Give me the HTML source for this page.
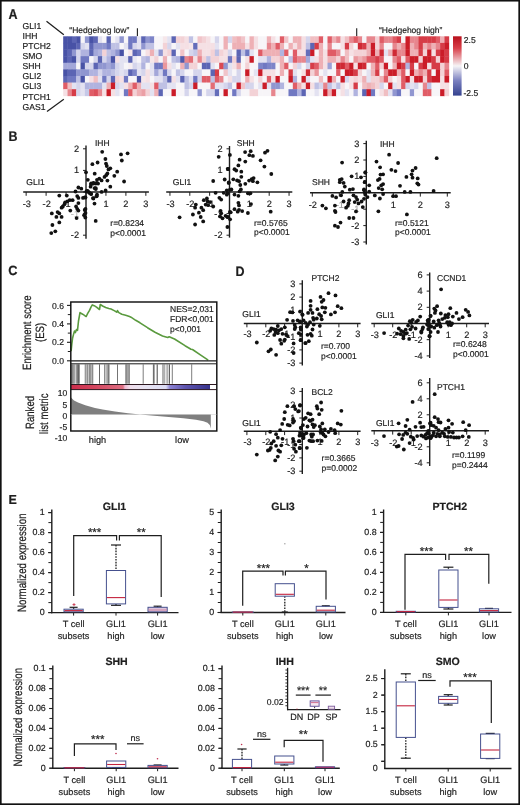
<!DOCTYPE html>
<html><head><meta charset="utf-8"><style>
html,body{margin:0;padding:0;background:#fff;}
#fig{position:relative;width:520px;height:805px;overflow:hidden;will-change:transform;}
svg{position:absolute;left:0;top:0;}
svg.main{filter:blur(0.3px);}
text{font-family:"Liberation Sans",sans-serif;stroke-width:0.18px;text-rendering:geometricPrecision;}
</style></head><body><div id="fig">
<svg class="main" width="520" height="805" viewBox="0 0 520 805">
<rect x="0" y="0" width="520" height="805" fill="#fff"/>
<text x="0" y="0" transform="translate(8.50,18.90) scale(1.0,1.14)" font-size="12.5" font-weight="bold" fill="#1e1e1e" stroke="#1e1e1e">A</text>
<text x="22.60" y="28.80" font-size="8.6" fill="#1e1e1e" stroke="#1e1e1e">GLI1</text>
<text x="22.60" y="38.90" font-size="8.6" fill="#1e1e1e" stroke="#1e1e1e">IHH</text>
<text x="22.60" y="49.00" font-size="8.6" fill="#1e1e1e" stroke="#1e1e1e">PTCH2</text>
<text x="22.60" y="59.10" font-size="8.6" fill="#1e1e1e" stroke="#1e1e1e">SMO</text>
<text x="22.60" y="69.20" font-size="8.6" fill="#1e1e1e" stroke="#1e1e1e">SHH</text>
<text x="22.60" y="79.30" font-size="8.6" fill="#1e1e1e" stroke="#1e1e1e">GLI2</text>
<text x="22.60" y="89.40" font-size="8.6" fill="#1e1e1e" stroke="#1e1e1e">GLI3</text>
<text x="22.60" y="99.50" font-size="8.6" fill="#1e1e1e" stroke="#1e1e1e">PTCH1</text>
<text x="22.60" y="109.60" font-size="8.6" fill="#1e1e1e" stroke="#1e1e1e">GAS1</text>
<line x1="46.50" y1="21.30" x2="63.80" y2="34.70" stroke="#1e1e1e" stroke-width="1.25"/>
<line x1="47.00" y1="111.60" x2="63.80" y2="99.30" stroke="#1e1e1e" stroke-width="1.25"/>
<text x="69.30" y="32.90" font-size="8.5" fill="#1e1e1e" stroke="#1e1e1e">“Hedgehog low”</text>
<line x1="137.40" y1="28.20" x2="137.40" y2="36.30" stroke="#1e1e1e" stroke-width="1.1"/>
<text x="379.00" y="33.00" font-size="8.5" fill="#1e1e1e" stroke="#1e1e1e">“Hedgehog high”</text>
<line x1="356.70" y1="28.20" x2="356.70" y2="36.30" stroke="#1e1e1e" stroke-width="1.1"/>
<rect x="63.20" y="36.30" width="4.68" height="6.96" fill="#4852a6"/>
<rect x="67.53" y="36.30" width="4.68" height="6.96" fill="#4852a6"/>
<rect x="71.87" y="36.30" width="4.68" height="6.96" fill="#5c65b4"/>
<rect x="76.20" y="36.30" width="4.68" height="6.96" fill="#4852a6"/>
<rect x="80.53" y="36.30" width="4.68" height="6.96" fill="#f7f5f8"/>
<rect x="84.86" y="36.30" width="4.68" height="6.96" fill="#9096d0"/>
<rect x="89.20" y="36.30" width="4.68" height="6.96" fill="#4852a6"/>
<rect x="93.53" y="36.30" width="4.68" height="6.96" fill="#5c65b4"/>
<rect x="97.86" y="36.30" width="4.68" height="6.96" fill="#e3e2f1"/>
<rect x="102.19" y="36.30" width="4.68" height="6.96" fill="#f7f5f8"/>
<rect x="106.53" y="36.30" width="4.68" height="6.96" fill="#5c65b4"/>
<rect x="110.86" y="36.30" width="4.68" height="6.96" fill="#f7f5f8"/>
<rect x="115.19" y="36.30" width="4.68" height="6.96" fill="#e3e2f1"/>
<rect x="119.52" y="36.30" width="4.68" height="6.96" fill="#9096d0"/>
<rect x="123.86" y="36.30" width="4.68" height="6.96" fill="#f7f5f8"/>
<rect x="128.19" y="36.30" width="4.68" height="6.96" fill="#7078c2"/>
<rect x="132.52" y="36.30" width="4.68" height="6.96" fill="#7078c2"/>
<rect x="136.85" y="36.30" width="4.68" height="6.96" fill="#e3e2f1"/>
<rect x="141.19" y="36.30" width="4.68" height="6.96" fill="#5c65b4"/>
<rect x="145.52" y="36.30" width="4.68" height="6.96" fill="#9096d0"/>
<rect x="149.85" y="36.30" width="4.68" height="6.96" fill="#7d84c8"/>
<rect x="154.18" y="36.30" width="4.68" height="6.96" fill="#f7f5f8"/>
<rect x="158.52" y="36.30" width="4.68" height="6.96" fill="#f7f5f8"/>
<rect x="162.85" y="36.30" width="4.68" height="6.96" fill="#f6e7ea"/>
<rect x="167.18" y="36.30" width="4.68" height="6.96" fill="#e3e2f1"/>
<rect x="171.51" y="36.30" width="4.68" height="6.96" fill="#5c65b4"/>
<rect x="175.85" y="36.30" width="4.68" height="6.96" fill="#f3d2d6"/>
<rect x="180.18" y="36.30" width="4.68" height="6.96" fill="#f3d2d6"/>
<rect x="184.51" y="36.30" width="4.68" height="6.96" fill="#f5e0e4"/>
<rect x="188.84" y="36.30" width="4.68" height="6.96" fill="#bfc1e4"/>
<rect x="193.18" y="36.30" width="4.68" height="6.96" fill="#f7f5f8"/>
<rect x="197.51" y="36.30" width="4.68" height="6.96" fill="#f1c4c9"/>
<rect x="201.84" y="36.30" width="4.68" height="6.96" fill="#f3d2d6"/>
<rect x="206.18" y="36.30" width="4.68" height="6.96" fill="#f5e0e4"/>
<rect x="210.51" y="36.30" width="4.68" height="6.96" fill="#f7f5f8"/>
<rect x="214.84" y="36.30" width="4.68" height="6.96" fill="#d5d5ec"/>
<rect x="219.17" y="36.30" width="4.68" height="6.96" fill="#f7f5f8"/>
<rect x="223.51" y="36.30" width="4.68" height="6.96" fill="#eeb0b5"/>
<rect x="227.84" y="36.30" width="4.68" height="6.96" fill="#d5d5ec"/>
<rect x="232.17" y="36.30" width="4.68" height="6.96" fill="#f0bec2"/>
<rect x="236.50" y="36.30" width="4.68" height="6.96" fill="#eeb0b5"/>
<rect x="240.84" y="36.30" width="4.68" height="6.96" fill="#f1c4c9"/>
<rect x="245.17" y="36.30" width="4.68" height="6.96" fill="#f7f5f8"/>
<rect x="249.50" y="36.30" width="4.68" height="6.96" fill="#eeb0b5"/>
<rect x="253.83" y="36.30" width="4.68" height="6.96" fill="#f5e0e4"/>
<rect x="258.17" y="36.30" width="4.68" height="6.96" fill="#f7f5f8"/>
<rect x="262.50" y="36.30" width="4.68" height="6.96" fill="#f7f5f8"/>
<rect x="266.83" y="36.30" width="4.68" height="6.96" fill="#eeb0b5"/>
<rect x="271.16" y="36.30" width="4.68" height="6.96" fill="#f5e0e4"/>
<rect x="275.50" y="36.30" width="4.68" height="6.96" fill="#f7f5f8"/>
<rect x="279.83" y="36.30" width="4.68" height="6.96" fill="#e05c66"/>
<rect x="284.16" y="36.30" width="4.68" height="6.96" fill="#f1c4c9"/>
<rect x="288.49" y="36.30" width="4.68" height="6.96" fill="#f7f5f8"/>
<rect x="292.83" y="36.30" width="4.68" height="6.96" fill="#eeb0b5"/>
<rect x="297.16" y="36.30" width="4.68" height="6.96" fill="#eeb0b5"/>
<rect x="301.49" y="36.30" width="4.68" height="6.96" fill="#f5e0e4"/>
<rect x="305.82" y="36.30" width="4.68" height="6.96" fill="#d5d5ec"/>
<rect x="310.16" y="36.30" width="4.68" height="6.96" fill="#f0bec2"/>
<rect x="314.49" y="36.30" width="4.68" height="6.96" fill="#f0bec2"/>
<rect x="318.82" y="36.30" width="4.68" height="6.96" fill="#e05c66"/>
<rect x="323.16" y="36.30" width="4.68" height="6.96" fill="#f7f5f8"/>
<rect x="327.49" y="36.30" width="4.68" height="6.96" fill="#e05c66"/>
<rect x="331.82" y="36.30" width="4.68" height="6.96" fill="#eeb0b5"/>
<rect x="336.15" y="36.30" width="4.68" height="6.96" fill="#e7868e"/>
<rect x="340.49" y="36.30" width="4.68" height="6.96" fill="#f5e0e4"/>
<rect x="344.82" y="36.30" width="4.68" height="6.96" fill="#f0bec2"/>
<rect x="349.15" y="36.30" width="4.68" height="6.96" fill="#e7868e"/>
<rect x="353.48" y="36.30" width="4.68" height="6.96" fill="#e05c66"/>
<rect x="357.82" y="36.30" width="4.68" height="6.96" fill="#e7868e"/>
<rect x="362.15" y="36.30" width="4.68" height="6.96" fill="#f7f5f8"/>
<rect x="366.48" y="36.30" width="4.68" height="6.96" fill="#e7868e"/>
<rect x="370.81" y="36.30" width="4.68" height="6.96" fill="#e7868e"/>
<rect x="375.15" y="36.30" width="4.68" height="6.96" fill="#f3d2d6"/>
<rect x="379.48" y="36.30" width="4.68" height="6.96" fill="#e05c66"/>
<rect x="383.81" y="36.30" width="4.68" height="6.96" fill="#e7868e"/>
<rect x="388.14" y="36.30" width="4.68" height="6.96" fill="#e7868e"/>
<rect x="392.48" y="36.30" width="4.68" height="6.96" fill="#e05c66"/>
<rect x="396.81" y="36.30" width="4.68" height="6.96" fill="#d63c47"/>
<rect x="401.14" y="36.30" width="4.68" height="6.96" fill="#f7f5f8"/>
<rect x="405.47" y="36.30" width="4.68" height="6.96" fill="#cb1c28"/>
<rect x="409.81" y="36.30" width="4.68" height="6.96" fill="#e7868e"/>
<rect x="414.14" y="36.30" width="4.68" height="6.96" fill="#e7868e"/>
<rect x="418.47" y="36.30" width="4.68" height="6.96" fill="#d63c47"/>
<rect x="422.80" y="36.30" width="4.68" height="6.96" fill="#d63c47"/>
<rect x="427.14" y="36.30" width="4.68" height="6.96" fill="#d63c47"/>
<rect x="431.47" y="36.30" width="4.68" height="6.96" fill="#d63c47"/>
<rect x="435.80" y="36.30" width="4.68" height="6.96" fill="#e05c66"/>
<rect x="440.13" y="36.30" width="4.68" height="6.96" fill="#eeb0b5"/>
<rect x="444.47" y="36.30" width="4.68" height="6.96" fill="#d63c47"/>
<rect x="63.20" y="42.91" width="4.68" height="6.96" fill="#4852a6"/>
<rect x="67.53" y="42.91" width="4.68" height="6.96" fill="#4852a6"/>
<rect x="71.87" y="42.91" width="4.68" height="6.96" fill="#4852a6"/>
<rect x="76.20" y="42.91" width="4.68" height="6.96" fill="#5c65b4"/>
<rect x="80.53" y="42.91" width="4.68" height="6.96" fill="#d5d5ec"/>
<rect x="84.86" y="42.91" width="4.68" height="6.96" fill="#e3e2f1"/>
<rect x="89.20" y="42.91" width="4.68" height="6.96" fill="#5c65b4"/>
<rect x="93.53" y="42.91" width="4.68" height="6.96" fill="#9096d0"/>
<rect x="97.86" y="42.91" width="4.68" height="6.96" fill="#9096d0"/>
<rect x="102.19" y="42.91" width="4.68" height="6.96" fill="#9096d0"/>
<rect x="106.53" y="42.91" width="4.68" height="6.96" fill="#7078c2"/>
<rect x="110.86" y="42.91" width="4.68" height="6.96" fill="#bfc1e4"/>
<rect x="115.19" y="42.91" width="4.68" height="6.96" fill="#bfc1e4"/>
<rect x="119.52" y="42.91" width="4.68" height="6.96" fill="#f7f5f8"/>
<rect x="123.86" y="42.91" width="4.68" height="6.96" fill="#e3e2f1"/>
<rect x="128.19" y="42.91" width="4.68" height="6.96" fill="#7078c2"/>
<rect x="132.52" y="42.91" width="4.68" height="6.96" fill="#d5d5ec"/>
<rect x="136.85" y="42.91" width="4.68" height="6.96" fill="#e3e2f1"/>
<rect x="141.19" y="42.91" width="4.68" height="6.96" fill="#9096d0"/>
<rect x="145.52" y="42.91" width="4.68" height="6.96" fill="#bfc1e4"/>
<rect x="149.85" y="42.91" width="4.68" height="6.96" fill="#bfc1e4"/>
<rect x="154.18" y="42.91" width="4.68" height="6.96" fill="#f7f5f8"/>
<rect x="158.52" y="42.91" width="4.68" height="6.96" fill="#f7f5f8"/>
<rect x="162.85" y="42.91" width="4.68" height="6.96" fill="#f3d2d6"/>
<rect x="167.18" y="42.91" width="4.68" height="6.96" fill="#d5d5ec"/>
<rect x="171.51" y="42.91" width="4.68" height="6.96" fill="#f7f5f8"/>
<rect x="175.85" y="42.91" width="4.68" height="6.96" fill="#e3e2f1"/>
<rect x="180.18" y="42.91" width="4.68" height="6.96" fill="#f5e0e4"/>
<rect x="184.51" y="42.91" width="4.68" height="6.96" fill="#f5e0e4"/>
<rect x="188.84" y="42.91" width="4.68" height="6.96" fill="#f6e7ea"/>
<rect x="193.18" y="42.91" width="4.68" height="6.96" fill="#646dba"/>
<rect x="197.51" y="42.91" width="4.68" height="6.96" fill="#f5e0e4"/>
<rect x="201.84" y="42.91" width="4.68" height="6.96" fill="#f5e0e4"/>
<rect x="206.18" y="42.91" width="4.68" height="6.96" fill="#f5e0e4"/>
<rect x="210.51" y="42.91" width="4.68" height="6.96" fill="#f5e0e4"/>
<rect x="214.84" y="42.91" width="4.68" height="6.96" fill="#e3e2f1"/>
<rect x="219.17" y="42.91" width="4.68" height="6.96" fill="#f7f5f8"/>
<rect x="223.51" y="42.91" width="4.68" height="6.96" fill="#eeb0b5"/>
<rect x="227.84" y="42.91" width="4.68" height="6.96" fill="#f7f5f8"/>
<rect x="232.17" y="42.91" width="4.68" height="6.96" fill="#eeb0b5"/>
<rect x="236.50" y="42.91" width="4.68" height="6.96" fill="#eeb0b5"/>
<rect x="240.84" y="42.91" width="4.68" height="6.96" fill="#eeb0b5"/>
<rect x="245.17" y="42.91" width="4.68" height="6.96" fill="#f5e0e4"/>
<rect x="249.50" y="42.91" width="4.68" height="6.96" fill="#eeb0b5"/>
<rect x="253.83" y="42.91" width="4.68" height="6.96" fill="#f5e0e4"/>
<rect x="258.17" y="42.91" width="4.68" height="6.96" fill="#f7f5f8"/>
<rect x="262.50" y="42.91" width="4.68" height="6.96" fill="#f7f5f8"/>
<rect x="266.83" y="42.91" width="4.68" height="6.96" fill="#e7868e"/>
<rect x="271.16" y="42.91" width="4.68" height="6.96" fill="#eeb0b5"/>
<rect x="275.50" y="42.91" width="4.68" height="6.96" fill="#e05c66"/>
<rect x="279.83" y="42.91" width="4.68" height="6.96" fill="#eeb0b5"/>
<rect x="284.16" y="42.91" width="4.68" height="6.96" fill="#f7f5f8"/>
<rect x="288.49" y="42.91" width="4.68" height="6.96" fill="#eeb0b5"/>
<rect x="292.83" y="42.91" width="4.68" height="6.96" fill="#f5e0e4"/>
<rect x="297.16" y="42.91" width="4.68" height="6.96" fill="#eeb0b5"/>
<rect x="301.49" y="42.91" width="4.68" height="6.96" fill="#f5e0e4"/>
<rect x="305.82" y="42.91" width="4.68" height="6.96" fill="#bfc1e4"/>
<rect x="310.16" y="42.91" width="4.68" height="6.96" fill="#5c65b4"/>
<rect x="314.49" y="42.91" width="4.68" height="6.96" fill="#d63c47"/>
<rect x="318.82" y="42.91" width="4.68" height="6.96" fill="#eeb0b5"/>
<rect x="323.16" y="42.91" width="4.68" height="6.96" fill="#f7f5f8"/>
<rect x="327.49" y="42.91" width="4.68" height="6.96" fill="#e7868e"/>
<rect x="331.82" y="42.91" width="4.68" height="6.96" fill="#f7f5f8"/>
<rect x="336.15" y="42.91" width="4.68" height="6.96" fill="#f7f5f8"/>
<rect x="340.49" y="42.91" width="4.68" height="6.96" fill="#f5e0e4"/>
<rect x="344.82" y="42.91" width="4.68" height="6.96" fill="#d63c47"/>
<rect x="349.15" y="42.91" width="4.68" height="6.96" fill="#f3d2d6"/>
<rect x="353.48" y="42.91" width="4.68" height="6.96" fill="#f7f5f8"/>
<rect x="357.82" y="42.91" width="4.68" height="6.96" fill="#cf2934"/>
<rect x="362.15" y="42.91" width="4.68" height="6.96" fill="#d63c47"/>
<rect x="366.48" y="42.91" width="4.68" height="6.96" fill="#eeb0b5"/>
<rect x="370.81" y="42.91" width="4.68" height="6.96" fill="#cb1c28"/>
<rect x="375.15" y="42.91" width="4.68" height="6.96" fill="#f3d2d6"/>
<rect x="379.48" y="42.91" width="4.68" height="6.96" fill="#e7868e"/>
<rect x="383.81" y="42.91" width="4.68" height="6.96" fill="#f7f5f8"/>
<rect x="388.14" y="42.91" width="4.68" height="6.96" fill="#f7f5f8"/>
<rect x="392.48" y="42.91" width="4.68" height="6.96" fill="#e7868e"/>
<rect x="396.81" y="42.91" width="4.68" height="6.96" fill="#eeb0b5"/>
<rect x="401.14" y="42.91" width="4.68" height="6.96" fill="#e7868e"/>
<rect x="405.47" y="42.91" width="4.68" height="6.96" fill="#cb1c28"/>
<rect x="409.81" y="42.91" width="4.68" height="6.96" fill="#eeb0b5"/>
<rect x="414.14" y="42.91" width="4.68" height="6.96" fill="#e7868e"/>
<rect x="418.47" y="42.91" width="4.68" height="6.96" fill="#d63c47"/>
<rect x="422.80" y="42.91" width="4.68" height="6.96" fill="#eeb0b5"/>
<rect x="427.14" y="42.91" width="4.68" height="6.96" fill="#e7868e"/>
<rect x="431.47" y="42.91" width="4.68" height="6.96" fill="#eeb0b5"/>
<rect x="435.80" y="42.91" width="4.68" height="6.96" fill="#e7868e"/>
<rect x="440.13" y="42.91" width="4.68" height="6.96" fill="#d63c47"/>
<rect x="444.47" y="42.91" width="4.68" height="6.96" fill="#cb1c28"/>
<rect x="63.20" y="49.52" width="4.68" height="6.96" fill="#4852a6"/>
<rect x="67.53" y="49.52" width="4.68" height="6.96" fill="#5c65b4"/>
<rect x="71.87" y="49.52" width="4.68" height="6.96" fill="#9096d0"/>
<rect x="76.20" y="49.52" width="4.68" height="6.96" fill="#d5d5ec"/>
<rect x="80.53" y="49.52" width="4.68" height="6.96" fill="#b0b3df"/>
<rect x="84.86" y="49.52" width="4.68" height="6.96" fill="#b0b3df"/>
<rect x="89.20" y="49.52" width="4.68" height="6.96" fill="#5c65b4"/>
<rect x="93.53" y="49.52" width="4.68" height="6.96" fill="#a3a7d9"/>
<rect x="97.86" y="49.52" width="4.68" height="6.96" fill="#b0b3df"/>
<rect x="102.19" y="49.52" width="4.68" height="6.96" fill="#f3d2d6"/>
<rect x="106.53" y="49.52" width="4.68" height="6.96" fill="#bfc1e4"/>
<rect x="110.86" y="49.52" width="4.68" height="6.96" fill="#b0b3df"/>
<rect x="115.19" y="49.52" width="4.68" height="6.96" fill="#9096d0"/>
<rect x="119.52" y="49.52" width="4.68" height="6.96" fill="#4852a6"/>
<rect x="123.86" y="49.52" width="4.68" height="6.96" fill="#f7f5f8"/>
<rect x="128.19" y="49.52" width="4.68" height="6.96" fill="#f6e7ea"/>
<rect x="132.52" y="49.52" width="4.68" height="6.96" fill="#5c65b4"/>
<rect x="136.85" y="49.52" width="4.68" height="6.96" fill="#7078c2"/>
<rect x="141.19" y="49.52" width="4.68" height="6.96" fill="#f7f5f8"/>
<rect x="145.52" y="49.52" width="4.68" height="6.96" fill="#f5e0e4"/>
<rect x="149.85" y="49.52" width="4.68" height="6.96" fill="#eeb0b5"/>
<rect x="154.18" y="49.52" width="4.68" height="6.96" fill="#e3e2f1"/>
<rect x="158.52" y="49.52" width="4.68" height="6.96" fill="#9096d0"/>
<rect x="162.85" y="49.52" width="4.68" height="6.96" fill="#f5e0e4"/>
<rect x="167.18" y="49.52" width="4.68" height="6.96" fill="#f3d2d6"/>
<rect x="171.51" y="49.52" width="4.68" height="6.96" fill="#5c65b4"/>
<rect x="175.85" y="49.52" width="4.68" height="6.96" fill="#f7f5f8"/>
<rect x="180.18" y="49.52" width="4.68" height="6.96" fill="#f1c4c9"/>
<rect x="184.51" y="49.52" width="4.68" height="6.96" fill="#f7f5f8"/>
<rect x="188.84" y="49.52" width="4.68" height="6.96" fill="#d5d5ec"/>
<rect x="193.18" y="49.52" width="4.68" height="6.96" fill="#c6c8e7"/>
<rect x="197.51" y="49.52" width="4.68" height="6.96" fill="#eeb0b5"/>
<rect x="201.84" y="49.52" width="4.68" height="6.96" fill="#f5e0e4"/>
<rect x="206.18" y="49.52" width="4.68" height="6.96" fill="#f5e0e4"/>
<rect x="210.51" y="49.52" width="4.68" height="6.96" fill="#f3d2d6"/>
<rect x="214.84" y="49.52" width="4.68" height="6.96" fill="#bfc1e4"/>
<rect x="219.17" y="49.52" width="4.68" height="6.96" fill="#f3d2d6"/>
<rect x="223.51" y="49.52" width="4.68" height="6.96" fill="#f5e0e4"/>
<rect x="227.84" y="49.52" width="4.68" height="6.96" fill="#d5d5ec"/>
<rect x="232.17" y="49.52" width="4.68" height="6.96" fill="#f7f5f8"/>
<rect x="236.50" y="49.52" width="4.68" height="6.96" fill="#5c65b4"/>
<rect x="240.84" y="49.52" width="4.68" height="6.96" fill="#bfc1e4"/>
<rect x="245.17" y="49.52" width="4.68" height="6.96" fill="#7078c2"/>
<rect x="249.50" y="49.52" width="4.68" height="6.96" fill="#e3e2f1"/>
<rect x="253.83" y="49.52" width="4.68" height="6.96" fill="#f7f5f8"/>
<rect x="258.17" y="49.52" width="4.68" height="6.96" fill="#e05c66"/>
<rect x="262.50" y="49.52" width="4.68" height="6.96" fill="#eeb0b5"/>
<rect x="266.83" y="49.52" width="4.68" height="6.96" fill="#eeb0b5"/>
<rect x="271.16" y="49.52" width="4.68" height="6.96" fill="#eeb0b5"/>
<rect x="275.50" y="49.52" width="4.68" height="6.96" fill="#eeb0b5"/>
<rect x="279.83" y="49.52" width="4.68" height="6.96" fill="#b0b3df"/>
<rect x="284.16" y="49.52" width="4.68" height="6.96" fill="#e05c66"/>
<rect x="288.49" y="49.52" width="4.68" height="6.96" fill="#f7f5f8"/>
<rect x="292.83" y="49.52" width="4.68" height="6.96" fill="#e05c66"/>
<rect x="297.16" y="49.52" width="4.68" height="6.96" fill="#f5e0e4"/>
<rect x="301.49" y="49.52" width="4.68" height="6.96" fill="#f5e0e4"/>
<rect x="305.82" y="49.52" width="4.68" height="6.96" fill="#646dba"/>
<rect x="310.16" y="49.52" width="4.68" height="6.96" fill="#cb1c28"/>
<rect x="314.49" y="49.52" width="4.68" height="6.96" fill="#f7f5f8"/>
<rect x="318.82" y="49.52" width="4.68" height="6.96" fill="#eeb0b5"/>
<rect x="323.16" y="49.52" width="4.68" height="6.96" fill="#f5e0e4"/>
<rect x="327.49" y="49.52" width="4.68" height="6.96" fill="#e05c66"/>
<rect x="331.82" y="49.52" width="4.68" height="6.96" fill="#e05c66"/>
<rect x="336.15" y="49.52" width="4.68" height="6.96" fill="#e7868e"/>
<rect x="340.49" y="49.52" width="4.68" height="6.96" fill="#f7f5f8"/>
<rect x="344.82" y="49.52" width="4.68" height="6.96" fill="#f0bec2"/>
<rect x="349.15" y="49.52" width="4.68" height="6.96" fill="#f5e0e4"/>
<rect x="353.48" y="49.52" width="4.68" height="6.96" fill="#f3d2d6"/>
<rect x="357.82" y="49.52" width="4.68" height="6.96" fill="#f3d2d6"/>
<rect x="362.15" y="49.52" width="4.68" height="6.96" fill="#f3d2d6"/>
<rect x="366.48" y="49.52" width="4.68" height="6.96" fill="#eeb0b5"/>
<rect x="370.81" y="49.52" width="4.68" height="6.96" fill="#cb1c28"/>
<rect x="375.15" y="49.52" width="4.68" height="6.96" fill="#eeb0b5"/>
<rect x="379.48" y="49.52" width="4.68" height="6.96" fill="#cf2934"/>
<rect x="383.81" y="49.52" width="4.68" height="6.96" fill="#e3e2f1"/>
<rect x="388.14" y="49.52" width="4.68" height="6.96" fill="#eeb0b5"/>
<rect x="392.48" y="49.52" width="4.68" height="6.96" fill="#cf2934"/>
<rect x="396.81" y="49.52" width="4.68" height="6.96" fill="#e7868e"/>
<rect x="401.14" y="49.52" width="4.68" height="6.96" fill="#e7868e"/>
<rect x="405.47" y="49.52" width="4.68" height="6.96" fill="#cb1c28"/>
<rect x="409.81" y="49.52" width="4.68" height="6.96" fill="#eeb0b5"/>
<rect x="414.14" y="49.52" width="4.68" height="6.96" fill="#eeb0b5"/>
<rect x="418.47" y="49.52" width="4.68" height="6.96" fill="#d63c47"/>
<rect x="422.80" y="49.52" width="4.68" height="6.96" fill="#f3d2d6"/>
<rect x="427.14" y="49.52" width="4.68" height="6.96" fill="#cb1c28"/>
<rect x="431.47" y="49.52" width="4.68" height="6.96" fill="#f5e0e4"/>
<rect x="435.80" y="49.52" width="4.68" height="6.96" fill="#d63c47"/>
<rect x="440.13" y="49.52" width="4.68" height="6.96" fill="#cb1c28"/>
<rect x="444.47" y="49.52" width="4.68" height="6.96" fill="#d63c47"/>
<rect x="63.20" y="56.13" width="4.68" height="6.96" fill="#4852a6"/>
<rect x="67.53" y="56.13" width="4.68" height="6.96" fill="#5c65b4"/>
<rect x="71.87" y="56.13" width="4.68" height="6.96" fill="#4852a6"/>
<rect x="76.20" y="56.13" width="4.68" height="6.96" fill="#d5d5ec"/>
<rect x="80.53" y="56.13" width="4.68" height="6.96" fill="#7078c2"/>
<rect x="84.86" y="56.13" width="4.68" height="6.96" fill="#7078c2"/>
<rect x="89.20" y="56.13" width="4.68" height="6.96" fill="#f7f5f8"/>
<rect x="93.53" y="56.13" width="4.68" height="6.96" fill="#d5d5ec"/>
<rect x="97.86" y="56.13" width="4.68" height="6.96" fill="#5c65b4"/>
<rect x="102.19" y="56.13" width="4.68" height="6.96" fill="#d5d5ec"/>
<rect x="106.53" y="56.13" width="4.68" height="6.96" fill="#b0b3df"/>
<rect x="110.86" y="56.13" width="4.68" height="6.96" fill="#4852a6"/>
<rect x="115.19" y="56.13" width="4.68" height="6.96" fill="#f5e0e4"/>
<rect x="119.52" y="56.13" width="4.68" height="6.96" fill="#e3e2f1"/>
<rect x="123.86" y="56.13" width="4.68" height="6.96" fill="#e3e2f1"/>
<rect x="128.19" y="56.13" width="4.68" height="6.96" fill="#5c65b4"/>
<rect x="132.52" y="56.13" width="4.68" height="6.96" fill="#eae8f4"/>
<rect x="136.85" y="56.13" width="4.68" height="6.96" fill="#f7f5f8"/>
<rect x="141.19" y="56.13" width="4.68" height="6.96" fill="#bfc1e4"/>
<rect x="145.52" y="56.13" width="4.68" height="6.96" fill="#b0b3df"/>
<rect x="149.85" y="56.13" width="4.68" height="6.96" fill="#f6e7ea"/>
<rect x="154.18" y="56.13" width="4.68" height="6.96" fill="#f3d2d6"/>
<rect x="158.52" y="56.13" width="4.68" height="6.96" fill="#f7f5f8"/>
<rect x="162.85" y="56.13" width="4.68" height="6.96" fill="#eeb0b5"/>
<rect x="167.18" y="56.13" width="4.68" height="6.96" fill="#f7f5f8"/>
<rect x="171.51" y="56.13" width="4.68" height="6.96" fill="#bfc1e4"/>
<rect x="175.85" y="56.13" width="4.68" height="6.96" fill="#b0b3df"/>
<rect x="180.18" y="56.13" width="4.68" height="6.96" fill="#505aac"/>
<rect x="184.51" y="56.13" width="4.68" height="6.96" fill="#e7868e"/>
<rect x="188.84" y="56.13" width="4.68" height="6.96" fill="#e36d76"/>
<rect x="193.18" y="56.13" width="4.68" height="6.96" fill="#f5e0e4"/>
<rect x="197.51" y="56.13" width="4.68" height="6.96" fill="#e7868e"/>
<rect x="201.84" y="56.13" width="4.68" height="6.96" fill="#f3d2d6"/>
<rect x="206.18" y="56.13" width="4.68" height="6.96" fill="#bfc1e4"/>
<rect x="210.51" y="56.13" width="4.68" height="6.96" fill="#f3d2d6"/>
<rect x="214.84" y="56.13" width="4.68" height="6.96" fill="#f3d2d6"/>
<rect x="219.17" y="56.13" width="4.68" height="6.96" fill="#f5e0e4"/>
<rect x="223.51" y="56.13" width="4.68" height="6.96" fill="#f5e0e4"/>
<rect x="227.84" y="56.13" width="4.68" height="6.96" fill="#7078c2"/>
<rect x="232.17" y="56.13" width="4.68" height="6.96" fill="#f3d2d6"/>
<rect x="236.50" y="56.13" width="4.68" height="6.96" fill="#5c65b4"/>
<rect x="240.84" y="56.13" width="4.68" height="6.96" fill="#f7f5f8"/>
<rect x="245.17" y="56.13" width="4.68" height="6.96" fill="#f5e0e4"/>
<rect x="249.50" y="56.13" width="4.68" height="6.96" fill="#cb1c28"/>
<rect x="253.83" y="56.13" width="4.68" height="6.96" fill="#f7f5f8"/>
<rect x="258.17" y="56.13" width="4.68" height="6.96" fill="#e3e2f1"/>
<rect x="262.50" y="56.13" width="4.68" height="6.96" fill="#e3e2f1"/>
<rect x="266.83" y="56.13" width="4.68" height="6.96" fill="#b0b3df"/>
<rect x="271.16" y="56.13" width="4.68" height="6.96" fill="#f3d2d6"/>
<rect x="275.50" y="56.13" width="4.68" height="6.96" fill="#f3d2d6"/>
<rect x="279.83" y="56.13" width="4.68" height="6.96" fill="#eeb0b5"/>
<rect x="284.16" y="56.13" width="4.68" height="6.96" fill="#f7f5f8"/>
<rect x="288.49" y="56.13" width="4.68" height="6.96" fill="#bfc1e4"/>
<rect x="292.83" y="56.13" width="4.68" height="6.96" fill="#e05c66"/>
<rect x="297.16" y="56.13" width="4.68" height="6.96" fill="#e7868e"/>
<rect x="301.49" y="56.13" width="4.68" height="6.96" fill="#e7868e"/>
<rect x="305.82" y="56.13" width="4.68" height="6.96" fill="#a3a7d9"/>
<rect x="310.16" y="56.13" width="4.68" height="6.96" fill="#e3e2f1"/>
<rect x="314.49" y="56.13" width="4.68" height="6.96" fill="#f5e0e4"/>
<rect x="318.82" y="56.13" width="4.68" height="6.96" fill="#eeb0b5"/>
<rect x="323.16" y="56.13" width="4.68" height="6.96" fill="#f5e0e4"/>
<rect x="327.49" y="56.13" width="4.68" height="6.96" fill="#eeb0b5"/>
<rect x="331.82" y="56.13" width="4.68" height="6.96" fill="#eeb0b5"/>
<rect x="336.15" y="56.13" width="4.68" height="6.96" fill="#f3d2d6"/>
<rect x="340.49" y="56.13" width="4.68" height="6.96" fill="#e7868e"/>
<rect x="344.82" y="56.13" width="4.68" height="6.96" fill="#f0bec2"/>
<rect x="349.15" y="56.13" width="4.68" height="6.96" fill="#f7f5f8"/>
<rect x="353.48" y="56.13" width="4.68" height="6.96" fill="#ea979d"/>
<rect x="357.82" y="56.13" width="4.68" height="6.96" fill="#eeb0b5"/>
<rect x="362.15" y="56.13" width="4.68" height="6.96" fill="#ea979d"/>
<rect x="366.48" y="56.13" width="4.68" height="6.96" fill="#e05c66"/>
<rect x="370.81" y="56.13" width="4.68" height="6.96" fill="#e05c66"/>
<rect x="375.15" y="56.13" width="4.68" height="6.96" fill="#d63c47"/>
<rect x="379.48" y="56.13" width="4.68" height="6.96" fill="#e05c66"/>
<rect x="383.81" y="56.13" width="4.68" height="6.96" fill="#f7f5f8"/>
<rect x="388.14" y="56.13" width="4.68" height="6.96" fill="#f7f5f8"/>
<rect x="392.48" y="56.13" width="4.68" height="6.96" fill="#e7868e"/>
<rect x="396.81" y="56.13" width="4.68" height="6.96" fill="#e05c66"/>
<rect x="401.14" y="56.13" width="4.68" height="6.96" fill="#f5e0e4"/>
<rect x="405.47" y="56.13" width="4.68" height="6.96" fill="#e05c66"/>
<rect x="409.81" y="56.13" width="4.68" height="6.96" fill="#cb1c28"/>
<rect x="414.14" y="56.13" width="4.68" height="6.96" fill="#cb1c28"/>
<rect x="418.47" y="56.13" width="4.68" height="6.96" fill="#f3d2d6"/>
<rect x="422.80" y="56.13" width="4.68" height="6.96" fill="#cb1c28"/>
<rect x="427.14" y="56.13" width="4.68" height="6.96" fill="#cb1c28"/>
<rect x="431.47" y="56.13" width="4.68" height="6.96" fill="#d63c47"/>
<rect x="435.80" y="56.13" width="4.68" height="6.96" fill="#f3d2d6"/>
<rect x="440.13" y="56.13" width="4.68" height="6.96" fill="#cb1c28"/>
<rect x="444.47" y="56.13" width="4.68" height="6.96" fill="#d63c47"/>
<rect x="63.20" y="62.74" width="4.68" height="6.96" fill="#a3a7d9"/>
<rect x="67.53" y="62.74" width="4.68" height="6.96" fill="#a3a7d9"/>
<rect x="71.87" y="62.74" width="4.68" height="6.96" fill="#a3a7d9"/>
<rect x="76.20" y="62.74" width="4.68" height="6.96" fill="#f7f5f8"/>
<rect x="80.53" y="62.74" width="4.68" height="6.96" fill="#4852a6"/>
<rect x="84.86" y="62.74" width="4.68" height="6.96" fill="#d5d5ec"/>
<rect x="89.20" y="62.74" width="4.68" height="6.96" fill="#d5d5ec"/>
<rect x="93.53" y="62.74" width="4.68" height="6.96" fill="#5c65b4"/>
<rect x="97.86" y="62.74" width="4.68" height="6.96" fill="#9096d0"/>
<rect x="102.19" y="62.74" width="4.68" height="6.96" fill="#9096d0"/>
<rect x="106.53" y="62.74" width="4.68" height="6.96" fill="#a3a7d9"/>
<rect x="110.86" y="62.74" width="4.68" height="6.96" fill="#9096d0"/>
<rect x="115.19" y="62.74" width="4.68" height="6.96" fill="#d5d5ec"/>
<rect x="119.52" y="62.74" width="4.68" height="6.96" fill="#e3e2f1"/>
<rect x="123.86" y="62.74" width="4.68" height="6.96" fill="#f7f5f8"/>
<rect x="128.19" y="62.74" width="4.68" height="6.96" fill="#f6eef1"/>
<rect x="132.52" y="62.74" width="4.68" height="6.96" fill="#d5d5ec"/>
<rect x="136.85" y="62.74" width="4.68" height="6.96" fill="#e3e2f1"/>
<rect x="141.19" y="62.74" width="4.68" height="6.96" fill="#b0b3df"/>
<rect x="145.52" y="62.74" width="4.68" height="6.96" fill="#f7f5f8"/>
<rect x="149.85" y="62.74" width="4.68" height="6.96" fill="#e3e2f1"/>
<rect x="154.18" y="62.74" width="4.68" height="6.96" fill="#7078c2"/>
<rect x="158.52" y="62.74" width="4.68" height="6.96" fill="#7078c2"/>
<rect x="162.85" y="62.74" width="4.68" height="6.96" fill="#ea979d"/>
<rect x="167.18" y="62.74" width="4.68" height="6.96" fill="#f5e0e4"/>
<rect x="171.51" y="62.74" width="4.68" height="6.96" fill="#e3e2f1"/>
<rect x="175.85" y="62.74" width="4.68" height="6.96" fill="#f7f5f8"/>
<rect x="180.18" y="62.74" width="4.68" height="6.96" fill="#eeb0b5"/>
<rect x="184.51" y="62.74" width="4.68" height="6.96" fill="#9096d0"/>
<rect x="188.84" y="62.74" width="4.68" height="6.96" fill="#f3d2d6"/>
<rect x="193.18" y="62.74" width="4.68" height="6.96" fill="#f3d2d6"/>
<rect x="197.51" y="62.74" width="4.68" height="6.96" fill="#f7f5f8"/>
<rect x="201.84" y="62.74" width="4.68" height="6.96" fill="#5c65b4"/>
<rect x="206.18" y="62.74" width="4.68" height="6.96" fill="#5c65b4"/>
<rect x="210.51" y="62.74" width="4.68" height="6.96" fill="#e3e2f1"/>
<rect x="214.84" y="62.74" width="4.68" height="6.96" fill="#f7f5f8"/>
<rect x="219.17" y="62.74" width="4.68" height="6.96" fill="#da4953"/>
<rect x="223.51" y="62.74" width="4.68" height="6.96" fill="#9096d0"/>
<rect x="227.84" y="62.74" width="4.68" height="6.96" fill="#e3e2f1"/>
<rect x="232.17" y="62.74" width="4.68" height="6.96" fill="#f5e0e4"/>
<rect x="236.50" y="62.74" width="4.68" height="6.96" fill="#eeb0b5"/>
<rect x="240.84" y="62.74" width="4.68" height="6.96" fill="#f7f5f8"/>
<rect x="245.17" y="62.74" width="4.68" height="6.96" fill="#f3d2d6"/>
<rect x="249.50" y="62.74" width="4.68" height="6.96" fill="#f7f5f8"/>
<rect x="253.83" y="62.74" width="4.68" height="6.96" fill="#f7f5f8"/>
<rect x="258.17" y="62.74" width="4.68" height="6.96" fill="#7d84c8"/>
<rect x="262.50" y="62.74" width="4.68" height="6.96" fill="#7078c2"/>
<rect x="266.83" y="62.74" width="4.68" height="6.96" fill="#7d84c8"/>
<rect x="271.16" y="62.74" width="4.68" height="6.96" fill="#7d84c8"/>
<rect x="275.50" y="62.74" width="4.68" height="6.96" fill="#f7f5f8"/>
<rect x="279.83" y="62.74" width="4.68" height="6.96" fill="#eeb0b5"/>
<rect x="284.16" y="62.74" width="4.68" height="6.96" fill="#e05c66"/>
<rect x="288.49" y="62.74" width="4.68" height="6.96" fill="#f7f5f8"/>
<rect x="292.83" y="62.74" width="4.68" height="6.96" fill="#f3d2d6"/>
<rect x="297.16" y="62.74" width="4.68" height="6.96" fill="#d5d5ec"/>
<rect x="301.49" y="62.74" width="4.68" height="6.96" fill="#f7f5f8"/>
<rect x="305.82" y="62.74" width="4.68" height="6.96" fill="#d5d5ec"/>
<rect x="310.16" y="62.74" width="4.68" height="6.96" fill="#d63c47"/>
<rect x="314.49" y="62.74" width="4.68" height="6.96" fill="#e05c66"/>
<rect x="318.82" y="62.74" width="4.68" height="6.96" fill="#eeb0b5"/>
<rect x="323.16" y="62.74" width="4.68" height="6.96" fill="#f5e0e4"/>
<rect x="327.49" y="62.74" width="4.68" height="6.96" fill="#9da1d6"/>
<rect x="331.82" y="62.74" width="4.68" height="6.96" fill="#f7f5f8"/>
<rect x="336.15" y="62.74" width="4.68" height="6.96" fill="#cf2934"/>
<rect x="340.49" y="62.74" width="4.68" height="6.96" fill="#cf2934"/>
<rect x="344.82" y="62.74" width="4.68" height="6.96" fill="#e05c66"/>
<rect x="349.15" y="62.74" width="4.68" height="6.96" fill="#cb1c28"/>
<rect x="353.48" y="62.74" width="4.68" height="6.96" fill="#f5e0e4"/>
<rect x="357.82" y="62.74" width="4.68" height="6.96" fill="#cb1c28"/>
<rect x="362.15" y="62.74" width="4.68" height="6.96" fill="#cf2934"/>
<rect x="366.48" y="62.74" width="4.68" height="6.96" fill="#f7f5f8"/>
<rect x="370.81" y="62.74" width="4.68" height="6.96" fill="#eeb0b5"/>
<rect x="375.15" y="62.74" width="4.68" height="6.96" fill="#e05c66"/>
<rect x="379.48" y="62.74" width="4.68" height="6.96" fill="#f3d2d6"/>
<rect x="383.81" y="62.74" width="4.68" height="6.96" fill="#cb1c28"/>
<rect x="388.14" y="62.74" width="4.68" height="6.96" fill="#f7f5f8"/>
<rect x="392.48" y="62.74" width="4.68" height="6.96" fill="#eeb0b5"/>
<rect x="396.81" y="62.74" width="4.68" height="6.96" fill="#cb1c28"/>
<rect x="401.14" y="62.74" width="4.68" height="6.96" fill="#d63c47"/>
<rect x="405.47" y="62.74" width="4.68" height="6.96" fill="#b0b3df"/>
<rect x="409.81" y="62.74" width="4.68" height="6.96" fill="#d63c47"/>
<rect x="414.14" y="62.74" width="4.68" height="6.96" fill="#f7f5f8"/>
<rect x="418.47" y="62.74" width="4.68" height="6.96" fill="#d63c47"/>
<rect x="422.80" y="62.74" width="4.68" height="6.96" fill="#cb1c28"/>
<rect x="427.14" y="62.74" width="4.68" height="6.96" fill="#f5e0e4"/>
<rect x="431.47" y="62.74" width="4.68" height="6.96" fill="#d63c47"/>
<rect x="435.80" y="62.74" width="4.68" height="6.96" fill="#d63c47"/>
<rect x="440.13" y="62.74" width="4.68" height="6.96" fill="#f3d2d6"/>
<rect x="444.47" y="62.74" width="4.68" height="6.96" fill="#e7868e"/>
<rect x="63.20" y="69.36" width="4.68" height="6.96" fill="#4852a6"/>
<rect x="67.53" y="69.36" width="4.68" height="6.96" fill="#5c65b4"/>
<rect x="71.87" y="69.36" width="4.68" height="6.96" fill="#5c65b4"/>
<rect x="76.20" y="69.36" width="4.68" height="6.96" fill="#9096d0"/>
<rect x="80.53" y="69.36" width="4.68" height="6.96" fill="#9096d0"/>
<rect x="84.86" y="69.36" width="4.68" height="6.96" fill="#9096d0"/>
<rect x="89.20" y="69.36" width="4.68" height="6.96" fill="#b0b3df"/>
<rect x="93.53" y="69.36" width="4.68" height="6.96" fill="#b0b3df"/>
<rect x="97.86" y="69.36" width="4.68" height="6.96" fill="#d5d5ec"/>
<rect x="102.19" y="69.36" width="4.68" height="6.96" fill="#b0b3df"/>
<rect x="106.53" y="69.36" width="4.68" height="6.96" fill="#b0b3df"/>
<rect x="110.86" y="69.36" width="4.68" height="6.96" fill="#bfc1e4"/>
<rect x="115.19" y="69.36" width="4.68" height="6.96" fill="#d5d5ec"/>
<rect x="119.52" y="69.36" width="4.68" height="6.96" fill="#e3e2f1"/>
<rect x="123.86" y="69.36" width="4.68" height="6.96" fill="#d5d5ec"/>
<rect x="128.19" y="69.36" width="4.68" height="6.96" fill="#5c65b4"/>
<rect x="132.52" y="69.36" width="4.68" height="6.96" fill="#7d84c8"/>
<rect x="136.85" y="69.36" width="4.68" height="6.96" fill="#e3e2f1"/>
<rect x="141.19" y="69.36" width="4.68" height="6.96" fill="#d5d5ec"/>
<rect x="145.52" y="69.36" width="4.68" height="6.96" fill="#f5e0e4"/>
<rect x="149.85" y="69.36" width="4.68" height="6.96" fill="#e3e2f1"/>
<rect x="154.18" y="69.36" width="4.68" height="6.96" fill="#a3a7d9"/>
<rect x="158.52" y="69.36" width="4.68" height="6.96" fill="#d5d5ec"/>
<rect x="162.85" y="69.36" width="4.68" height="6.96" fill="#7078c2"/>
<rect x="167.18" y="69.36" width="4.68" height="6.96" fill="#d5d5ec"/>
<rect x="171.51" y="69.36" width="4.68" height="6.96" fill="#f7f5f8"/>
<rect x="175.85" y="69.36" width="4.68" height="6.96" fill="#bfc1e4"/>
<rect x="180.18" y="69.36" width="4.68" height="6.96" fill="#d5d5ec"/>
<rect x="184.51" y="69.36" width="4.68" height="6.96" fill="#f7f5f8"/>
<rect x="188.84" y="69.36" width="4.68" height="6.96" fill="#f7f5f8"/>
<rect x="193.18" y="69.36" width="4.68" height="6.96" fill="#d5d5ec"/>
<rect x="197.51" y="69.36" width="4.68" height="6.96" fill="#d5d5ec"/>
<rect x="201.84" y="69.36" width="4.68" height="6.96" fill="#f7f5f8"/>
<rect x="206.18" y="69.36" width="4.68" height="6.96" fill="#f7f5f8"/>
<rect x="210.51" y="69.36" width="4.68" height="6.96" fill="#5c65b4"/>
<rect x="214.84" y="69.36" width="4.68" height="6.96" fill="#d63c47"/>
<rect x="219.17" y="69.36" width="4.68" height="6.96" fill="#f7f5f8"/>
<rect x="223.51" y="69.36" width="4.68" height="6.96" fill="#f1c4c9"/>
<rect x="227.84" y="69.36" width="4.68" height="6.96" fill="#e3e2f1"/>
<rect x="232.17" y="69.36" width="4.68" height="6.96" fill="#f7f5f8"/>
<rect x="236.50" y="69.36" width="4.68" height="6.96" fill="#d5d5ec"/>
<rect x="240.84" y="69.36" width="4.68" height="6.96" fill="#f7f5f8"/>
<rect x="245.17" y="69.36" width="4.68" height="6.96" fill="#cb1c28"/>
<rect x="249.50" y="69.36" width="4.68" height="6.96" fill="#f7f5f8"/>
<rect x="253.83" y="69.36" width="4.68" height="6.96" fill="#e3e2f1"/>
<rect x="258.17" y="69.36" width="4.68" height="6.96" fill="#cb1c28"/>
<rect x="262.50" y="69.36" width="4.68" height="6.96" fill="#f5e0e4"/>
<rect x="266.83" y="69.36" width="4.68" height="6.96" fill="#f5e0e4"/>
<rect x="271.16" y="69.36" width="4.68" height="6.96" fill="#f5e0e4"/>
<rect x="275.50" y="69.36" width="4.68" height="6.96" fill="#f7f5f8"/>
<rect x="279.83" y="69.36" width="4.68" height="6.96" fill="#eeb0b5"/>
<rect x="284.16" y="69.36" width="4.68" height="6.96" fill="#f7f5f8"/>
<rect x="288.49" y="69.36" width="4.68" height="6.96" fill="#d63c47"/>
<rect x="292.83" y="69.36" width="4.68" height="6.96" fill="#e3e2f1"/>
<rect x="297.16" y="69.36" width="4.68" height="6.96" fill="#f7f5f8"/>
<rect x="301.49" y="69.36" width="4.68" height="6.96" fill="#f5e0e4"/>
<rect x="305.82" y="69.36" width="4.68" height="6.96" fill="#cf2934"/>
<rect x="310.16" y="69.36" width="4.68" height="6.96" fill="#f3d2d6"/>
<rect x="314.49" y="69.36" width="4.68" height="6.96" fill="#ea979d"/>
<rect x="318.82" y="69.36" width="4.68" height="6.96" fill="#f7f5f8"/>
<rect x="323.16" y="69.36" width="4.68" height="6.96" fill="#e3e2f1"/>
<rect x="327.49" y="69.36" width="4.68" height="6.96" fill="#f7f5f8"/>
<rect x="331.82" y="69.36" width="4.68" height="6.96" fill="#f7f5f8"/>
<rect x="336.15" y="69.36" width="4.68" height="6.96" fill="#e05c66"/>
<rect x="340.49" y="69.36" width="4.68" height="6.96" fill="#f7f5f8"/>
<rect x="344.82" y="69.36" width="4.68" height="6.96" fill="#cb1c28"/>
<rect x="349.15" y="69.36" width="4.68" height="6.96" fill="#cb1c28"/>
<rect x="353.48" y="69.36" width="4.68" height="6.96" fill="#d63c47"/>
<rect x="357.82" y="69.36" width="4.68" height="6.96" fill="#f3d2d6"/>
<rect x="362.15" y="69.36" width="4.68" height="6.96" fill="#f7f5f8"/>
<rect x="366.48" y="69.36" width="4.68" height="6.96" fill="#e3e2f1"/>
<rect x="370.81" y="69.36" width="4.68" height="6.96" fill="#eeb0b5"/>
<rect x="375.15" y="69.36" width="4.68" height="6.96" fill="#d63c47"/>
<rect x="379.48" y="69.36" width="4.68" height="6.96" fill="#f7f5f8"/>
<rect x="383.81" y="69.36" width="4.68" height="6.96" fill="#e7868e"/>
<rect x="388.14" y="69.36" width="4.68" height="6.96" fill="#cb1c28"/>
<rect x="392.48" y="69.36" width="4.68" height="6.96" fill="#cb1c28"/>
<rect x="396.81" y="69.36" width="4.68" height="6.96" fill="#eeb0b5"/>
<rect x="401.14" y="69.36" width="4.68" height="6.96" fill="#e05c66"/>
<rect x="405.47" y="69.36" width="4.68" height="6.96" fill="#f7f5f8"/>
<rect x="409.81" y="69.36" width="4.68" height="6.96" fill="#cb1c28"/>
<rect x="414.14" y="69.36" width="4.68" height="6.96" fill="#eeb0b5"/>
<rect x="418.47" y="69.36" width="4.68" height="6.96" fill="#e7868e"/>
<rect x="422.80" y="69.36" width="4.68" height="6.96" fill="#eeb0b5"/>
<rect x="427.14" y="69.36" width="4.68" height="6.96" fill="#d63c47"/>
<rect x="431.47" y="69.36" width="4.68" height="6.96" fill="#f7f5f8"/>
<rect x="435.80" y="69.36" width="4.68" height="6.96" fill="#cb1c28"/>
<rect x="440.13" y="69.36" width="4.68" height="6.96" fill="#f3d2d6"/>
<rect x="444.47" y="69.36" width="4.68" height="6.96" fill="#e05c66"/>
<rect x="63.20" y="75.97" width="4.68" height="6.96" fill="#5c65b4"/>
<rect x="67.53" y="75.97" width="4.68" height="6.96" fill="#7078c2"/>
<rect x="71.87" y="75.97" width="4.68" height="6.96" fill="#7078c2"/>
<rect x="76.20" y="75.97" width="4.68" height="6.96" fill="#bfc1e4"/>
<rect x="80.53" y="75.97" width="4.68" height="6.96" fill="#4852a6"/>
<rect x="84.86" y="75.97" width="4.68" height="6.96" fill="#f7f5f8"/>
<rect x="89.20" y="75.97" width="4.68" height="6.96" fill="#f5e0e4"/>
<rect x="93.53" y="75.97" width="4.68" height="6.96" fill="#f0bec2"/>
<rect x="97.86" y="75.97" width="4.68" height="6.96" fill="#e3e2f1"/>
<rect x="102.19" y="75.97" width="4.68" height="6.96" fill="#7078c2"/>
<rect x="106.53" y="75.97" width="4.68" height="6.96" fill="#d5d5ec"/>
<rect x="110.86" y="75.97" width="4.68" height="6.96" fill="#5c65b4"/>
<rect x="115.19" y="75.97" width="4.68" height="6.96" fill="#f3d2d6"/>
<rect x="119.52" y="75.97" width="4.68" height="6.96" fill="#f5e0e4"/>
<rect x="123.86" y="75.97" width="4.68" height="6.96" fill="#7078c2"/>
<rect x="128.19" y="75.97" width="4.68" height="6.96" fill="#f7f5f8"/>
<rect x="132.52" y="75.97" width="4.68" height="6.96" fill="#f7f5f8"/>
<rect x="136.85" y="75.97" width="4.68" height="6.96" fill="#4852a6"/>
<rect x="141.19" y="75.97" width="4.68" height="6.96" fill="#f6e7ea"/>
<rect x="145.52" y="75.97" width="4.68" height="6.96" fill="#f5e0e4"/>
<rect x="149.85" y="75.97" width="4.68" height="6.96" fill="#f7f5f8"/>
<rect x="154.18" y="75.97" width="4.68" height="6.96" fill="#e3e2f1"/>
<rect x="158.52" y="75.97" width="4.68" height="6.96" fill="#e3e2f1"/>
<rect x="162.85" y="75.97" width="4.68" height="6.96" fill="#bfc1e4"/>
<rect x="167.18" y="75.97" width="4.68" height="6.96" fill="#5c65b4"/>
<rect x="171.51" y="75.97" width="4.68" height="6.96" fill="#f5e0e4"/>
<rect x="175.85" y="75.97" width="4.68" height="6.96" fill="#e3e2f1"/>
<rect x="180.18" y="75.97" width="4.68" height="6.96" fill="#5c65b4"/>
<rect x="184.51" y="75.97" width="4.68" height="6.96" fill="#bfc1e4"/>
<rect x="188.84" y="75.97" width="4.68" height="6.96" fill="#e3e2f1"/>
<rect x="193.18" y="75.97" width="4.68" height="6.96" fill="#7078c2"/>
<rect x="197.51" y="75.97" width="4.68" height="6.96" fill="#d5d5ec"/>
<rect x="201.84" y="75.97" width="4.68" height="6.96" fill="#e05c66"/>
<rect x="206.18" y="75.97" width="4.68" height="6.96" fill="#e05c66"/>
<rect x="210.51" y="75.97" width="4.68" height="6.96" fill="#bfc1e4"/>
<rect x="214.84" y="75.97" width="4.68" height="6.96" fill="#e05c66"/>
<rect x="219.17" y="75.97" width="4.68" height="6.96" fill="#e7868e"/>
<rect x="223.51" y="75.97" width="4.68" height="6.96" fill="#f7f5f8"/>
<rect x="227.84" y="75.97" width="4.68" height="6.96" fill="#f5e0e4"/>
<rect x="232.17" y="75.97" width="4.68" height="6.96" fill="#d5d5ec"/>
<rect x="236.50" y="75.97" width="4.68" height="6.96" fill="#d5d5ec"/>
<rect x="240.84" y="75.97" width="4.68" height="6.96" fill="#f7f5f8"/>
<rect x="245.17" y="75.97" width="4.68" height="6.96" fill="#eeb0b5"/>
<rect x="249.50" y="75.97" width="4.68" height="6.96" fill="#f5e0e4"/>
<rect x="253.83" y="75.97" width="4.68" height="6.96" fill="#f7f5f8"/>
<rect x="258.17" y="75.97" width="4.68" height="6.96" fill="#f3d2d6"/>
<rect x="262.50" y="75.97" width="4.68" height="6.96" fill="#f7f5f8"/>
<rect x="266.83" y="75.97" width="4.68" height="6.96" fill="#e05c66"/>
<rect x="271.16" y="75.97" width="4.68" height="6.96" fill="#f5e0e4"/>
<rect x="275.50" y="75.97" width="4.68" height="6.96" fill="#cb1c28"/>
<rect x="279.83" y="75.97" width="4.68" height="6.96" fill="#f7f5f8"/>
<rect x="284.16" y="75.97" width="4.68" height="6.96" fill="#f7f5f8"/>
<rect x="288.49" y="75.97" width="4.68" height="6.96" fill="#cb1c28"/>
<rect x="292.83" y="75.97" width="4.68" height="6.96" fill="#b0b3df"/>
<rect x="297.16" y="75.97" width="4.68" height="6.96" fill="#f7f5f8"/>
<rect x="301.49" y="75.97" width="4.68" height="6.96" fill="#cb1c28"/>
<rect x="305.82" y="75.97" width="4.68" height="6.96" fill="#e3e2f1"/>
<rect x="310.16" y="75.97" width="4.68" height="6.96" fill="#f7f5f8"/>
<rect x="314.49" y="75.97" width="4.68" height="6.96" fill="#f7f5f8"/>
<rect x="318.82" y="75.97" width="4.68" height="6.96" fill="#f0bec2"/>
<rect x="323.16" y="75.97" width="4.68" height="6.96" fill="#f7f5f8"/>
<rect x="327.49" y="75.97" width="4.68" height="6.96" fill="#cb1c28"/>
<rect x="331.82" y="75.97" width="4.68" height="6.96" fill="#eeb0b5"/>
<rect x="336.15" y="75.97" width="4.68" height="6.96" fill="#f7f5f8"/>
<rect x="340.49" y="75.97" width="4.68" height="6.96" fill="#cb1c28"/>
<rect x="344.82" y="75.97" width="4.68" height="6.96" fill="#d5d5ec"/>
<rect x="349.15" y="75.97" width="4.68" height="6.96" fill="#f5e0e4"/>
<rect x="353.48" y="75.97" width="4.68" height="6.96" fill="#f3d2d6"/>
<rect x="357.82" y="75.97" width="4.68" height="6.96" fill="#f5e0e4"/>
<rect x="362.15" y="75.97" width="4.68" height="6.96" fill="#eeb0b5"/>
<rect x="366.48" y="75.97" width="4.68" height="6.96" fill="#e3e2f1"/>
<rect x="370.81" y="75.97" width="4.68" height="6.96" fill="#f3d2d6"/>
<rect x="375.15" y="75.97" width="4.68" height="6.96" fill="#f3d2d6"/>
<rect x="379.48" y="75.97" width="4.68" height="6.96" fill="#eeb0b5"/>
<rect x="383.81" y="75.97" width="4.68" height="6.96" fill="#e05c66"/>
<rect x="388.14" y="75.97" width="4.68" height="6.96" fill="#f3d2d6"/>
<rect x="392.48" y="75.97" width="4.68" height="6.96" fill="#f7f5f8"/>
<rect x="396.81" y="75.97" width="4.68" height="6.96" fill="#f5e0e4"/>
<rect x="401.14" y="75.97" width="4.68" height="6.96" fill="#e05c66"/>
<rect x="405.47" y="75.97" width="4.68" height="6.96" fill="#cb1c28"/>
<rect x="409.81" y="75.97" width="4.68" height="6.96" fill="#f5e0e4"/>
<rect x="414.14" y="75.97" width="4.68" height="6.96" fill="#cb1c28"/>
<rect x="418.47" y="75.97" width="4.68" height="6.96" fill="#cb1c28"/>
<rect x="422.80" y="75.97" width="4.68" height="6.96" fill="#f3d2d6"/>
<rect x="427.14" y="75.97" width="4.68" height="6.96" fill="#d63c47"/>
<rect x="431.47" y="75.97" width="4.68" height="6.96" fill="#cb1c28"/>
<rect x="435.80" y="75.97" width="4.68" height="6.96" fill="#cb1c28"/>
<rect x="440.13" y="75.97" width="4.68" height="6.96" fill="#f5e0e4"/>
<rect x="444.47" y="75.97" width="4.68" height="6.96" fill="#cb1c28"/>
<rect x="63.20" y="82.58" width="4.68" height="6.96" fill="#e05c66"/>
<rect x="67.53" y="82.58" width="4.68" height="6.96" fill="#f0bec2"/>
<rect x="71.87" y="82.58" width="4.68" height="6.96" fill="#e3e2f1"/>
<rect x="76.20" y="82.58" width="4.68" height="6.96" fill="#d5d5ec"/>
<rect x="80.53" y="82.58" width="4.68" height="6.96" fill="#e3e2f1"/>
<rect x="84.86" y="82.58" width="4.68" height="6.96" fill="#b0b3df"/>
<rect x="89.20" y="82.58" width="4.68" height="6.96" fill="#b0b3df"/>
<rect x="93.53" y="82.58" width="4.68" height="6.96" fill="#b0b3df"/>
<rect x="97.86" y="82.58" width="4.68" height="6.96" fill="#b0b3df"/>
<rect x="102.19" y="82.58" width="4.68" height="6.96" fill="#e3e2f1"/>
<rect x="106.53" y="82.58" width="4.68" height="6.96" fill="#eeb0b5"/>
<rect x="110.86" y="82.58" width="4.68" height="6.96" fill="#cb1c28"/>
<rect x="115.19" y="82.58" width="4.68" height="6.96" fill="#d5d5ec"/>
<rect x="119.52" y="82.58" width="4.68" height="6.96" fill="#e3e2f1"/>
<rect x="123.86" y="82.58" width="4.68" height="6.96" fill="#f5e0e4"/>
<rect x="128.19" y="82.58" width="4.68" height="6.96" fill="#eeb0b5"/>
<rect x="132.52" y="82.58" width="4.68" height="6.96" fill="#e05c66"/>
<rect x="136.85" y="82.58" width="4.68" height="6.96" fill="#eeb0b5"/>
<rect x="141.19" y="82.58" width="4.68" height="6.96" fill="#e3e2f1"/>
<rect x="145.52" y="82.58" width="4.68" height="6.96" fill="#e3e2f1"/>
<rect x="149.85" y="82.58" width="4.68" height="6.96" fill="#f5e0e4"/>
<rect x="154.18" y="82.58" width="4.68" height="6.96" fill="#e05c66"/>
<rect x="158.52" y="82.58" width="4.68" height="6.96" fill="#bfc1e4"/>
<rect x="162.85" y="82.58" width="4.68" height="6.96" fill="#bfc1e4"/>
<rect x="167.18" y="82.58" width="4.68" height="6.96" fill="#e3e2f1"/>
<rect x="171.51" y="82.58" width="4.68" height="6.96" fill="#e3e2f1"/>
<rect x="175.85" y="82.58" width="4.68" height="6.96" fill="#f7f5f8"/>
<rect x="180.18" y="82.58" width="4.68" height="6.96" fill="#f7f5f8"/>
<rect x="184.51" y="82.58" width="4.68" height="6.96" fill="#bfc1e4"/>
<rect x="188.84" y="82.58" width="4.68" height="6.96" fill="#d5d5ec"/>
<rect x="193.18" y="82.58" width="4.68" height="6.96" fill="#cb1c28"/>
<rect x="197.51" y="82.58" width="4.68" height="6.96" fill="#f7f5f8"/>
<rect x="201.84" y="82.58" width="4.68" height="6.96" fill="#f7f5f8"/>
<rect x="206.18" y="82.58" width="4.68" height="6.96" fill="#f7f5f8"/>
<rect x="210.51" y="82.58" width="4.68" height="6.96" fill="#e36d76"/>
<rect x="214.84" y="82.58" width="4.68" height="6.96" fill="#e3e2f1"/>
<rect x="219.17" y="82.58" width="4.68" height="6.96" fill="#e3e2f1"/>
<rect x="223.51" y="82.58" width="4.68" height="6.96" fill="#d5d5ec"/>
<rect x="227.84" y="82.58" width="4.68" height="6.96" fill="#bfc1e4"/>
<rect x="232.17" y="82.58" width="4.68" height="6.96" fill="#f7f5f8"/>
<rect x="236.50" y="82.58" width="4.68" height="6.96" fill="#cb1c28"/>
<rect x="240.84" y="82.58" width="4.68" height="6.96" fill="#f1c4c9"/>
<rect x="245.17" y="82.58" width="4.68" height="6.96" fill="#d5d5ec"/>
<rect x="249.50" y="82.58" width="4.68" height="6.96" fill="#d5d5ec"/>
<rect x="253.83" y="82.58" width="4.68" height="6.96" fill="#f7f5f8"/>
<rect x="258.17" y="82.58" width="4.68" height="6.96" fill="#e3e2f1"/>
<rect x="262.50" y="82.58" width="4.68" height="6.96" fill="#cb1c28"/>
<rect x="266.83" y="82.58" width="4.68" height="6.96" fill="#e3e2f1"/>
<rect x="271.16" y="82.58" width="4.68" height="6.96" fill="#9096d0"/>
<rect x="275.50" y="82.58" width="4.68" height="6.96" fill="#9096d0"/>
<rect x="279.83" y="82.58" width="4.68" height="6.96" fill="#b0b3df"/>
<rect x="284.16" y="82.58" width="4.68" height="6.96" fill="#f7f5f8"/>
<rect x="288.49" y="82.58" width="4.68" height="6.96" fill="#f7f5f8"/>
<rect x="292.83" y="82.58" width="4.68" height="6.96" fill="#e05c66"/>
<rect x="297.16" y="82.58" width="4.68" height="6.96" fill="#eeb0b5"/>
<rect x="301.49" y="82.58" width="4.68" height="6.96" fill="#f5e0e4"/>
<rect x="305.82" y="82.58" width="4.68" height="6.96" fill="#cb1c28"/>
<rect x="310.16" y="82.58" width="4.68" height="6.96" fill="#f5e0e4"/>
<rect x="314.49" y="82.58" width="4.68" height="6.96" fill="#bfc1e4"/>
<rect x="318.82" y="82.58" width="4.68" height="6.96" fill="#d5d5ec"/>
<rect x="323.16" y="82.58" width="4.68" height="6.96" fill="#e7868e"/>
<rect x="327.49" y="82.58" width="4.68" height="6.96" fill="#bfc1e4"/>
<rect x="331.82" y="82.58" width="4.68" height="6.96" fill="#e3e2f1"/>
<rect x="336.15" y="82.58" width="4.68" height="6.96" fill="#bfc1e4"/>
<rect x="340.49" y="82.58" width="4.68" height="6.96" fill="#f5e0e4"/>
<rect x="344.82" y="82.58" width="4.68" height="6.96" fill="#f7f5f8"/>
<rect x="349.15" y="82.58" width="4.68" height="6.96" fill="#f5e0e4"/>
<rect x="353.48" y="82.58" width="4.68" height="6.96" fill="#d63c47"/>
<rect x="357.82" y="82.58" width="4.68" height="6.96" fill="#f7f5f8"/>
<rect x="362.15" y="82.58" width="4.68" height="6.96" fill="#f0bec2"/>
<rect x="366.48" y="82.58" width="4.68" height="6.96" fill="#eeb0b5"/>
<rect x="370.81" y="82.58" width="4.68" height="6.96" fill="#f0bec2"/>
<rect x="375.15" y="82.58" width="4.68" height="6.96" fill="#f3d2d6"/>
<rect x="379.48" y="82.58" width="4.68" height="6.96" fill="#d5d5ec"/>
<rect x="383.81" y="82.58" width="4.68" height="6.96" fill="#f7f5f8"/>
<rect x="388.14" y="82.58" width="4.68" height="6.96" fill="#cb1c28"/>
<rect x="392.48" y="82.58" width="4.68" height="6.96" fill="#e3e2f1"/>
<rect x="396.81" y="82.58" width="4.68" height="6.96" fill="#f5e0e4"/>
<rect x="401.14" y="82.58" width="4.68" height="6.96" fill="#e05c66"/>
<rect x="405.47" y="82.58" width="4.68" height="6.96" fill="#d5d5ec"/>
<rect x="409.81" y="82.58" width="4.68" height="6.96" fill="#e3e2f1"/>
<rect x="414.14" y="82.58" width="4.68" height="6.96" fill="#d5d5ec"/>
<rect x="418.47" y="82.58" width="4.68" height="6.96" fill="#f7f5f8"/>
<rect x="422.80" y="82.58" width="4.68" height="6.96" fill="#e7868e"/>
<rect x="427.14" y="82.58" width="4.68" height="6.96" fill="#bfc1e4"/>
<rect x="431.47" y="82.58" width="4.68" height="6.96" fill="#f7f5f8"/>
<rect x="435.80" y="82.58" width="4.68" height="6.96" fill="#f7f5f8"/>
<rect x="440.13" y="82.58" width="4.68" height="6.96" fill="#f5e0e4"/>
<rect x="444.47" y="82.58" width="4.68" height="6.96" fill="#f5e0e4"/>
<rect x="63.20" y="89.19" width="4.68" height="6.96" fill="#f5e0e4"/>
<rect x="67.53" y="89.19" width="4.68" height="6.96" fill="#e7868e"/>
<rect x="71.87" y="89.19" width="4.68" height="6.96" fill="#d63c47"/>
<rect x="76.20" y="89.19" width="4.68" height="6.96" fill="#d5d5ec"/>
<rect x="80.53" y="89.19" width="4.68" height="6.96" fill="#e3e2f1"/>
<rect x="84.86" y="89.19" width="4.68" height="6.96" fill="#c6c8e7"/>
<rect x="89.20" y="89.19" width="4.68" height="6.96" fill="#e05c66"/>
<rect x="93.53" y="89.19" width="4.68" height="6.96" fill="#dc4f5a"/>
<rect x="97.86" y="89.19" width="4.68" height="6.96" fill="#e7868e"/>
<rect x="102.19" y="89.19" width="4.68" height="6.96" fill="#f5e0e4"/>
<rect x="106.53" y="89.19" width="4.68" height="6.96" fill="#cb1c28"/>
<rect x="110.86" y="89.19" width="4.68" height="6.96" fill="#f5e0e4"/>
<rect x="115.19" y="89.19" width="4.68" height="6.96" fill="#e3e2f1"/>
<rect x="119.52" y="89.19" width="4.68" height="6.96" fill="#f7f5f8"/>
<rect x="123.86" y="89.19" width="4.68" height="6.96" fill="#7078c2"/>
<rect x="128.19" y="89.19" width="4.68" height="6.96" fill="#e05c66"/>
<rect x="132.52" y="89.19" width="4.68" height="6.96" fill="#f3d2d6"/>
<rect x="136.85" y="89.19" width="4.68" height="6.96" fill="#eeb0b5"/>
<rect x="141.19" y="89.19" width="4.68" height="6.96" fill="#eb9fa5"/>
<rect x="145.52" y="89.19" width="4.68" height="6.96" fill="#f3d2d6"/>
<rect x="149.85" y="89.19" width="4.68" height="6.96" fill="#e3e2f1"/>
<rect x="154.18" y="89.19" width="4.68" height="6.96" fill="#eeb0b5"/>
<rect x="158.52" y="89.19" width="4.68" height="6.96" fill="#5c65b4"/>
<rect x="162.85" y="89.19" width="4.68" height="6.96" fill="#f7f5f8"/>
<rect x="167.18" y="89.19" width="4.68" height="6.96" fill="#f7f5f8"/>
<rect x="171.51" y="89.19" width="4.68" height="6.96" fill="#cb1c28"/>
<rect x="175.85" y="89.19" width="4.68" height="6.96" fill="#f7f5f8"/>
<rect x="180.18" y="89.19" width="4.68" height="6.96" fill="#f7f5f8"/>
<rect x="184.51" y="89.19" width="4.68" height="6.96" fill="#d5d5ec"/>
<rect x="188.84" y="89.19" width="4.68" height="6.96" fill="#f7f5f8"/>
<rect x="193.18" y="89.19" width="4.68" height="6.96" fill="#f7f5f8"/>
<rect x="197.51" y="89.19" width="4.68" height="6.96" fill="#9096d0"/>
<rect x="201.84" y="89.19" width="4.68" height="6.96" fill="#f7f5f8"/>
<rect x="206.18" y="89.19" width="4.68" height="6.96" fill="#d5d5ec"/>
<rect x="210.51" y="89.19" width="4.68" height="6.96" fill="#d5d5ec"/>
<rect x="214.84" y="89.19" width="4.68" height="6.96" fill="#646dba"/>
<rect x="219.17" y="89.19" width="4.68" height="6.96" fill="#f7f5f8"/>
<rect x="223.51" y="89.19" width="4.68" height="6.96" fill="#cb1c28"/>
<rect x="227.84" y="89.19" width="4.68" height="6.96" fill="#f7f5f8"/>
<rect x="232.17" y="89.19" width="4.68" height="6.96" fill="#7078c2"/>
<rect x="236.50" y="89.19" width="4.68" height="6.96" fill="#d5d5ec"/>
<rect x="240.84" y="89.19" width="4.68" height="6.96" fill="#f7f5f8"/>
<rect x="245.17" y="89.19" width="4.68" height="6.96" fill="#f7f5f8"/>
<rect x="249.50" y="89.19" width="4.68" height="6.96" fill="#f3d2d6"/>
<rect x="253.83" y="89.19" width="4.68" height="6.96" fill="#f3d2d6"/>
<rect x="258.17" y="89.19" width="4.68" height="6.96" fill="#f7f5f8"/>
<rect x="262.50" y="89.19" width="4.68" height="6.96" fill="#f7f5f8"/>
<rect x="266.83" y="89.19" width="4.68" height="6.96" fill="#f7f5f8"/>
<rect x="271.16" y="89.19" width="4.68" height="6.96" fill="#e7868e"/>
<rect x="275.50" y="89.19" width="4.68" height="6.96" fill="#f7f5f8"/>
<rect x="279.83" y="89.19" width="4.68" height="6.96" fill="#f7f5f8"/>
<rect x="284.16" y="89.19" width="4.68" height="6.96" fill="#f7f5f8"/>
<rect x="288.49" y="89.19" width="4.68" height="6.96" fill="#7078c2"/>
<rect x="292.83" y="89.19" width="4.68" height="6.96" fill="#7078c2"/>
<rect x="297.16" y="89.19" width="4.68" height="6.96" fill="#b0b3df"/>
<rect x="301.49" y="89.19" width="4.68" height="6.96" fill="#5c65b4"/>
<rect x="305.82" y="89.19" width="4.68" height="6.96" fill="#f7f5f8"/>
<rect x="310.16" y="89.19" width="4.68" height="6.96" fill="#f7f5f8"/>
<rect x="314.49" y="89.19" width="4.68" height="6.96" fill="#e3e2f1"/>
<rect x="318.82" y="89.19" width="4.68" height="6.96" fill="#f7f5f8"/>
<rect x="323.16" y="89.19" width="4.68" height="6.96" fill="#cb1c28"/>
<rect x="327.49" y="89.19" width="4.68" height="6.96" fill="#eeb0b5"/>
<rect x="331.82" y="89.19" width="4.68" height="6.96" fill="#cb1c28"/>
<rect x="336.15" y="89.19" width="4.68" height="6.96" fill="#f7f5f8"/>
<rect x="340.49" y="89.19" width="4.68" height="6.96" fill="#f5e0e4"/>
<rect x="344.82" y="89.19" width="4.68" height="6.96" fill="#e3e2f1"/>
<rect x="349.15" y="89.19" width="4.68" height="6.96" fill="#f7f5f8"/>
<rect x="353.48" y="89.19" width="4.68" height="6.96" fill="#b0b3df"/>
<rect x="357.82" y="89.19" width="4.68" height="6.96" fill="#f7f5f8"/>
<rect x="362.15" y="89.19" width="4.68" height="6.96" fill="#5c65b4"/>
<rect x="366.48" y="89.19" width="4.68" height="6.96" fill="#cb1c28"/>
<rect x="370.81" y="89.19" width="4.68" height="6.96" fill="#7078c2"/>
<rect x="375.15" y="89.19" width="4.68" height="6.96" fill="#f7f5f8"/>
<rect x="379.48" y="89.19" width="4.68" height="6.96" fill="#f5e0e4"/>
<rect x="383.81" y="89.19" width="4.68" height="6.96" fill="#f0bec2"/>
<rect x="388.14" y="89.19" width="4.68" height="6.96" fill="#e3e2f1"/>
<rect x="392.48" y="89.19" width="4.68" height="6.96" fill="#9096d0"/>
<rect x="396.81" y="89.19" width="4.68" height="6.96" fill="#7078c2"/>
<rect x="401.14" y="89.19" width="4.68" height="6.96" fill="#f7f5f8"/>
<rect x="405.47" y="89.19" width="4.68" height="6.96" fill="#f7f5f8"/>
<rect x="409.81" y="89.19" width="4.68" height="6.96" fill="#9096d0"/>
<rect x="414.14" y="89.19" width="4.68" height="6.96" fill="#f7f5f8"/>
<rect x="418.47" y="89.19" width="4.68" height="6.96" fill="#f7f5f8"/>
<rect x="422.80" y="89.19" width="4.68" height="6.96" fill="#e05c66"/>
<rect x="427.14" y="89.19" width="4.68" height="6.96" fill="#e05c66"/>
<rect x="431.47" y="89.19" width="4.68" height="6.96" fill="#f7f5f8"/>
<rect x="435.80" y="89.19" width="4.68" height="6.96" fill="#f7f5f8"/>
<rect x="440.13" y="89.19" width="4.68" height="6.96" fill="#cb1c28"/>
<rect x="444.47" y="89.19" width="4.68" height="6.96" fill="#f3d2d6"/>
<defs><linearGradient id="cb" x1="0" y1="0" x2="0" y2="1"><stop offset="0" stop-color="#b8101c"/><stop offset="0.2" stop-color="#d8404a"/><stop offset="0.5" stop-color="#f6f4f6"/><stop offset="0.75" stop-color="#7a80c0"/><stop offset="1" stop-color="#34428f"/></linearGradient></defs>
<rect x="453.00" y="36.30" width="8.60" height="59.30" fill="url(#cb)"/>
<text x="463.80" y="43.20" font-size="8.6" fill="#1e1e1e" stroke="#1e1e1e">2.5</text>
<text x="463.80" y="69.20" font-size="8.6" fill="#1e1e1e" stroke="#1e1e1e">0</text>
<text x="463.40" y="95.80" font-size="8.6" fill="#1e1e1e" stroke="#1e1e1e">-2.5</text>
<line x1="23.20" y1="192.00" x2="148.90" y2="192.00" stroke="#1e1e1e" stroke-width="1.4"/>
<line x1="86.00" y1="145.60" x2="86.00" y2="238.80" stroke="#1e1e1e" stroke-width="1.4"/>
<line x1="26.15" y1="192.00" x2="26.15" y2="195.80" stroke="#1e1e1e" stroke-width="1"/>
<text x="26.75" y="207.00" font-size="9.2" text-anchor="middle" fill="#1e1e1e" stroke="#1e1e1e">-3</text>
<line x1="46.10" y1="192.00" x2="46.10" y2="195.80" stroke="#1e1e1e" stroke-width="1"/>
<text x="46.70" y="207.00" font-size="9.2" text-anchor="middle" fill="#1e1e1e" stroke="#1e1e1e">-2</text>
<line x1="66.05" y1="192.00" x2="66.05" y2="195.80" stroke="#1e1e1e" stroke-width="1"/>
<text x="66.65" y="207.00" font-size="9.2" text-anchor="middle" fill="#1e1e1e" stroke="#1e1e1e">-1</text>
<line x1="86.00" y1="192.00" x2="86.00" y2="195.80" stroke="#1e1e1e" stroke-width="1"/>
<line x1="105.95" y1="192.00" x2="105.95" y2="195.80" stroke="#1e1e1e" stroke-width="1"/>
<text x="105.95" y="207.00" font-size="9.2" text-anchor="middle" fill="#1e1e1e" stroke="#1e1e1e">1</text>
<line x1="125.90" y1="192.00" x2="125.90" y2="195.80" stroke="#1e1e1e" stroke-width="1"/>
<text x="125.90" y="207.00" font-size="9.2" text-anchor="middle" fill="#1e1e1e" stroke="#1e1e1e">2</text>
<line x1="145.85" y1="192.00" x2="145.85" y2="195.80" stroke="#1e1e1e" stroke-width="1"/>
<text x="145.85" y="207.00" font-size="9.2" text-anchor="middle" fill="#1e1e1e" stroke="#1e1e1e">3</text>
<line x1="83.00" y1="235.20" x2="86.00" y2="235.20" stroke="#1e1e1e" stroke-width="1"/>
<text x="79.00" y="238.10" font-size="9.2" text-anchor="end" fill="#1e1e1e" stroke="#1e1e1e">-2</text>
<line x1="83.00" y1="213.60" x2="86.00" y2="213.60" stroke="#1e1e1e" stroke-width="1"/>
<text x="79.00" y="216.50" font-size="9.2" text-anchor="end" fill="#bbb" stroke="#bbb">-1</text>
<line x1="83.00" y1="192.00" x2="86.00" y2="192.00" stroke="#1e1e1e" stroke-width="1"/>
<line x1="83.00" y1="170.40" x2="86.00" y2="170.40" stroke="#1e1e1e" stroke-width="1"/>
<text x="79.00" y="173.30" font-size="9.2" text-anchor="end" fill="#1e1e1e" stroke="#1e1e1e">1</text>
<line x1="83.00" y1="148.80" x2="86.00" y2="148.80" stroke="#1e1e1e" stroke-width="1"/>
<text x="79.00" y="151.70" font-size="9.2" text-anchor="end" fill="#1e1e1e" stroke="#1e1e1e">2</text>
<text x="95.00" y="146.30" font-size="8.5" fill="#1e1e1e" stroke="#1e1e1e">IHH</text>
<text x="26.30" y="184.80" font-size="8.5" fill="#1e1e1e" stroke="#1e1e1e">GLI1</text>
<text x="110.30" y="226.40" font-size="8.5" fill="#1e1e1e" stroke="#1e1e1e">r=0.8234</text>
<text x="110.30" y="235.70" font-size="8.5" fill="#1e1e1e" stroke="#1e1e1e">p&lt;0.0001</text>
<circle cx="102.20" cy="151.80" r="1.9" fill="#111"/>
<circle cx="121.00" cy="154.40" r="1.9" fill="#111"/>
<circle cx="127.60" cy="153.30" r="1.9" fill="#111"/>
<circle cx="105.40" cy="159.00" r="1.9" fill="#111"/>
<circle cx="121.80" cy="160.50" r="1.9" fill="#111"/>
<circle cx="97.60" cy="162.50" r="1.9" fill="#111"/>
<circle cx="92.40" cy="164.20" r="1.9" fill="#111"/>
<circle cx="106.00" cy="163.60" r="1.9" fill="#111"/>
<circle cx="106.80" cy="166.00" r="1.9" fill="#111"/>
<circle cx="110.30" cy="168.30" r="1.9" fill="#111"/>
<circle cx="108.50" cy="169.40" r="1.9" fill="#111"/>
<circle cx="117.20" cy="171.70" r="1.9" fill="#111"/>
<circle cx="86.00" cy="172.30" r="1.9" fill="#111"/>
<circle cx="94.70" cy="173.70" r="1.9" fill="#111"/>
<circle cx="107.40" cy="173.40" r="1.9" fill="#111"/>
<circle cx="106.20" cy="175.20" r="1.9" fill="#111"/>
<circle cx="114.30" cy="175.80" r="1.9" fill="#111"/>
<circle cx="104.50" cy="176.90" r="1.9" fill="#111"/>
<circle cx="99.30" cy="178.60" r="1.9" fill="#111"/>
<circle cx="97.00" cy="179.80" r="1.9" fill="#111"/>
<circle cx="101.60" cy="180.40" r="1.9" fill="#111"/>
<circle cx="87.80" cy="179.80" r="1.9" fill="#111"/>
<circle cx="107.40" cy="180.60" r="1.9" fill="#111"/>
<circle cx="124.10" cy="181.50" r="1.9" fill="#111"/>
<circle cx="91.20" cy="183.30" r="1.9" fill="#111"/>
<circle cx="93.50" cy="182.90" r="1.9" fill="#111"/>
<circle cx="95.80" cy="183.60" r="1.9" fill="#111"/>
<circle cx="98.10" cy="183.60" r="1.9" fill="#111"/>
<circle cx="90.60" cy="186.70" r="1.9" fill="#111"/>
<circle cx="110.30" cy="186.70" r="1.9" fill="#111"/>
<circle cx="94.70" cy="188.20" r="1.9" fill="#111"/>
<circle cx="95.80" cy="189.00" r="1.9" fill="#111"/>
<circle cx="105.60" cy="190.50" r="1.9" fill="#111"/>
<circle cx="87.20" cy="190.80" r="1.9" fill="#111"/>
<circle cx="101.60" cy="191.90" r="1.9" fill="#111"/>
<circle cx="59.30" cy="195.60" r="1.9" fill="#111"/>
<circle cx="66.80" cy="195.60" r="1.9" fill="#111"/>
<circle cx="78.40" cy="187.50" r="1.9" fill="#111"/>
<circle cx="81.30" cy="188.70" r="1.9" fill="#111"/>
<circle cx="75.50" cy="191.50" r="1.9" fill="#111"/>
<circle cx="77.20" cy="196.10" r="1.9" fill="#111"/>
<circle cx="78.40" cy="197.90" r="1.9" fill="#111"/>
<circle cx="83.00" cy="197.90" r="1.9" fill="#111"/>
<circle cx="84.70" cy="197.30" r="1.9" fill="#111"/>
<circle cx="72.60" cy="200.20" r="1.9" fill="#111"/>
<circle cx="69.70" cy="200.20" r="1.9" fill="#111"/>
<circle cx="67.40" cy="201.30" r="1.9" fill="#111"/>
<circle cx="65.10" cy="202.50" r="1.9" fill="#111"/>
<circle cx="64.50" cy="204.20" r="1.9" fill="#111"/>
<circle cx="62.80" cy="206.50" r="1.9" fill="#111"/>
<circle cx="61.60" cy="207.70" r="1.9" fill="#111"/>
<circle cx="78.40" cy="203.10" r="1.9" fill="#111"/>
<circle cx="76.10" cy="206.50" r="1.9" fill="#111"/>
<circle cx="77.20" cy="208.80" r="1.9" fill="#111"/>
<circle cx="78.40" cy="210.60" r="1.9" fill="#111"/>
<circle cx="70.30" cy="210.60" r="1.9" fill="#111"/>
<circle cx="84.70" cy="210.00" r="1.9" fill="#111"/>
<circle cx="57.60" cy="212.10" r="1.9" fill="#111"/>
<circle cx="59.30" cy="213.40" r="1.9" fill="#111"/>
<circle cx="51.80" cy="213.40" r="1.9" fill="#111"/>
<circle cx="61.60" cy="216.90" r="1.9" fill="#111"/>
<circle cx="56.40" cy="216.90" r="1.9" fill="#111"/>
<circle cx="76.60" cy="218.10" r="1.9" fill="#111"/>
<circle cx="84.10" cy="215.20" r="1.9" fill="#111"/>
<circle cx="85.30" cy="217.50" r="1.9" fill="#111"/>
<circle cx="59.30" cy="222.40" r="1.9" fill="#111"/>
<circle cx="52.40" cy="225.00" r="1.9" fill="#111"/>
<circle cx="55.30" cy="231.30" r="1.9" fill="#111"/>
<circle cx="51.30" cy="233.10" r="1.9" fill="#111"/>
<circle cx="95.70" cy="220.90" r="1.9" fill="#111"/>
<circle cx="94.50" cy="203.60" r="1.9" fill="#111"/>
<circle cx="93.40" cy="198.50" r="1.9" fill="#111"/>
<circle cx="96.80" cy="196.10" r="1.9" fill="#111"/>
<circle cx="91.00" cy="193.80" r="1.9" fill="#111"/>
<circle cx="88.70" cy="192.10" r="1.9" fill="#111"/>
<circle cx="86.40" cy="191.50" r="1.9" fill="#111"/>
<circle cx="93.40" cy="183.50" r="1.9" fill="#111"/>
<circle cx="95.70" cy="188.10" r="1.9" fill="#111"/>
<circle cx="91.00" cy="184.60" r="1.9" fill="#111"/>
<circle cx="96.80" cy="182.90" r="1.9" fill="#111"/>
<circle cx="97.00" cy="194.60" r="1.9" fill="#111"/>
<circle cx="96.40" cy="196.30" r="1.9" fill="#111"/>
<circle cx="93.00" cy="198.10" r="1.9" fill="#111"/>
<circle cx="87.80" cy="191.10" r="1.9" fill="#111"/>
<circle cx="89.50" cy="192.90" r="1.9" fill="#111"/>
<circle cx="91.20" cy="194.00" r="1.9" fill="#111"/>
<circle cx="85.50" cy="197.50" r="1.9" fill="#111"/>
<circle cx="85.50" cy="209.00" r="1.9" fill="#111"/>
<circle cx="85.50" cy="213.00" r="1.9" fill="#111"/>
<line x1="166.20" y1="192.00" x2="292.30" y2="192.00" stroke="#1e1e1e" stroke-width="1.4"/>
<line x1="229.50" y1="146.00" x2="229.50" y2="237.60" stroke="#1e1e1e" stroke-width="1.4"/>
<line x1="169.95" y1="192.00" x2="169.95" y2="195.80" stroke="#1e1e1e" stroke-width="1"/>
<text x="170.55" y="207.00" font-size="9.2" text-anchor="middle" fill="#1e1e1e" stroke="#1e1e1e">-3</text>
<line x1="189.80" y1="192.00" x2="189.80" y2="195.80" stroke="#1e1e1e" stroke-width="1"/>
<text x="190.40" y="207.00" font-size="9.2" text-anchor="middle" fill="#1e1e1e" stroke="#1e1e1e">-2</text>
<line x1="209.65" y1="192.00" x2="209.65" y2="195.80" stroke="#1e1e1e" stroke-width="1"/>
<text x="210.25" y="207.00" font-size="9.2" text-anchor="middle" fill="#1e1e1e" stroke="#1e1e1e">-1</text>
<line x1="229.50" y1="192.00" x2="229.50" y2="195.80" stroke="#1e1e1e" stroke-width="1"/>
<line x1="249.35" y1="192.00" x2="249.35" y2="195.80" stroke="#1e1e1e" stroke-width="1"/>
<text x="249.35" y="207.00" font-size="9.2" text-anchor="middle" fill="#1e1e1e" stroke="#1e1e1e">1</text>
<line x1="269.20" y1="192.00" x2="269.20" y2="195.80" stroke="#1e1e1e" stroke-width="1"/>
<text x="269.20" y="207.00" font-size="9.2" text-anchor="middle" fill="#1e1e1e" stroke="#1e1e1e">2</text>
<line x1="289.05" y1="192.00" x2="289.05" y2="195.80" stroke="#1e1e1e" stroke-width="1"/>
<text x="289.05" y="207.00" font-size="9.2" text-anchor="middle" fill="#1e1e1e" stroke="#1e1e1e">3</text>
<line x1="226.50" y1="235.20" x2="229.50" y2="235.20" stroke="#1e1e1e" stroke-width="1"/>
<text x="222.50" y="238.10" font-size="9.2" text-anchor="end" fill="#1e1e1e" stroke="#1e1e1e">-2</text>
<line x1="226.50" y1="213.60" x2="229.50" y2="213.60" stroke="#1e1e1e" stroke-width="1"/>
<text x="222.50" y="216.50" font-size="9.2" text-anchor="end" fill="#1e1e1e" stroke="#1e1e1e">-1</text>
<line x1="226.50" y1="192.00" x2="229.50" y2="192.00" stroke="#1e1e1e" stroke-width="1"/>
<line x1="226.50" y1="170.40" x2="229.50" y2="170.40" stroke="#1e1e1e" stroke-width="1"/>
<text x="222.50" y="173.30" font-size="9.2" text-anchor="end" fill="#1e1e1e" stroke="#1e1e1e">1</text>
<line x1="226.50" y1="148.80" x2="229.50" y2="148.80" stroke="#1e1e1e" stroke-width="1"/>
<text x="222.50" y="151.70" font-size="9.2" text-anchor="end" fill="#1e1e1e" stroke="#1e1e1e">2</text>
<text x="236.80" y="145.50" font-size="8.5" fill="#1e1e1e" stroke="#1e1e1e">SHH</text>
<text x="172.80" y="185.00" font-size="8.5" fill="#1e1e1e" stroke="#1e1e1e">GLI1</text>
<text x="254.00" y="225.70" font-size="8.5" fill="#1e1e1e" stroke="#1e1e1e">r=0.5765</text>
<text x="254.00" y="235.30" font-size="8.5" fill="#1e1e1e" stroke="#1e1e1e">p&lt;0.0001</text>
<circle cx="218.70" cy="156.80" r="1.9" fill="#111"/>
<circle cx="229.90" cy="154.90" r="1.9" fill="#111"/>
<circle cx="227.70" cy="168.80" r="1.9" fill="#111"/>
<circle cx="213.20" cy="181.00" r="1.9" fill="#111"/>
<circle cx="224.70" cy="179.50" r="1.9" fill="#111"/>
<circle cx="228.70" cy="182.90" r="1.9" fill="#111"/>
<circle cx="226.80" cy="190.30" r="1.9" fill="#111"/>
<circle cx="223.70" cy="192.80" r="1.9" fill="#111"/>
<circle cx="226.80" cy="194.70" r="1.9" fill="#111"/>
<circle cx="215.60" cy="192.80" r="1.9" fill="#111"/>
<circle cx="219.40" cy="197.80" r="1.9" fill="#111"/>
<circle cx="221.20" cy="199.60" r="1.9" fill="#111"/>
<circle cx="206.90" cy="198.40" r="1.9" fill="#111"/>
<circle cx="203.80" cy="200.20" r="1.9" fill="#111"/>
<circle cx="207.60" cy="201.50" r="1.9" fill="#111"/>
<circle cx="210.10" cy="202.10" r="1.9" fill="#111"/>
<circle cx="205.70" cy="204.60" r="1.9" fill="#111"/>
<circle cx="208.20" cy="205.20" r="1.9" fill="#111"/>
<circle cx="213.20" cy="206.50" r="1.9" fill="#111"/>
<circle cx="195.80" cy="204.60" r="1.9" fill="#111"/>
<circle cx="195.10" cy="207.70" r="1.9" fill="#111"/>
<circle cx="201.40" cy="207.70" r="1.9" fill="#111"/>
<circle cx="203.20" cy="210.20" r="1.9" fill="#111"/>
<circle cx="198.90" cy="212.70" r="1.9" fill="#111"/>
<circle cx="200.70" cy="217.00" r="1.9" fill="#111"/>
<circle cx="192.90" cy="214.50" r="1.9" fill="#111"/>
<circle cx="203.20" cy="221.40" r="1.9" fill="#111"/>
<circle cx="195.10" cy="224.50" r="1.9" fill="#111"/>
<circle cx="179.60" cy="217.30" r="1.9" fill="#111"/>
<circle cx="220.60" cy="210.80" r="1.9" fill="#111"/>
<circle cx="221.20" cy="213.30" r="1.9" fill="#111"/>
<circle cx="220.00" cy="216.40" r="1.9" fill="#111"/>
<circle cx="222.50" cy="218.30" r="1.9" fill="#111"/>
<circle cx="225.60" cy="215.80" r="1.9" fill="#111"/>
<circle cx="227.40" cy="217.00" r="1.9" fill="#111"/>
<circle cx="229.90" cy="212.00" r="1.9" fill="#111"/>
<circle cx="227.40" cy="227.00" r="1.9" fill="#111"/>
<circle cx="229.90" cy="189.70" r="1.9" fill="#111"/>
<circle cx="245.10" cy="152.10" r="1.9" fill="#111"/>
<circle cx="250.70" cy="151.20" r="1.9" fill="#111"/>
<circle cx="249.40" cy="155.20" r="1.9" fill="#111"/>
<circle cx="252.90" cy="155.90" r="1.9" fill="#111"/>
<circle cx="265.00" cy="152.70" r="1.9" fill="#111"/>
<circle cx="267.50" cy="150.80" r="1.9" fill="#111"/>
<circle cx="239.60" cy="159.70" r="1.9" fill="#111"/>
<circle cx="245.30" cy="161.60" r="1.9" fill="#111"/>
<circle cx="260.60" cy="160.30" r="1.9" fill="#111"/>
<circle cx="238.40" cy="165.40" r="1.9" fill="#111"/>
<circle cx="264.40" cy="166.60" r="1.9" fill="#111"/>
<circle cx="228.20" cy="168.90" r="1.9" fill="#111"/>
<circle cx="234.50" cy="169.20" r="1.9" fill="#111"/>
<circle cx="236.20" cy="170.50" r="1.9" fill="#111"/>
<circle cx="241.30" cy="171.70" r="1.9" fill="#111"/>
<circle cx="271.30" cy="174.00" r="1.9" fill="#111"/>
<circle cx="241.30" cy="176.80" r="1.9" fill="#111"/>
<circle cx="233.30" cy="179.30" r="1.9" fill="#111"/>
<circle cx="237.10" cy="180.40" r="1.9" fill="#111"/>
<circle cx="239.00" cy="181.20" r="1.9" fill="#111"/>
<circle cx="249.10" cy="180.60" r="1.9" fill="#111"/>
<circle cx="251.70" cy="179.10" r="1.9" fill="#111"/>
<circle cx="253.60" cy="178.10" r="1.9" fill="#111"/>
<circle cx="252.90" cy="181.20" r="1.9" fill="#111"/>
<circle cx="257.40" cy="182.30" r="1.9" fill="#111"/>
<circle cx="245.30" cy="183.80" r="1.9" fill="#111"/>
<circle cx="240.30" cy="185.00" r="1.9" fill="#111"/>
<circle cx="228.80" cy="182.50" r="1.9" fill="#111"/>
<circle cx="231.40" cy="189.50" r="1.9" fill="#111"/>
<circle cx="240.90" cy="189.50" r="1.9" fill="#111"/>
<circle cx="239.60" cy="191.40" r="1.9" fill="#111"/>
<circle cx="247.90" cy="193.30" r="1.9" fill="#111"/>
<circle cx="250.40" cy="193.30" r="1.9" fill="#111"/>
<circle cx="234.50" cy="194.60" r="1.9" fill="#111"/>
<circle cx="238.40" cy="195.80" r="1.9" fill="#111"/>
<circle cx="227.60" cy="193.30" r="1.9" fill="#111"/>
<circle cx="238.40" cy="202.80" r="1.9" fill="#111"/>
<circle cx="239.00" cy="205.40" r="1.9" fill="#111"/>
<circle cx="251.00" cy="204.10" r="1.9" fill="#111"/>
<circle cx="234.50" cy="209.20" r="1.9" fill="#111"/>
<circle cx="239.00" cy="209.80" r="1.9" fill="#111"/>
<circle cx="242.20" cy="211.10" r="1.9" fill="#111"/>
<circle cx="237.70" cy="211.70" r="1.9" fill="#111"/>
<circle cx="230.70" cy="212.30" r="1.9" fill="#111"/>
<circle cx="247.90" cy="213.00" r="1.9" fill="#111"/>
<circle cx="270.70" cy="211.70" r="1.9" fill="#111"/>
<circle cx="227.60" cy="216.80" r="1.9" fill="#111"/>
<circle cx="230.10" cy="219.30" r="1.9" fill="#111"/>
<line x1="310.00" y1="192.80" x2="450.70" y2="192.80" stroke="#1e1e1e" stroke-width="1.4"/>
<line x1="366.30" y1="140.80" x2="366.30" y2="244.60" stroke="#1e1e1e" stroke-width="1.4"/>
<line x1="312.30" y1="192.80" x2="312.30" y2="196.60" stroke="#1e1e1e" stroke-width="1"/>
<text x="312.90" y="207.80" font-size="9.2" text-anchor="middle" fill="#1e1e1e" stroke="#1e1e1e">-2</text>
<line x1="339.30" y1="192.80" x2="339.30" y2="196.60" stroke="#1e1e1e" stroke-width="1"/>
<text x="339.90" y="207.80" font-size="9.2" text-anchor="middle" fill="#999" stroke="#999">-1</text>
<line x1="366.30" y1="192.80" x2="366.30" y2="196.60" stroke="#1e1e1e" stroke-width="1"/>
<line x1="393.30" y1="192.80" x2="393.30" y2="196.60" stroke="#1e1e1e" stroke-width="1"/>
<text x="393.30" y="207.80" font-size="9.2" text-anchor="middle" fill="#1e1e1e" stroke="#1e1e1e">1</text>
<line x1="420.30" y1="192.80" x2="420.30" y2="196.60" stroke="#1e1e1e" stroke-width="1"/>
<text x="420.30" y="207.80" font-size="9.2" text-anchor="middle" fill="#1e1e1e" stroke="#1e1e1e">2</text>
<line x1="447.30" y1="192.80" x2="447.30" y2="196.60" stroke="#1e1e1e" stroke-width="1"/>
<text x="447.30" y="207.80" font-size="9.2" text-anchor="middle" fill="#1e1e1e" stroke="#1e1e1e">3</text>
<line x1="363.30" y1="242.00" x2="366.30" y2="242.00" stroke="#1e1e1e" stroke-width="1"/>
<text x="359.30" y="244.90" font-size="9.2" text-anchor="end" fill="#1e1e1e" stroke="#1e1e1e">-3</text>
<line x1="363.30" y1="225.60" x2="366.30" y2="225.60" stroke="#1e1e1e" stroke-width="1"/>
<text x="359.30" y="228.50" font-size="9.2" text-anchor="end" fill="#1e1e1e" stroke="#1e1e1e">-2</text>
<line x1="363.30" y1="209.20" x2="366.30" y2="209.20" stroke="#1e1e1e" stroke-width="1"/>
<text x="359.30" y="212.10" font-size="9.2" text-anchor="end" fill="#aaa" stroke="#aaa">-1</text>
<line x1="363.30" y1="192.80" x2="366.30" y2="192.80" stroke="#1e1e1e" stroke-width="1"/>
<line x1="363.30" y1="176.40" x2="366.30" y2="176.40" stroke="#1e1e1e" stroke-width="1"/>
<text x="359.30" y="179.30" font-size="9.2" text-anchor="end" fill="#1e1e1e" stroke="#1e1e1e">1</text>
<line x1="363.30" y1="160.00" x2="366.30" y2="160.00" stroke="#1e1e1e" stroke-width="1"/>
<text x="359.30" y="162.90" font-size="9.2" text-anchor="end" fill="#1e1e1e" stroke="#1e1e1e">2</text>
<line x1="363.30" y1="143.60" x2="366.30" y2="143.60" stroke="#1e1e1e" stroke-width="1"/>
<text x="359.30" y="146.50" font-size="9.2" text-anchor="end" fill="#1e1e1e" stroke="#1e1e1e">3</text>
<text x="380.00" y="146.50" font-size="8.5" fill="#1e1e1e" stroke="#1e1e1e">IHH</text>
<text x="312.00" y="185.00" font-size="8.5" fill="#1e1e1e" stroke="#1e1e1e">SHH</text>
<text x="395.00" y="225.70" font-size="8.5" fill="#1e1e1e" stroke="#1e1e1e">r=0.5121</text>
<text x="395.00" y="235.30" font-size="8.5" fill="#1e1e1e" stroke="#1e1e1e">p&lt;0.0001</text>
<circle cx="342.10" cy="162.60" r="1.9" fill="#111"/>
<circle cx="351.60" cy="176.30" r="1.9" fill="#111"/>
<circle cx="361.00" cy="177.30" r="1.9" fill="#111"/>
<circle cx="365.30" cy="172.50" r="1.9" fill="#111"/>
<circle cx="364.70" cy="182.20" r="1.9" fill="#111"/>
<circle cx="339.80" cy="179.80" r="1.9" fill="#111"/>
<circle cx="341.70" cy="179.10" r="1.9" fill="#111"/>
<circle cx="339.80" cy="182.20" r="1.9" fill="#111"/>
<circle cx="343.60" cy="182.90" r="1.9" fill="#111"/>
<circle cx="344.80" cy="186.60" r="1.9" fill="#111"/>
<circle cx="349.80" cy="189.70" r="1.9" fill="#111"/>
<circle cx="352.90" cy="189.10" r="1.9" fill="#111"/>
<circle cx="342.30" cy="191.90" r="1.9" fill="#111"/>
<circle cx="332.40" cy="195.90" r="1.9" fill="#111"/>
<circle cx="336.10" cy="197.40" r="1.9" fill="#111"/>
<circle cx="341.10" cy="195.30" r="1.9" fill="#111"/>
<circle cx="353.50" cy="195.30" r="1.9" fill="#111"/>
<circle cx="356.00" cy="197.10" r="1.9" fill="#111"/>
<circle cx="357.20" cy="199.60" r="1.9" fill="#111"/>
<circle cx="349.20" cy="200.20" r="1.9" fill="#111"/>
<circle cx="348.50" cy="203.40" r="1.9" fill="#111"/>
<circle cx="343.60" cy="201.50" r="1.9" fill="#111"/>
<circle cx="354.70" cy="202.10" r="1.9" fill="#111"/>
<circle cx="358.50" cy="203.40" r="1.9" fill="#111"/>
<circle cx="361.60" cy="201.50" r="1.9" fill="#111"/>
<circle cx="347.90" cy="205.80" r="1.9" fill="#111"/>
<circle cx="346.10" cy="207.70" r="1.9" fill="#111"/>
<circle cx="356.00" cy="211.40" r="1.9" fill="#111"/>
<circle cx="362.80" cy="207.10" r="1.9" fill="#111"/>
<circle cx="322.40" cy="205.60" r="1.9" fill="#111"/>
<circle cx="325.90" cy="208.30" r="1.9" fill="#111"/>
<circle cx="334.90" cy="205.60" r="1.9" fill="#111"/>
<circle cx="334.90" cy="210.80" r="1.9" fill="#111"/>
<circle cx="335.50" cy="212.00" r="1.9" fill="#111"/>
<circle cx="349.20" cy="218.00" r="1.9" fill="#111"/>
<circle cx="353.50" cy="218.00" r="1.9" fill="#111"/>
<circle cx="340.50" cy="222.60" r="1.9" fill="#111"/>
<circle cx="334.90" cy="225.70" r="1.9" fill="#111"/>
<circle cx="338.00" cy="227.00" r="1.9" fill="#111"/>
<circle cx="364.10" cy="190.30" r="1.9" fill="#111"/>
<circle cx="365.30" cy="194.70" r="1.9" fill="#111"/>
<circle cx="389.10" cy="154.70" r="1.9" fill="#111"/>
<circle cx="436.70" cy="158.20" r="1.9" fill="#111"/>
<circle cx="376.50" cy="161.60" r="1.9" fill="#111"/>
<circle cx="398.10" cy="163.00" r="1.9" fill="#111"/>
<circle cx="380.10" cy="167.30" r="1.9" fill="#111"/>
<circle cx="391.40" cy="169.80" r="1.9" fill="#111"/>
<circle cx="395.50" cy="171.10" r="1.9" fill="#111"/>
<circle cx="415.60" cy="168.00" r="1.9" fill="#111"/>
<circle cx="412.50" cy="170.60" r="1.9" fill="#111"/>
<circle cx="411.60" cy="174.30" r="1.9" fill="#111"/>
<circle cx="365.40" cy="172.50" r="1.9" fill="#111"/>
<circle cx="383.10" cy="174.30" r="1.9" fill="#111"/>
<circle cx="380.50" cy="174.60" r="1.9" fill="#111"/>
<circle cx="406.40" cy="176.90" r="1.9" fill="#111"/>
<circle cx="412.50" cy="177.70" r="1.9" fill="#111"/>
<circle cx="417.70" cy="178.40" r="1.9" fill="#111"/>
<circle cx="379.60" cy="178.90" r="1.9" fill="#111"/>
<circle cx="377.90" cy="180.10" r="1.9" fill="#111"/>
<circle cx="364.90" cy="181.90" r="1.9" fill="#111"/>
<circle cx="417.30" cy="183.30" r="1.9" fill="#111"/>
<circle cx="418.50" cy="184.60" r="1.9" fill="#111"/>
<circle cx="383.10" cy="184.10" r="1.9" fill="#111"/>
<circle cx="381.30" cy="185.30" r="1.9" fill="#111"/>
<circle cx="369.20" cy="185.30" r="1.9" fill="#111"/>
<circle cx="400.00" cy="185.80" r="1.9" fill="#111"/>
<circle cx="378.70" cy="188.10" r="1.9" fill="#111"/>
<circle cx="382.20" cy="189.30" r="1.9" fill="#111"/>
<circle cx="364.00" cy="189.30" r="1.9" fill="#111"/>
<circle cx="369.20" cy="191.60" r="1.9" fill="#111"/>
<circle cx="404.70" cy="191.90" r="1.9" fill="#111"/>
<circle cx="410.40" cy="191.90" r="1.9" fill="#111"/>
<circle cx="433.60" cy="191.00" r="1.9" fill="#111"/>
<circle cx="364.90" cy="192.80" r="1.9" fill="#111"/>
<circle cx="374.80" cy="195.40" r="1.9" fill="#111"/>
<circle cx="383.10" cy="194.00" r="1.9" fill="#111"/>
<circle cx="393.10" cy="196.20" r="1.9" fill="#111"/>
<circle cx="396.00" cy="196.20" r="1.9" fill="#111"/>
<circle cx="367.50" cy="197.10" r="1.9" fill="#111"/>
<circle cx="379.90" cy="198.50" r="1.9" fill="#111"/>
<circle cx="364.00" cy="198.80" r="1.9" fill="#111"/>
<circle cx="378.40" cy="211.30" r="1.9" fill="#111"/>
<circle cx="406.90" cy="214.40" r="1.9" fill="#111"/>
<line x1="243.80" y1="323.50" x2="360.60" y2="323.50" stroke="#1e1e1e" stroke-width="1.4"/>
<line x1="302.30" y1="280.30" x2="302.30" y2="365.40" stroke="#1e1e1e" stroke-width="1.4"/>
<line x1="246.90" y1="323.50" x2="246.90" y2="327.30" stroke="#1e1e1e" stroke-width="1"/>
<text x="247.50" y="337.20" font-size="9.2" text-anchor="middle" fill="#1e1e1e" stroke="#1e1e1e">-3</text>
<line x1="265.80" y1="323.50" x2="265.80" y2="327.30" stroke="#1e1e1e" stroke-width="1"/>
<text x="266.40" y="337.20" font-size="9.2" text-anchor="middle" fill="#1e1e1e" stroke="#1e1e1e">-2</text>
<line x1="284.60" y1="323.50" x2="284.60" y2="327.30" stroke="#1e1e1e" stroke-width="1"/>
<text x="285.20" y="337.20" font-size="9.2" text-anchor="middle" fill="#1e1e1e" stroke="#1e1e1e">-1</text>
<line x1="302.30" y1="323.50" x2="302.30" y2="327.30" stroke="#1e1e1e" stroke-width="1"/>
<line x1="320.00" y1="323.50" x2="320.00" y2="327.30" stroke="#1e1e1e" stroke-width="1"/>
<text x="320.00" y="337.20" font-size="9.2" text-anchor="middle" fill="#1e1e1e" stroke="#1e1e1e">1</text>
<line x1="338.90" y1="323.50" x2="338.90" y2="327.30" stroke="#1e1e1e" stroke-width="1"/>
<text x="338.90" y="337.20" font-size="9.2" text-anchor="middle" fill="#1e1e1e" stroke="#1e1e1e">2</text>
<line x1="357.70" y1="323.50" x2="357.70" y2="327.30" stroke="#1e1e1e" stroke-width="1"/>
<text x="357.70" y="337.20" font-size="9.2" text-anchor="middle" fill="#1e1e1e" stroke="#1e1e1e">3</text>
<line x1="299.30" y1="363.10" x2="302.30" y2="363.10" stroke="#1e1e1e" stroke-width="1"/>
<text x="295.30" y="366.00" font-size="9.2" text-anchor="end" fill="#1e1e1e" stroke="#1e1e1e">-3</text>
<line x1="299.30" y1="349.90" x2="302.30" y2="349.90" stroke="#1e1e1e" stroke-width="1"/>
<text x="295.30" y="352.80" font-size="9.2" text-anchor="end" fill="#1e1e1e" stroke="#1e1e1e">-2</text>
<line x1="299.30" y1="336.70" x2="302.30" y2="336.70" stroke="#1e1e1e" stroke-width="1"/>
<text x="295.30" y="339.60" font-size="9.2" text-anchor="end" fill="#1e1e1e" stroke="#1e1e1e">-1</text>
<line x1="299.30" y1="323.50" x2="302.30" y2="323.50" stroke="#1e1e1e" stroke-width="1"/>
<line x1="299.30" y1="310.30" x2="302.30" y2="310.30" stroke="#1e1e1e" stroke-width="1"/>
<text x="295.30" y="313.20" font-size="9.2" text-anchor="end" fill="#1e1e1e" stroke="#1e1e1e">1</text>
<line x1="299.30" y1="297.10" x2="302.30" y2="297.10" stroke="#1e1e1e" stroke-width="1"/>
<text x="295.30" y="300.00" font-size="9.2" text-anchor="end" fill="#1e1e1e" stroke="#1e1e1e">2</text>
<line x1="299.30" y1="283.90" x2="302.30" y2="283.90" stroke="#1e1e1e" stroke-width="1"/>
<text x="295.30" y="286.80" font-size="9.2" text-anchor="end" fill="#1e1e1e" stroke="#1e1e1e">3</text>
<text x="311.50" y="281.00" font-size="8.5" fill="#1e1e1e" stroke="#1e1e1e">PTCH2</text>
<text x="242.30" y="317.00" font-size="8.5" fill="#1e1e1e" stroke="#1e1e1e">GLI1</text>
<text x="321.00" y="348.80" font-size="8.5" fill="#1e1e1e" stroke="#1e1e1e">r=0.700</text>
<text x="321.00" y="359.00" font-size="8.5" fill="#1e1e1e" stroke="#1e1e1e">p&lt;0.0001</text>
<circle cx="290.10" cy="312.20" r="1.9" fill="#111"/>
<circle cx="292.40" cy="312.40" r="1.9" fill="#111"/>
<circle cx="300.00" cy="311.60" r="1.9" fill="#111"/>
<circle cx="302.30" cy="314.50" r="1.9" fill="#111"/>
<circle cx="287.10" cy="319.80" r="1.9" fill="#111"/>
<circle cx="293.00" cy="320.90" r="1.9" fill="#111"/>
<circle cx="297.60" cy="320.30" r="1.9" fill="#111"/>
<circle cx="300.00" cy="322.10" r="1.9" fill="#111"/>
<circle cx="303.50" cy="320.30" r="1.9" fill="#111"/>
<circle cx="277.80" cy="326.00" r="1.9" fill="#111"/>
<circle cx="284.80" cy="327.30" r="1.9" fill="#111"/>
<circle cx="281.30" cy="329.10" r="1.9" fill="#111"/>
<circle cx="271.40" cy="328.50" r="1.9" fill="#111"/>
<circle cx="273.70" cy="329.10" r="1.9" fill="#111"/>
<circle cx="276.10" cy="329.70" r="1.9" fill="#111"/>
<circle cx="270.20" cy="330.80" r="1.9" fill="#111"/>
<circle cx="279.00" cy="330.30" r="1.9" fill="#111"/>
<circle cx="275.50" cy="332.00" r="1.9" fill="#111"/>
<circle cx="277.80" cy="333.20" r="1.9" fill="#111"/>
<circle cx="274.30" cy="334.90" r="1.9" fill="#111"/>
<circle cx="282.50" cy="333.80" r="1.9" fill="#111"/>
<circle cx="286.00" cy="334.30" r="1.9" fill="#111"/>
<circle cx="287.70" cy="336.10" r="1.9" fill="#111"/>
<circle cx="294.70" cy="325.00" r="1.9" fill="#111"/>
<circle cx="295.30" cy="327.30" r="1.9" fill="#111"/>
<circle cx="294.70" cy="329.10" r="1.9" fill="#111"/>
<circle cx="300.60" cy="327.30" r="1.9" fill="#111"/>
<circle cx="301.10" cy="329.70" r="1.9" fill="#111"/>
<circle cx="298.80" cy="333.20" r="1.9" fill="#111"/>
<circle cx="300.60" cy="334.30" r="1.9" fill="#111"/>
<circle cx="300.60" cy="340.20" r="1.9" fill="#111"/>
<circle cx="305.20" cy="343.10" r="1.9" fill="#111"/>
<circle cx="280.10" cy="340.00" r="1.9" fill="#111"/>
<circle cx="284.80" cy="339.60" r="1.9" fill="#111"/>
<circle cx="284.20" cy="340.80" r="1.9" fill="#111"/>
<circle cx="281.30" cy="343.70" r="1.9" fill="#111"/>
<circle cx="293.60" cy="343.40" r="1.9" fill="#111"/>
<circle cx="256.80" cy="342.50" r="1.9" fill="#111"/>
<circle cx="270.80" cy="349.50" r="1.9" fill="#111"/>
<circle cx="268.50" cy="351.30" r="1.9" fill="#111"/>
<circle cx="293.60" cy="353.00" r="1.9" fill="#111"/>
<circle cx="276.10" cy="354.80" r="1.9" fill="#111"/>
<circle cx="328.50" cy="293.20" r="1.9" fill="#111"/>
<circle cx="335.50" cy="295.40" r="1.9" fill="#111"/>
<circle cx="320.50" cy="296.90" r="1.9" fill="#111"/>
<circle cx="323.50" cy="300.00" r="1.9" fill="#111"/>
<circle cx="321.70" cy="301.80" r="1.9" fill="#111"/>
<circle cx="310.60" cy="300.90" r="1.9" fill="#111"/>
<circle cx="310.60" cy="305.80" r="1.9" fill="#111"/>
<circle cx="337.70" cy="306.20" r="1.9" fill="#111"/>
<circle cx="341.40" cy="308.20" r="1.9" fill="#111"/>
<circle cx="322.30" cy="307.40" r="1.9" fill="#111"/>
<circle cx="325.40" cy="307.80" r="1.9" fill="#111"/>
<circle cx="317.40" cy="309.20" r="1.9" fill="#111"/>
<circle cx="310.60" cy="309.80" r="1.9" fill="#111"/>
<circle cx="324.80" cy="312.30" r="1.9" fill="#111"/>
<circle cx="335.00" cy="312.30" r="1.9" fill="#111"/>
<circle cx="308.10" cy="312.90" r="1.9" fill="#111"/>
<circle cx="312.50" cy="312.90" r="1.9" fill="#111"/>
<circle cx="330.90" cy="314.40" r="1.9" fill="#111"/>
<circle cx="319.20" cy="314.20" r="1.9" fill="#111"/>
<circle cx="321.10" cy="316.00" r="1.9" fill="#111"/>
<circle cx="302.60" cy="314.80" r="1.9" fill="#111"/>
<circle cx="313.10" cy="317.80" r="1.9" fill="#111"/>
<circle cx="316.80" cy="318.50" r="1.9" fill="#111"/>
<circle cx="321.70" cy="319.30" r="1.9" fill="#111"/>
<circle cx="313.70" cy="319.70" r="1.9" fill="#111"/>
<circle cx="310.00" cy="322.20" r="1.9" fill="#111"/>
<circle cx="305.70" cy="322.80" r="1.9" fill="#111"/>
<circle cx="300.10" cy="321.50" r="1.9" fill="#111"/>
<circle cx="308.10" cy="324.60" r="1.9" fill="#111"/>
<circle cx="313.70" cy="324.60" r="1.9" fill="#111"/>
<circle cx="306.90" cy="326.50" r="1.9" fill="#111"/>
<circle cx="319.80" cy="325.80" r="1.9" fill="#111"/>
<circle cx="300.80" cy="328.90" r="1.9" fill="#111"/>
<circle cx="312.50" cy="329.50" r="1.9" fill="#111"/>
<circle cx="307.50" cy="334.80" r="1.9" fill="#111"/>
<circle cx="310.60" cy="333.80" r="1.9" fill="#111"/>
<circle cx="311.80" cy="335.70" r="1.9" fill="#111"/>
<circle cx="300.80" cy="340.00" r="1.9" fill="#111"/>
<circle cx="308.80" cy="341.20" r="1.9" fill="#111"/>
<circle cx="305.70" cy="343.10" r="1.9" fill="#111"/>
<line x1="371.30" y1="323.50" x2="489.00" y2="323.50" stroke="#1e1e1e" stroke-width="1.4"/>
<line x1="429.70" y1="272.50" x2="429.70" y2="358.00" stroke="#1e1e1e" stroke-width="1.4"/>
<line x1="374.20" y1="323.50" x2="374.20" y2="327.30" stroke="#1e1e1e" stroke-width="1"/>
<text x="374.80" y="337.70" font-size="9.2" text-anchor="middle" fill="#1e1e1e" stroke="#1e1e1e">-3</text>
<line x1="392.70" y1="323.50" x2="392.70" y2="327.30" stroke="#1e1e1e" stroke-width="1"/>
<text x="393.30" y="337.70" font-size="9.2" text-anchor="middle" fill="#1e1e1e" stroke="#1e1e1e">-2</text>
<line x1="411.20" y1="323.50" x2="411.20" y2="327.30" stroke="#1e1e1e" stroke-width="1"/>
<text x="411.80" y="337.70" font-size="9.2" text-anchor="middle" fill="#1e1e1e" stroke="#1e1e1e">-1</text>
<line x1="429.70" y1="323.50" x2="429.70" y2="327.30" stroke="#1e1e1e" stroke-width="1"/>
<line x1="448.20" y1="323.50" x2="448.20" y2="327.30" stroke="#1e1e1e" stroke-width="1"/>
<text x="448.20" y="337.70" font-size="9.2" text-anchor="middle" fill="#1e1e1e" stroke="#1e1e1e">1</text>
<line x1="466.70" y1="323.50" x2="466.70" y2="327.30" stroke="#1e1e1e" stroke-width="1"/>
<text x="466.70" y="337.70" font-size="9.2" text-anchor="middle" fill="#1e1e1e" stroke="#1e1e1e">2</text>
<line x1="485.20" y1="323.50" x2="485.20" y2="327.30" stroke="#1e1e1e" stroke-width="1"/>
<text x="485.20" y="337.70" font-size="9.2" text-anchor="middle" fill="#1e1e1e" stroke="#1e1e1e">3</text>
<line x1="426.70" y1="355.90" x2="429.70" y2="355.90" stroke="#1e1e1e" stroke-width="1"/>
<text x="422.70" y="358.80" font-size="9.2" text-anchor="end" fill="#1e1e1e" stroke="#1e1e1e">-4</text>
<line x1="426.70" y1="339.70" x2="429.70" y2="339.70" stroke="#1e1e1e" stroke-width="1"/>
<text x="422.70" y="342.60" font-size="9.2" text-anchor="end" fill="#1e1e1e" stroke="#1e1e1e">-2</text>
<line x1="426.70" y1="323.50" x2="429.70" y2="323.50" stroke="#1e1e1e" stroke-width="1"/>
<line x1="426.70" y1="307.30" x2="429.70" y2="307.30" stroke="#1e1e1e" stroke-width="1"/>
<text x="422.70" y="310.20" font-size="9.2" text-anchor="end" fill="#1e1e1e" stroke="#1e1e1e">2</text>
<line x1="426.70" y1="291.10" x2="429.70" y2="291.10" stroke="#1e1e1e" stroke-width="1"/>
<text x="422.70" y="294.00" font-size="9.2" text-anchor="end" fill="#1e1e1e" stroke="#1e1e1e">4</text>
<line x1="426.70" y1="274.90" x2="429.70" y2="274.90" stroke="#1e1e1e" stroke-width="1"/>
<text x="422.70" y="277.80" font-size="9.2" text-anchor="end" fill="#1e1e1e" stroke="#1e1e1e">6</text>
<text x="437.00" y="281.30" font-size="8.5" fill="#1e1e1e" stroke="#1e1e1e">CCND1</text>
<text x="376.00" y="318.00" font-size="8.5" fill="#1e1e1e" stroke="#1e1e1e">GLI1</text>
<text x="453.00" y="347.20" font-size="8.5" fill="#1e1e1e" stroke="#1e1e1e">r=0.6248</text>
<text x="453.00" y="357.40" font-size="8.5" fill="#1e1e1e" stroke="#1e1e1e">p&lt;0.0001</text>
<circle cx="420.20" cy="316.60" r="1.9" fill="#111"/>
<circle cx="412.70" cy="319.80" r="1.9" fill="#111"/>
<circle cx="409.80" cy="321.20" r="1.9" fill="#111"/>
<circle cx="417.90" cy="320.40" r="1.9" fill="#111"/>
<circle cx="416.10" cy="321.90" r="1.9" fill="#111"/>
<circle cx="411.50" cy="322.70" r="1.9" fill="#111"/>
<circle cx="408.10" cy="325.60" r="1.9" fill="#111"/>
<circle cx="412.10" cy="326.80" r="1.9" fill="#111"/>
<circle cx="415.60" cy="328.50" r="1.9" fill="#111"/>
<circle cx="410.40" cy="329.30" r="1.9" fill="#111"/>
<circle cx="398.80" cy="328.50" r="1.9" fill="#111"/>
<circle cx="401.10" cy="330.80" r="1.9" fill="#111"/>
<circle cx="405.70" cy="329.60" r="1.9" fill="#111"/>
<circle cx="403.40" cy="332.00" r="1.9" fill="#111"/>
<circle cx="405.70" cy="333.70" r="1.9" fill="#111"/>
<circle cx="397.10" cy="333.70" r="1.9" fill="#111"/>
<circle cx="400.60" cy="334.20" r="1.9" fill="#111"/>
<circle cx="403.40" cy="336.00" r="1.9" fill="#111"/>
<circle cx="403.40" cy="338.30" r="1.9" fill="#111"/>
<circle cx="409.20" cy="338.90" r="1.9" fill="#111"/>
<circle cx="406.90" cy="333.10" r="1.9" fill="#111"/>
<circle cx="384.10" cy="333.10" r="1.9" fill="#111"/>
<circle cx="423.00" cy="327.30" r="1.9" fill="#111"/>
<circle cx="422.50" cy="329.10" r="1.9" fill="#111"/>
<circle cx="421.30" cy="331.40" r="1.9" fill="#111"/>
<circle cx="421.30" cy="332.50" r="1.9" fill="#111"/>
<circle cx="427.70" cy="320.40" r="1.9" fill="#111"/>
<circle cx="428.20" cy="322.70" r="1.9" fill="#111"/>
<circle cx="427.10" cy="324.40" r="1.9" fill="#111"/>
<circle cx="429.40" cy="325.60" r="1.9" fill="#111"/>
<circle cx="428.20" cy="329.10" r="1.9" fill="#111"/>
<circle cx="430.50" cy="315.80" r="1.9" fill="#111"/>
<circle cx="429.40" cy="336.00" r="1.9" fill="#111"/>
<circle cx="441.10" cy="289.30" r="1.9" fill="#111"/>
<circle cx="437.10" cy="306.20" r="1.9" fill="#111"/>
<circle cx="434.30" cy="308.60" r="1.9" fill="#111"/>
<circle cx="435.50" cy="310.50" r="1.9" fill="#111"/>
<circle cx="434.90" cy="312.90" r="1.9" fill="#111"/>
<circle cx="450.30" cy="308.20" r="1.9" fill="#111"/>
<circle cx="465.70" cy="309.80" r="1.9" fill="#111"/>
<circle cx="468.10" cy="311.90" r="1.9" fill="#111"/>
<circle cx="469.40" cy="315.40" r="1.9" fill="#111"/>
<circle cx="456.50" cy="312.90" r="1.9" fill="#111"/>
<circle cx="440.80" cy="313.50" r="1.9" fill="#111"/>
<circle cx="448.50" cy="314.20" r="1.9" fill="#111"/>
<circle cx="445.40" cy="315.10" r="1.9" fill="#111"/>
<circle cx="452.80" cy="316.60" r="1.9" fill="#111"/>
<circle cx="462.60" cy="317.20" r="1.9" fill="#111"/>
<circle cx="458.90" cy="319.10" r="1.9" fill="#111"/>
<circle cx="430.60" cy="316.00" r="1.9" fill="#111"/>
<circle cx="444.80" cy="317.80" r="1.9" fill="#111"/>
<circle cx="447.80" cy="317.20" r="1.9" fill="#111"/>
<circle cx="442.30" cy="319.10" r="1.9" fill="#111"/>
<circle cx="438.60" cy="320.30" r="1.9" fill="#111"/>
<circle cx="433.70" cy="321.50" r="1.9" fill="#111"/>
<circle cx="428.80" cy="319.70" r="1.9" fill="#111"/>
<circle cx="439.20" cy="322.80" r="1.9" fill="#111"/>
<circle cx="447.20" cy="322.20" r="1.9" fill="#111"/>
<circle cx="449.70" cy="322.20" r="1.9" fill="#111"/>
<circle cx="452.10" cy="323.40" r="1.9" fill="#111"/>
<circle cx="448.50" cy="324.60" r="1.9" fill="#111"/>
<circle cx="450.90" cy="325.20" r="1.9" fill="#111"/>
<circle cx="439.80" cy="324.60" r="1.9" fill="#111"/>
<circle cx="436.80" cy="325.20" r="1.9" fill="#111"/>
<circle cx="440.50" cy="326.50" r="1.9" fill="#111"/>
<circle cx="431.20" cy="326.50" r="1.9" fill="#111"/>
<circle cx="434.30" cy="327.70" r="1.9" fill="#111"/>
<circle cx="428.10" cy="325.20" r="1.9" fill="#111"/>
<circle cx="428.80" cy="328.90" r="1.9" fill="#111"/>
<circle cx="430.60" cy="332.00" r="1.9" fill="#111"/>
<circle cx="438.00" cy="332.00" r="1.9" fill="#111"/>
<circle cx="429.70" cy="336.30" r="1.9" fill="#111"/>
<line x1="243.80" y1="431.30" x2="360.60" y2="431.30" stroke="#1e1e1e" stroke-width="1.4"/>
<line x1="302.30" y1="388.00" x2="302.30" y2="474.00" stroke="#1e1e1e" stroke-width="1.4"/>
<line x1="246.90" y1="431.30" x2="246.90" y2="435.10" stroke="#1e1e1e" stroke-width="1"/>
<text x="247.50" y="445.00" font-size="9.2" text-anchor="middle" fill="#1e1e1e" stroke="#1e1e1e">-3</text>
<line x1="265.80" y1="431.30" x2="265.80" y2="435.10" stroke="#1e1e1e" stroke-width="1"/>
<text x="266.40" y="445.00" font-size="9.2" text-anchor="middle" fill="#1e1e1e" stroke="#1e1e1e">-2</text>
<line x1="284.60" y1="431.30" x2="284.60" y2="435.10" stroke="#1e1e1e" stroke-width="1"/>
<text x="285.20" y="445.00" font-size="9.2" text-anchor="middle" fill="#1e1e1e" stroke="#1e1e1e">-1</text>
<line x1="302.30" y1="431.30" x2="302.30" y2="435.10" stroke="#1e1e1e" stroke-width="1"/>
<line x1="320.00" y1="431.30" x2="320.00" y2="435.10" stroke="#1e1e1e" stroke-width="1"/>
<text x="320.00" y="445.00" font-size="9.2" text-anchor="middle" fill="#1e1e1e" stroke="#1e1e1e">1</text>
<line x1="338.90" y1="431.30" x2="338.90" y2="435.10" stroke="#1e1e1e" stroke-width="1"/>
<text x="338.90" y="445.00" font-size="9.2" text-anchor="middle" fill="#1e1e1e" stroke="#1e1e1e">2</text>
<line x1="357.70" y1="431.30" x2="357.70" y2="435.10" stroke="#1e1e1e" stroke-width="1"/>
<text x="357.70" y="445.00" font-size="9.2" text-anchor="middle" fill="#1e1e1e" stroke="#1e1e1e">3</text>
<line x1="299.30" y1="471.20" x2="302.30" y2="471.20" stroke="#1e1e1e" stroke-width="1"/>
<text x="295.30" y="474.10" font-size="9.2" text-anchor="end" fill="#1e1e1e" stroke="#1e1e1e">-3</text>
<line x1="299.30" y1="457.90" x2="302.30" y2="457.90" stroke="#1e1e1e" stroke-width="1"/>
<text x="295.30" y="460.80" font-size="9.2" text-anchor="end" fill="#1e1e1e" stroke="#1e1e1e">-2</text>
<line x1="299.30" y1="444.60" x2="302.30" y2="444.60" stroke="#1e1e1e" stroke-width="1"/>
<text x="295.30" y="447.50" font-size="9.2" text-anchor="end" fill="#1e1e1e" stroke="#1e1e1e">-1</text>
<line x1="299.30" y1="431.30" x2="302.30" y2="431.30" stroke="#1e1e1e" stroke-width="1"/>
<line x1="299.30" y1="418.00" x2="302.30" y2="418.00" stroke="#1e1e1e" stroke-width="1"/>
<text x="295.30" y="420.90" font-size="9.2" text-anchor="end" fill="#1e1e1e" stroke="#1e1e1e">1</text>
<line x1="299.30" y1="404.70" x2="302.30" y2="404.70" stroke="#1e1e1e" stroke-width="1"/>
<text x="295.30" y="407.60" font-size="9.2" text-anchor="end" fill="#1e1e1e" stroke="#1e1e1e">2</text>
<line x1="299.30" y1="391.40" x2="302.30" y2="391.40" stroke="#1e1e1e" stroke-width="1"/>
<text x="295.30" y="394.30" font-size="9.2" text-anchor="end" fill="#1e1e1e" stroke="#1e1e1e">3</text>
<text x="311.50" y="394.80" font-size="8.5" fill="#1e1e1e" stroke="#1e1e1e">BCL2</text>
<text x="242.30" y="425.70" font-size="8.5" fill="#1e1e1e" stroke="#1e1e1e">GLI1</text>
<text x="321.60" y="460.90" font-size="8.5" fill="#1e1e1e" stroke="#1e1e1e">r=0.3665</text>
<text x="321.60" y="471.10" font-size="8.5" fill="#1e1e1e" stroke="#1e1e1e">p=0.0002</text>
<circle cx="287.40" cy="406.20" r="1.9" fill="#111"/>
<circle cx="294.10" cy="406.20" r="1.9" fill="#111"/>
<circle cx="300.00" cy="405.20" r="1.9" fill="#111"/>
<circle cx="295.30" cy="409.10" r="1.9" fill="#111"/>
<circle cx="298.20" cy="411.40" r="1.9" fill="#111"/>
<circle cx="284.80" cy="412.20" r="1.9" fill="#111"/>
<circle cx="293.00" cy="419.00" r="1.9" fill="#111"/>
<circle cx="294.10" cy="421.10" r="1.9" fill="#111"/>
<circle cx="293.00" cy="422.50" r="1.9" fill="#111"/>
<circle cx="284.20" cy="419.00" r="1.9" fill="#111"/>
<circle cx="282.20" cy="423.90" r="1.9" fill="#111"/>
<circle cx="287.70" cy="424.80" r="1.9" fill="#111"/>
<circle cx="289.70" cy="425.40" r="1.9" fill="#111"/>
<circle cx="302.90" cy="425.10" r="1.9" fill="#111"/>
<circle cx="301.10" cy="428.30" r="1.9" fill="#111"/>
<circle cx="280.10" cy="430.10" r="1.9" fill="#111"/>
<circle cx="270.20" cy="431.80" r="1.9" fill="#111"/>
<circle cx="276.10" cy="434.20" r="1.9" fill="#111"/>
<circle cx="277.80" cy="437.70" r="1.9" fill="#111"/>
<circle cx="282.50" cy="438.80" r="1.9" fill="#111"/>
<circle cx="273.70" cy="441.20" r="1.9" fill="#111"/>
<circle cx="271.40" cy="443.50" r="1.9" fill="#111"/>
<circle cx="276.10" cy="445.80" r="1.9" fill="#111"/>
<circle cx="281.30" cy="445.30" r="1.9" fill="#111"/>
<circle cx="270.80" cy="447.90" r="1.9" fill="#111"/>
<circle cx="269.60" cy="449.90" r="1.9" fill="#111"/>
<circle cx="267.90" cy="450.50" r="1.9" fill="#111"/>
<circle cx="278.40" cy="450.50" r="1.9" fill="#111"/>
<circle cx="280.10" cy="451.70" r="1.9" fill="#111"/>
<circle cx="277.80" cy="456.60" r="1.9" fill="#111"/>
<circle cx="275.20" cy="460.40" r="1.9" fill="#111"/>
<circle cx="256.80" cy="454.60" r="1.9" fill="#111"/>
<circle cx="293.00" cy="438.80" r="1.9" fill="#111"/>
<circle cx="293.60" cy="441.20" r="1.9" fill="#111"/>
<circle cx="295.30" cy="444.70" r="1.9" fill="#111"/>
<circle cx="294.10" cy="448.80" r="1.9" fill="#111"/>
<circle cx="295.90" cy="451.70" r="1.9" fill="#111"/>
<circle cx="298.80" cy="441.20" r="1.9" fill="#111"/>
<circle cx="300.00" cy="448.20" r="1.9" fill="#111"/>
<circle cx="300.00" cy="433.00" r="1.9" fill="#111"/>
<circle cx="301.10" cy="435.30" r="1.9" fill="#111"/>
<circle cx="303.50" cy="434.20" r="1.9" fill="#111"/>
<circle cx="303.50" cy="437.70" r="1.9" fill="#111"/>
<circle cx="321.10" cy="402.50" r="1.9" fill="#111"/>
<circle cx="316.80" cy="406.20" r="1.9" fill="#111"/>
<circle cx="317.40" cy="408.60" r="1.9" fill="#111"/>
<circle cx="321.70" cy="409.80" r="1.9" fill="#111"/>
<circle cx="341.40" cy="410.80" r="1.9" fill="#111"/>
<circle cx="319.20" cy="414.20" r="1.9" fill="#111"/>
<circle cx="308.10" cy="413.30" r="1.9" fill="#111"/>
<circle cx="310.60" cy="414.20" r="1.9" fill="#111"/>
<circle cx="300.10" cy="405.50" r="1.9" fill="#111"/>
<circle cx="298.90" cy="411.10" r="1.9" fill="#111"/>
<circle cx="305.70" cy="417.80" r="1.9" fill="#111"/>
<circle cx="303.80" cy="419.10" r="1.9" fill="#111"/>
<circle cx="309.40" cy="420.30" r="1.9" fill="#111"/>
<circle cx="312.50" cy="419.70" r="1.9" fill="#111"/>
<circle cx="310.60" cy="420.90" r="1.9" fill="#111"/>
<circle cx="322.30" cy="423.40" r="1.9" fill="#111"/>
<circle cx="337.70" cy="423.40" r="1.9" fill="#111"/>
<circle cx="340.80" cy="424.60" r="1.9" fill="#111"/>
<circle cx="312.50" cy="424.40" r="1.9" fill="#111"/>
<circle cx="314.90" cy="425.20" r="1.9" fill="#111"/>
<circle cx="313.70" cy="427.10" r="1.9" fill="#111"/>
<circle cx="307.50" cy="426.50" r="1.9" fill="#111"/>
<circle cx="300.80" cy="427.70" r="1.9" fill="#111"/>
<circle cx="319.80" cy="426.50" r="1.9" fill="#111"/>
<circle cx="321.10" cy="429.50" r="1.9" fill="#111"/>
<circle cx="324.80" cy="429.50" r="1.9" fill="#111"/>
<circle cx="330.90" cy="428.90" r="1.9" fill="#111"/>
<circle cx="334.60" cy="430.20" r="1.9" fill="#111"/>
<circle cx="328.50" cy="432.00" r="1.9" fill="#111"/>
<circle cx="335.20" cy="433.20" r="1.9" fill="#111"/>
<circle cx="322.30" cy="433.00" r="1.9" fill="#111"/>
<circle cx="320.50" cy="432.00" r="1.9" fill="#111"/>
<circle cx="323.50" cy="434.50" r="1.9" fill="#111"/>
<circle cx="325.40" cy="436.30" r="1.9" fill="#111"/>
<circle cx="306.30" cy="433.20" r="1.9" fill="#111"/>
<circle cx="303.80" cy="435.10" r="1.9" fill="#111"/>
<circle cx="301.40" cy="434.50" r="1.9" fill="#111"/>
<circle cx="299.50" cy="435.70" r="1.9" fill="#111"/>
<circle cx="311.20" cy="434.50" r="1.9" fill="#111"/>
<circle cx="313.10" cy="434.50" r="1.9" fill="#111"/>
<circle cx="311.80" cy="436.70" r="1.9" fill="#111"/>
<circle cx="303.20" cy="438.20" r="1.9" fill="#111"/>
<circle cx="309.40" cy="440.60" r="1.9" fill="#111"/>
<circle cx="311.20" cy="441.20" r="1.9" fill="#111"/>
<circle cx="313.10" cy="441.20" r="1.9" fill="#111"/>
<circle cx="317.40" cy="440.60" r="1.9" fill="#111"/>
<circle cx="321.70" cy="440.90" r="1.9" fill="#111"/>
<circle cx="299.50" cy="441.20" r="1.9" fill="#111"/>
<circle cx="306.90" cy="447.80" r="1.9" fill="#111"/>
<circle cx="299.50" cy="448.00" r="1.9" fill="#111"/>
<line x1="371.30" y1="430.80" x2="489.00" y2="430.80" stroke="#1e1e1e" stroke-width="1.4"/>
<line x1="429.70" y1="378.00" x2="429.70" y2="466.00" stroke="#1e1e1e" stroke-width="1.4"/>
<line x1="374.20" y1="430.80" x2="374.20" y2="434.60" stroke="#1e1e1e" stroke-width="1"/>
<text x="374.80" y="445.50" font-size="9.2" text-anchor="middle" fill="#1e1e1e" stroke="#1e1e1e">-3</text>
<line x1="392.70" y1="430.80" x2="392.70" y2="434.60" stroke="#1e1e1e" stroke-width="1"/>
<text x="393.30" y="445.50" font-size="9.2" text-anchor="middle" fill="#1e1e1e" stroke="#1e1e1e">-2</text>
<line x1="411.20" y1="430.80" x2="411.20" y2="434.60" stroke="#1e1e1e" stroke-width="1"/>
<text x="411.80" y="445.50" font-size="9.2" text-anchor="middle" fill="#1e1e1e" stroke="#1e1e1e">-1</text>
<line x1="429.70" y1="430.80" x2="429.70" y2="434.60" stroke="#1e1e1e" stroke-width="1"/>
<line x1="448.20" y1="430.80" x2="448.20" y2="434.60" stroke="#1e1e1e" stroke-width="1"/>
<text x="448.20" y="445.50" font-size="9.2" text-anchor="middle" fill="#1e1e1e" stroke="#1e1e1e">1</text>
<line x1="466.70" y1="430.80" x2="466.70" y2="434.60" stroke="#1e1e1e" stroke-width="1"/>
<text x="466.70" y="445.50" font-size="9.2" text-anchor="middle" fill="#1e1e1e" stroke="#1e1e1e">2</text>
<line x1="485.20" y1="430.80" x2="485.20" y2="434.60" stroke="#1e1e1e" stroke-width="1"/>
<text x="485.20" y="445.50" font-size="9.2" text-anchor="middle" fill="#1e1e1e" stroke="#1e1e1e">3</text>
<line x1="426.70" y1="462.80" x2="429.70" y2="462.80" stroke="#1e1e1e" stroke-width="1"/>
<text x="422.70" y="465.70" font-size="9.2" text-anchor="end" fill="#1e1e1e" stroke="#1e1e1e">-4</text>
<line x1="426.70" y1="446.80" x2="429.70" y2="446.80" stroke="#1e1e1e" stroke-width="1"/>
<text x="422.70" y="449.70" font-size="9.2" text-anchor="end" fill="#1e1e1e" stroke="#1e1e1e">-2</text>
<line x1="426.70" y1="430.80" x2="429.70" y2="430.80" stroke="#1e1e1e" stroke-width="1"/>
<line x1="426.70" y1="414.80" x2="429.70" y2="414.80" stroke="#1e1e1e" stroke-width="1"/>
<text x="422.70" y="417.70" font-size="9.2" text-anchor="end" fill="#1e1e1e" stroke="#1e1e1e">2</text>
<line x1="426.70" y1="398.80" x2="429.70" y2="398.80" stroke="#1e1e1e" stroke-width="1"/>
<text x="422.70" y="401.70" font-size="9.2" text-anchor="end" fill="#1e1e1e" stroke="#1e1e1e">4</text>
<line x1="426.70" y1="382.80" x2="429.70" y2="382.80" stroke="#1e1e1e" stroke-width="1"/>
<text x="422.70" y="385.70" font-size="9.2" text-anchor="end" fill="#1e1e1e" stroke="#1e1e1e">6</text>
<text x="437.00" y="389.60" font-size="8.5" fill="#1e1e1e" stroke="#1e1e1e">PTCH1</text>
<text x="376.00" y="425.70" font-size="8.5" fill="#1e1e1e" stroke="#1e1e1e">GLI1</text>
<text x="452.00" y="458.10" font-size="8.5" fill="#1e1e1e" stroke="#1e1e1e">r=0.1199</text>
<text x="452.00" y="468.30" font-size="8.5" fill="#1e1e1e" stroke="#1e1e1e">p=0.2444</text>
<circle cx="412.60" cy="401.90" r="1.9" fill="#111"/>
<circle cx="407.30" cy="419.80" r="1.9" fill="#111"/>
<circle cx="398.60" cy="423.30" r="1.9" fill="#111"/>
<circle cx="405.60" cy="426.00" r="1.9" fill="#111"/>
<circle cx="420.10" cy="422.70" r="1.9" fill="#111"/>
<circle cx="415.50" cy="426.80" r="1.9" fill="#111"/>
<circle cx="421.30" cy="427.10" r="1.9" fill="#111"/>
<circle cx="423.60" cy="426.80" r="1.9" fill="#111"/>
<circle cx="430.60" cy="422.70" r="1.9" fill="#111"/>
<circle cx="409.60" cy="429.70" r="1.9" fill="#111"/>
<circle cx="405.60" cy="432.60" r="1.9" fill="#111"/>
<circle cx="399.10" cy="434.30" r="1.9" fill="#111"/>
<circle cx="403.20" cy="434.90" r="1.9" fill="#111"/>
<circle cx="407.30" cy="433.80" r="1.9" fill="#111"/>
<circle cx="410.80" cy="436.70" r="1.9" fill="#111"/>
<circle cx="413.10" cy="437.80" r="1.9" fill="#111"/>
<circle cx="417.20" cy="436.10" r="1.9" fill="#111"/>
<circle cx="402.10" cy="439.00" r="1.9" fill="#111"/>
<circle cx="413.70" cy="439.60" r="1.9" fill="#111"/>
<circle cx="409.60" cy="443.10" r="1.9" fill="#111"/>
<circle cx="421.30" cy="435.50" r="1.9" fill="#111"/>
<circle cx="423.60" cy="436.70" r="1.9" fill="#111"/>
<circle cx="425.40" cy="434.90" r="1.9" fill="#111"/>
<circle cx="426.00" cy="438.40" r="1.9" fill="#111"/>
<circle cx="427.10" cy="433.20" r="1.9" fill="#111"/>
<circle cx="428.30" cy="430.80" r="1.9" fill="#111"/>
<circle cx="384.00" cy="436.10" r="1.9" fill="#111"/>
<circle cx="396.80" cy="446.60" r="1.9" fill="#111"/>
<circle cx="398.60" cy="446.00" r="1.9" fill="#111"/>
<circle cx="403.80" cy="449.50" r="1.9" fill="#111"/>
<circle cx="431.20" cy="436.70" r="1.9" fill="#111"/>
<circle cx="434.70" cy="394.20" r="1.9" fill="#111"/>
<circle cx="434.70" cy="417.20" r="1.9" fill="#111"/>
<circle cx="438.00" cy="419.10" r="1.9" fill="#111"/>
<circle cx="438.60" cy="422.20" r="1.9" fill="#111"/>
<circle cx="440.50" cy="422.50" r="1.9" fill="#111"/>
<circle cx="448.50" cy="420.30" r="1.9" fill="#111"/>
<circle cx="452.10" cy="423.80" r="1.9" fill="#111"/>
<circle cx="463.20" cy="422.20" r="1.9" fill="#111"/>
<circle cx="469.10" cy="425.20" r="1.9" fill="#111"/>
<circle cx="430.00" cy="423.40" r="1.9" fill="#111"/>
<circle cx="431.20" cy="425.20" r="1.9" fill="#111"/>
<circle cx="433.70" cy="425.80" r="1.9" fill="#111"/>
<circle cx="436.10" cy="427.70" r="1.9" fill="#111"/>
<circle cx="448.50" cy="427.70" r="1.9" fill="#111"/>
<circle cx="445.40" cy="428.90" r="1.9" fill="#111"/>
<circle cx="438.60" cy="430.20" r="1.9" fill="#111"/>
<circle cx="465.70" cy="430.20" r="1.9" fill="#111"/>
<circle cx="433.70" cy="432.60" r="1.9" fill="#111"/>
<circle cx="442.30" cy="432.60" r="1.9" fill="#111"/>
<circle cx="449.10" cy="432.00" r="1.9" fill="#111"/>
<circle cx="452.80" cy="432.60" r="1.9" fill="#111"/>
<circle cx="437.40" cy="433.80" r="1.9" fill="#111"/>
<circle cx="439.80" cy="434.50" r="1.9" fill="#111"/>
<circle cx="444.10" cy="433.80" r="1.9" fill="#111"/>
<circle cx="428.80" cy="433.80" r="1.9" fill="#111"/>
<circle cx="431.80" cy="436.30" r="1.9" fill="#111"/>
<circle cx="436.10" cy="436.30" r="1.9" fill="#111"/>
<circle cx="439.80" cy="436.30" r="1.9" fill="#111"/>
<circle cx="444.80" cy="436.30" r="1.9" fill="#111"/>
<circle cx="447.80" cy="436.90" r="1.9" fill="#111"/>
<circle cx="450.90" cy="436.90" r="1.9" fill="#111"/>
<circle cx="454.00" cy="437.50" r="1.9" fill="#111"/>
<circle cx="456.50" cy="437.50" r="1.9" fill="#111"/>
<circle cx="458.90" cy="437.50" r="1.9" fill="#111"/>
<circle cx="462.60" cy="436.30" r="1.9" fill="#111"/>
<circle cx="468.80" cy="436.90" r="1.9" fill="#111"/>
<circle cx="428.10" cy="437.50" r="1.9" fill="#111"/>
<circle cx="430.60" cy="438.20" r="1.9" fill="#111"/>
<circle cx="433.10" cy="435.10" r="1.9" fill="#111"/>
<text x="0" y="0" transform="translate(8.50,141.00) scale(1.0,1.12)" font-size="12.5" font-weight="bold" fill="#1e1e1e" stroke="#1e1e1e">B</text>
<text x="0" y="0" transform="translate(8.20,275.10) scale(1.0,1.05)" font-size="12.8" font-weight="bold" fill="#1e1e1e" stroke="#1e1e1e">C</text>
<text x="0" y="0" transform="translate(235.50,276.20) scale(1.0,1.1)" font-size="12.5" font-weight="bold" fill="#1e1e1e" stroke="#1e1e1e">D</text>
<text x="0" y="0" transform="translate(8.60,504.00) scale(1.0,1.05)" font-size="12.5" font-weight="bold" fill="#1e1e1e" stroke="#1e1e1e">E</text>
<text x="0" y="0" transform="translate(31.20,370.00) rotate(-90) scale(1.0,1.25)" font-size="9.6" fill="#1e1e1e" stroke="#1e1e1e">Enrichment score</text>
<text x="0" y="0" transform="translate(44.20,342.00) rotate(-90) scale(1.0,1.25)" font-size="9.6" fill="#1e1e1e" stroke="#1e1e1e">(ES)</text>
<text x="0" y="0" transform="translate(34.40,429.00) rotate(-90) scale(1.0,1.25)" font-size="9.6" fill="#1e1e1e" stroke="#1e1e1e">Ranked</text>
<text x="0" y="0" transform="translate(47.70,434.00) rotate(-90) scale(1.0,1.25)" font-size="9.6" fill="#1e1e1e" stroke="#1e1e1e">list metric</text>
<line x1="67.00" y1="305.40" x2="70.80" y2="305.40" stroke="#1e1e1e" stroke-width="1.1"/>
<text x="64.00" y="308.50" font-size="8.6" text-anchor="end" fill="#1e1e1e" stroke="#1e1e1e">0.6</text>
<line x1="67.00" y1="323.90" x2="70.80" y2="323.90" stroke="#1e1e1e" stroke-width="1.1"/>
<text x="64.00" y="327.00" font-size="8.6" text-anchor="end" fill="#1e1e1e" stroke="#1e1e1e">0.4</text>
<line x1="67.00" y1="342.30" x2="70.80" y2="342.30" stroke="#1e1e1e" stroke-width="1.1"/>
<text x="64.00" y="345.40" font-size="8.6" text-anchor="end" fill="#1e1e1e" stroke="#1e1e1e">0.2</text>
<line x1="67.00" y1="360.80" x2="70.80" y2="360.80" stroke="#1e1e1e" stroke-width="1.1"/>
<text x="64.00" y="363.90" font-size="8.6" text-anchor="end" fill="#1e1e1e" stroke="#1e1e1e">0.0</text>
<line x1="67.80" y1="314.60" x2="70.80" y2="314.60" stroke="#1e1e1e" stroke-width="1.0"/>
<line x1="67.80" y1="333.10" x2="70.80" y2="333.10" stroke="#1e1e1e" stroke-width="1.0"/>
<line x1="67.80" y1="351.50" x2="70.80" y2="351.50" stroke="#1e1e1e" stroke-width="1.0"/>
<text x="67.20" y="396.30" font-size="8.6" text-anchor="end" fill="#1e1e1e" stroke="#1e1e1e">10</text>
<text x="67.20" y="407.70" font-size="8.6" text-anchor="end" fill="#1e1e1e" stroke="#1e1e1e">5</text>
<text x="67.20" y="418.70" font-size="8.6" text-anchor="end" fill="#1e1e1e" stroke="#1e1e1e">0</text>
<text x="67.20" y="430.30" font-size="8.6" text-anchor="end" fill="#1e1e1e" stroke="#1e1e1e">-5</text>
<text x="67.20" y="440.90" font-size="8.6" text-anchor="end" fill="#1e1e1e" stroke="#1e1e1e">-10</text>
<line x1="71.70" y1="364.40" x2="71.70" y2="383.80" stroke="#5c5c5c" stroke-width="0.9"/>
<line x1="72.60" y1="364.40" x2="72.60" y2="383.80" stroke="#707070" stroke-width="0.8"/>
<line x1="73.30" y1="364.40" x2="73.30" y2="383.80" stroke="#505050" stroke-width="0.7"/>
<line x1="74.70" y1="364.40" x2="74.70" y2="383.80" stroke="#5c5c5c" stroke-width="0.7"/>
<line x1="76.20" y1="364.40" x2="76.20" y2="383.80" stroke="#707070" stroke-width="0.7"/>
<line x1="77.00" y1="364.40" x2="77.00" y2="383.80" stroke="#5c5c5c" stroke-width="0.7"/>
<line x1="77.80" y1="364.40" x2="77.80" y2="383.80" stroke="#404040" stroke-width="0.8"/>
<line x1="78.60" y1="364.40" x2="78.60" y2="383.80" stroke="#404040" stroke-width="0.8"/>
<line x1="79.30" y1="364.40" x2="79.30" y2="383.80" stroke="#505050" stroke-width="0.7"/>
<line x1="85.20" y1="364.40" x2="85.20" y2="383.80" stroke="#5c5c5c" stroke-width="0.7"/>
<line x1="86.00" y1="364.40" x2="86.00" y2="383.80" stroke="#707070" stroke-width="0.7"/>
<line x1="87.30" y1="364.40" x2="87.30" y2="383.80" stroke="#505050" stroke-width="0.8"/>
<line x1="89.00" y1="364.40" x2="89.00" y2="383.80" stroke="#5c5c5c" stroke-width="0.7"/>
<line x1="89.80" y1="364.40" x2="89.80" y2="383.80" stroke="#505050" stroke-width="0.7"/>
<line x1="90.60" y1="364.40" x2="90.60" y2="383.80" stroke="#707070" stroke-width="0.7"/>
<line x1="92.00" y1="364.40" x2="92.00" y2="383.80" stroke="#505050" stroke-width="0.8"/>
<line x1="92.80" y1="364.40" x2="92.80" y2="383.80" stroke="#5c5c5c" stroke-width="0.7"/>
<line x1="99.50" y1="364.40" x2="99.50" y2="383.80" stroke="#404040" stroke-width="0.8"/>
<line x1="104.70" y1="364.40" x2="104.70" y2="383.80" stroke="#505050" stroke-width="0.8"/>
<line x1="106.20" y1="364.40" x2="106.20" y2="383.80" stroke="#707070" stroke-width="0.7"/>
<line x1="107.70" y1="364.40" x2="107.70" y2="383.80" stroke="#5c5c5c" stroke-width="0.7"/>
<line x1="108.50" y1="364.40" x2="108.50" y2="383.80" stroke="#505050" stroke-width="0.7"/>
<line x1="109.20" y1="364.40" x2="109.20" y2="383.80" stroke="#707070" stroke-width="0.7"/>
<line x1="117.50" y1="364.40" x2="117.50" y2="383.80" stroke="#505050" stroke-width="0.8"/>
<line x1="125.70" y1="364.40" x2="125.70" y2="383.80" stroke="#5c5c5c" stroke-width="0.7"/>
<line x1="126.50" y1="364.40" x2="126.50" y2="383.80" stroke="#707070" stroke-width="0.7"/>
<line x1="127.30" y1="364.40" x2="127.30" y2="383.80" stroke="#5c5c5c" stroke-width="0.7"/>
<line x1="128.70" y1="364.40" x2="128.70" y2="383.80" stroke="#505050" stroke-width="0.7"/>
<line x1="129.50" y1="364.40" x2="129.50" y2="383.80" stroke="#707070" stroke-width="0.7"/>
<line x1="143.20" y1="364.40" x2="143.20" y2="383.80" stroke="#5c5c5c" stroke-width="0.8"/>
<line x1="153.40" y1="364.40" x2="153.40" y2="383.80" stroke="#404040" stroke-width="0.8"/>
<line x1="154.20" y1="364.40" x2="154.20" y2="383.80" stroke="#505050" stroke-width="0.7"/>
<line x1="157.20" y1="364.40" x2="157.20" y2="383.80" stroke="#303030" stroke-width="0.9"/>
<line x1="162.50" y1="364.40" x2="162.50" y2="383.80" stroke="#999999" stroke-width="0.7"/>
<line x1="163.30" y1="364.40" x2="163.30" y2="383.80" stroke="#8a8a8a" stroke-width="0.7"/>
<line x1="164.10" y1="364.40" x2="164.10" y2="383.80" stroke="#999999" stroke-width="0.7"/>
<line x1="164.80" y1="364.40" x2="164.80" y2="383.80" stroke="#8a8a8a" stroke-width="0.7"/>
<line x1="167.10" y1="364.40" x2="167.10" y2="383.80" stroke="#5c5c5c" stroke-width="0.8"/>
<line x1="169.30" y1="364.40" x2="169.30" y2="383.80" stroke="#252525" stroke-width="0.9"/>
<line x1="172.30" y1="364.40" x2="172.30" y2="383.80" stroke="#5c5c5c" stroke-width="0.8"/>
<line x1="191.70" y1="364.40" x2="191.70" y2="383.80" stroke="#5c5c5c" stroke-width="0.8"/>
<defs><linearGradient id="rk" x1="0" y1="0" x2="1" y2="0"><stop offset="0.000" stop-color="#cd2d4b"/><stop offset="0.173" stop-color="#d4465f"/><stop offset="0.374" stop-color="#de6e82"/><stop offset="0.388" stop-color="#f0b9d2"/><stop offset="0.424" stop-color="#f0deec"/><stop offset="0.532" stop-color="#e8e4f2"/><stop offset="0.683" stop-color="#dcdcf4"/><stop offset="0.712" stop-color="#8c82d2"/><stop offset="0.820" stop-color="#5f55af"/><stop offset="1.000" stop-color="#37328c"/></linearGradient></defs>
<rect x="71.00" y="384.60" width="139.00" height="5.00" fill="url(#rk)"/>
<line x1="70.80" y1="384.50" x2="216.80" y2="384.50" stroke="#2e1820" stroke-width="1.0"/>
<line x1="70.80" y1="389.60" x2="216.80" y2="389.60" stroke="#2e1820" stroke-width="1.0"/>
<path d="M71,414.6 L71.0,397.6 L74,400.5 L78,402.6 L85.3,405.2 L95,407.9 L102.6,409.5 L115,411.5 L128,413.3 L140,414.5 Z" fill="#7f7f7f" stroke="none" stroke-width="1"/>
<path d="M140,414.5 L140,414.5 L160,416.3 L183.4,418.3 L196,419.8 L203.5,421.2 L207.5,422.8 L209.8,425 L210.8,428.5 L210.8,414.5 Z" fill="#7f7f7f" stroke="none" stroke-width="1"/>
<path d="M71.1,351.1 L71.8,344.2 L72.6,338 L73.8,333.4 L74.5,331 L75.4,332.6 L76.5,329.5 L77.5,330.3 L78.5,321 L80,312.6 L82.6,314.2 L84.9,315.7 L86.2,316.5 L87.7,313.4 L89.5,310.3 L91,307.2 L92.3,304.9 L94.2,305.7 L96.5,307.2 L99.5,309.5 L100.3,304.5 L102.6,306 L105.7,307.5 L108.8,308.5 L111,309 L114.2,310.6 L117,312.2 L117.5,310.6 L118.8,312.6 L121.8,314.2 L125.7,315.2 L129.5,316.5 L131,317.2 L135.7,320.3 L140,322.8 L147.5,327.7 L155,332.2 L162.5,336 L167.7,337.5 L169.2,336.7 L174.5,339 L185,345.7 L191,349.2 L192.5,349.5 L200,354.7 L208.2,360.2" fill="none" stroke="#5a9a3e" stroke-width="1.6" stroke-linejoin="round"/>
<rect x="70.80" y="302.00" width="146.00" height="129.00" fill="none" stroke="#111" stroke-width="1.45"/>
<line x1="70.80" y1="360.90" x2="216.80" y2="360.90" stroke="#1a1a1a" stroke-width="1.1"/>
<line x1="70.80" y1="363.80" x2="216.80" y2="363.80" stroke="#1a1a1a" stroke-width="1.0"/>
<line x1="70.80" y1="414.50" x2="216.80" y2="414.50" stroke="#bbb" stroke-width="0.4"/>
<text x="170.00" y="312.20" font-size="8.5" fill="#1e1e1e" stroke="#1e1e1e">NES=2,031</text>
<text x="170.00" y="322.40" font-size="8.5" fill="#1e1e1e" stroke="#1e1e1e">FDR&lt;0,001</text>
<text x="170.00" y="332.40" font-size="8.5" fill="#1e1e1e" stroke="#1e1e1e">p&lt;0,001</text>
<text x="97.50" y="442.80" font-size="9.2" text-anchor="middle" fill="#1e1e1e" stroke="#1e1e1e">high</text>
<text x="182.00" y="442.80" font-size="9.2" text-anchor="middle" fill="#1e1e1e" stroke="#1e1e1e">low</text>
<text x="0" y="0" transform="translate(26.40,612.00) rotate(-90) scale(1.0,1.25)" font-size="9.7" fill="#1e1e1e" stroke="#1e1e1e">Normalized expression</text>
<text x="0" y="0" transform="translate(22.00,766.50) rotate(-90) scale(1.0,1.25)" font-size="9.7" fill="#1e1e1e" stroke="#1e1e1e">Normalized expression</text>
<line x1="51.80" y1="509.50" x2="51.80" y2="613.20" stroke="#1e1e1e" stroke-width="1.4"/>
<line x1="51.10" y1="612.60" x2="178.50" y2="612.60" stroke="#1e1e1e" stroke-width="1.4"/>
<line x1="48.40" y1="612.60" x2="51.80" y2="612.60" stroke="#1e1e1e" stroke-width="1.0"/>
<line x1="48.40" y1="602.60" x2="51.80" y2="602.60" stroke="#1e1e1e" stroke-width="1.0"/>
<line x1="48.40" y1="592.60" x2="51.80" y2="592.60" stroke="#1e1e1e" stroke-width="1.0"/>
<line x1="48.40" y1="582.60" x2="51.80" y2="582.60" stroke="#1e1e1e" stroke-width="1.0"/>
<line x1="48.40" y1="572.60" x2="51.80" y2="572.60" stroke="#1e1e1e" stroke-width="1.0"/>
<line x1="48.40" y1="562.60" x2="51.80" y2="562.60" stroke="#1e1e1e" stroke-width="1.0"/>
<line x1="48.40" y1="552.60" x2="51.80" y2="552.60" stroke="#1e1e1e" stroke-width="1.0"/>
<line x1="48.40" y1="542.60" x2="51.80" y2="542.60" stroke="#1e1e1e" stroke-width="1.0"/>
<line x1="48.40" y1="532.60" x2="51.80" y2="532.60" stroke="#1e1e1e" stroke-width="1.0"/>
<line x1="48.40" y1="522.60" x2="51.80" y2="522.60" stroke="#1e1e1e" stroke-width="1.0"/>
<line x1="48.40" y1="512.60" x2="51.80" y2="512.60" stroke="#1e1e1e" stroke-width="1.0"/>
<line x1="48.20" y1="612.60" x2="51.80" y2="612.60" stroke="#1e1e1e" stroke-width="1.1"/>
<line x1="48.20" y1="592.60" x2="51.80" y2="592.60" stroke="#1e1e1e" stroke-width="1.1"/>
<line x1="48.20" y1="572.60" x2="51.80" y2="572.60" stroke="#1e1e1e" stroke-width="1.1"/>
<line x1="48.20" y1="552.60" x2="51.80" y2="552.60" stroke="#1e1e1e" stroke-width="1.1"/>
<line x1="48.20" y1="532.60" x2="51.80" y2="532.60" stroke="#1e1e1e" stroke-width="1.1"/>
<line x1="48.20" y1="512.60" x2="51.80" y2="512.60" stroke="#1e1e1e" stroke-width="1.1"/>
<text x="44.80" y="515.20" font-size="8.9" text-anchor="end" fill="#1e1e1e" stroke="#1e1e1e">1</text>
<text x="44.80" y="535.20" font-size="8.9" text-anchor="end" fill="#1e1e1e" stroke="#1e1e1e">0.8</text>
<text x="44.80" y="555.20" font-size="8.9" text-anchor="end" fill="#1e1e1e" stroke="#1e1e1e">0.6</text>
<text x="44.80" y="575.20" font-size="8.9" text-anchor="end" fill="#1e1e1e" stroke="#1e1e1e">0.4</text>
<text x="44.80" y="595.20" font-size="8.9" text-anchor="end" fill="#1e1e1e" stroke="#1e1e1e">0.2</text>
<text x="44.80" y="615.20" font-size="8.9" text-anchor="end" fill="#1e1e1e" stroke="#1e1e1e">0</text>
<text x="114.50" y="509.80" font-size="10.6" text-anchor="middle" font-weight="bold" fill="#1e1e1e" stroke="#1e1e1e">GLI1</text>
<line x1="73.60" y1="612.60" x2="73.60" y2="615.60" stroke="#1e1e1e" stroke-width="1.0"/>
<text x="73.60" y="627.30" font-size="9.2" text-anchor="middle" fill="#1e1e1e" stroke="#1e1e1e">T cell</text>
<text x="73.60" y="638.50" font-size="9.2" text-anchor="middle" fill="#1e1e1e" stroke="#1e1e1e">subsets</text>
<line x1="116.00" y1="612.60" x2="116.00" y2="615.60" stroke="#1e1e1e" stroke-width="1.0"/>
<text x="116.00" y="627.30" font-size="9.2" text-anchor="middle" fill="#1e1e1e" stroke="#1e1e1e">GLI1</text>
<text x="116.00" y="638.50" font-size="9.2" text-anchor="middle" fill="#1e1e1e" stroke="#1e1e1e">high</text>
<line x1="157.60" y1="612.60" x2="157.60" y2="615.60" stroke="#1e1e1e" stroke-width="1.0"/>
<text x="157.60" y="627.30" font-size="9.2" text-anchor="middle" fill="#1e1e1e" stroke="#1e1e1e">GLI1</text>
<text x="157.60" y="638.50" font-size="9.2" text-anchor="middle" fill="#1e1e1e" stroke="#1e1e1e">low</text>
<line x1="73.60" y1="607.30" x2="73.60" y2="609.20" stroke="#1e1e1e" stroke-width="1.3" stroke-dasharray="1.6,1.2"/>
<line x1="69.60" y1="607.30" x2="77.60" y2="607.30" stroke="#1e1e1e" stroke-width="1.2"/>
<rect x="64.00" y="609.20" width="19.20" height="2.60" fill="none" stroke="#45508e" stroke-width="1.0"/>
<line x1="64.50" y1="610.60" x2="82.70" y2="610.60" stroke="#c4233e" stroke-width="1.1"/>
<line x1="72.50" y1="604.60" x2="75.50" y2="604.60" stroke="#c4233e" stroke-width="0.8"/>
<line x1="74.00" y1="603.10" x2="74.00" y2="606.10" stroke="#c4233e" stroke-width="0.8"/>
<line x1="116.00" y1="545.00" x2="116.00" y2="570.50" stroke="#1e1e1e" stroke-width="1.3" stroke-dasharray="1.6,1.2"/>
<line x1="111.00" y1="545.00" x2="121.00" y2="545.00" stroke="#1e1e1e" stroke-width="1.2"/>
<line x1="116.00" y1="603.90" x2="116.00" y2="605.30" stroke="#1e1e1e" stroke-width="1.3" stroke-dasharray="1.6,1.2"/>
<line x1="111.00" y1="605.30" x2="121.00" y2="605.30" stroke="#1e1e1e" stroke-width="1.2"/>
<rect x="106.40" y="570.50" width="19.20" height="33.40" fill="none" stroke="#45508e" stroke-width="1.0"/>
<line x1="106.90" y1="597.60" x2="125.10" y2="597.60" stroke="#c4233e" stroke-width="1.1"/>
<line x1="157.60" y1="606.20" x2="157.60" y2="607.30" stroke="#1e1e1e" stroke-width="1.3" stroke-dasharray="1.6,1.2"/>
<line x1="153.60" y1="606.20" x2="161.60" y2="606.20" stroke="#1e1e1e" stroke-width="1.2"/>
<rect x="148.00" y="607.30" width="19.20" height="4.60" fill="#dcc4dc" stroke="#45508e" stroke-width="1.0"/>
<line x1="148.50" y1="610.00" x2="166.70" y2="610.00" stroke="#d08aa8" stroke-width="1.1"/>
<path d="M73.7,596.0 L73.7,535.6 L116.6,535.6 L116.6,540.6" fill="none" stroke="#1e1e1e" stroke-width="1.2" stroke-linejoin="miter"/>
<text x="94.60" y="536.00" font-size="11.5" text-anchor="middle" fill="#1e1e1e" stroke="#1e1e1e">***</text>
<path d="M119.4,540.6 L119.4,535.6 L161.2,535.6 L161.2,597.0" fill="none" stroke="#1e1e1e" stroke-width="1.2" stroke-linejoin="miter"/>
<text x="141.30" y="536.00" font-size="11.5" text-anchor="middle" fill="#1e1e1e" stroke="#1e1e1e">**</text>
<line x1="221.20" y1="509.50" x2="221.20" y2="613.10" stroke="#1e1e1e" stroke-width="1.4"/>
<line x1="220.50" y1="612.50" x2="345.50" y2="612.50" stroke="#1e1e1e" stroke-width="1.4"/>
<line x1="217.80" y1="612.50" x2="221.20" y2="612.50" stroke="#1e1e1e" stroke-width="1.0"/>
<line x1="217.80" y1="602.50" x2="221.20" y2="602.50" stroke="#1e1e1e" stroke-width="1.0"/>
<line x1="217.80" y1="592.50" x2="221.20" y2="592.50" stroke="#1e1e1e" stroke-width="1.0"/>
<line x1="217.80" y1="582.50" x2="221.20" y2="582.50" stroke="#1e1e1e" stroke-width="1.0"/>
<line x1="217.80" y1="572.50" x2="221.20" y2="572.50" stroke="#1e1e1e" stroke-width="1.0"/>
<line x1="217.80" y1="562.50" x2="221.20" y2="562.50" stroke="#1e1e1e" stroke-width="1.0"/>
<line x1="217.80" y1="552.50" x2="221.20" y2="552.50" stroke="#1e1e1e" stroke-width="1.0"/>
<line x1="217.80" y1="542.50" x2="221.20" y2="542.50" stroke="#1e1e1e" stroke-width="1.0"/>
<line x1="217.80" y1="532.50" x2="221.20" y2="532.50" stroke="#1e1e1e" stroke-width="1.0"/>
<line x1="217.80" y1="522.50" x2="221.20" y2="522.50" stroke="#1e1e1e" stroke-width="1.0"/>
<line x1="217.80" y1="512.50" x2="221.20" y2="512.50" stroke="#1e1e1e" stroke-width="1.0"/>
<line x1="217.60" y1="612.50" x2="221.20" y2="612.50" stroke="#1e1e1e" stroke-width="1.1"/>
<line x1="217.60" y1="592.50" x2="221.20" y2="592.50" stroke="#1e1e1e" stroke-width="1.1"/>
<line x1="217.60" y1="572.50" x2="221.20" y2="572.50" stroke="#1e1e1e" stroke-width="1.1"/>
<line x1="217.60" y1="552.50" x2="221.20" y2="552.50" stroke="#1e1e1e" stroke-width="1.1"/>
<line x1="217.60" y1="532.50" x2="221.20" y2="532.50" stroke="#1e1e1e" stroke-width="1.1"/>
<line x1="217.60" y1="512.50" x2="221.20" y2="512.50" stroke="#1e1e1e" stroke-width="1.1"/>
<text x="214.20" y="515.10" font-size="8.9" text-anchor="end" fill="#1e1e1e" stroke="#1e1e1e">5</text>
<text x="214.20" y="535.10" font-size="8.9" text-anchor="end" fill="#1e1e1e" stroke="#1e1e1e">4</text>
<text x="214.20" y="555.10" font-size="8.9" text-anchor="end" fill="#1e1e1e" stroke="#1e1e1e">3</text>
<text x="214.20" y="575.10" font-size="8.9" text-anchor="end" fill="#1e1e1e" stroke="#1e1e1e">2</text>
<text x="214.20" y="595.10" font-size="8.9" text-anchor="end" fill="#1e1e1e" stroke="#1e1e1e">1</text>
<text x="214.20" y="615.10" font-size="8.9" text-anchor="end" fill="#1e1e1e" stroke="#1e1e1e">0</text>
<text x="283.00" y="509.80" font-size="10.6" text-anchor="middle" font-weight="bold" fill="#1e1e1e" stroke="#1e1e1e">GLI3</text>
<line x1="242.80" y1="612.50" x2="242.80" y2="615.50" stroke="#1e1e1e" stroke-width="1.0"/>
<text x="242.80" y="627.30" font-size="9.2" text-anchor="middle" fill="#1e1e1e" stroke="#1e1e1e">T cell</text>
<text x="242.80" y="638.50" font-size="9.2" text-anchor="middle" fill="#1e1e1e" stroke="#1e1e1e">subsets</text>
<line x1="284.80" y1="612.50" x2="284.80" y2="615.50" stroke="#1e1e1e" stroke-width="1.0"/>
<text x="284.80" y="627.30" font-size="9.2" text-anchor="middle" fill="#1e1e1e" stroke="#1e1e1e">GLI1</text>
<text x="284.80" y="638.50" font-size="9.2" text-anchor="middle" fill="#1e1e1e" stroke="#1e1e1e">high</text>
<line x1="325.80" y1="612.50" x2="325.80" y2="615.50" stroke="#1e1e1e" stroke-width="1.0"/>
<text x="325.80" y="627.30" font-size="9.2" text-anchor="middle" fill="#1e1e1e" stroke="#1e1e1e">GLI1</text>
<text x="325.80" y="638.50" font-size="9.2" text-anchor="middle" fill="#1e1e1e" stroke="#1e1e1e">low</text>
<rect x="232.30" y="612.00" width="21.00" height="0.30" fill="none" stroke="#45508e" stroke-width="1.0"/>
<line x1="232.80" y1="612.10" x2="252.80" y2="612.10" stroke="#c4233e" stroke-width="1.1"/>
<line x1="284.80" y1="596.20" x2="284.80" y2="612.00" stroke="#1e1e1e" stroke-width="1.3" stroke-dasharray="1.6,1.2"/>
<line x1="281.80" y1="612.00" x2="287.80" y2="612.00" stroke="#1e1e1e" stroke-width="1.2"/>
<rect x="275.20" y="583.70" width="19.20" height="12.50" fill="none" stroke="#45508e" stroke-width="1.0"/>
<line x1="275.70" y1="594.30" x2="293.90" y2="594.30" stroke="#c4233e" stroke-width="1.1"/>
<line x1="284.10" y1="543.80" x2="285.50" y2="543.80" stroke="#777" stroke-width="0.8"/>
<line x1="325.80" y1="605.80" x2="325.80" y2="606.30" stroke="#1e1e1e" stroke-width="1.3" stroke-dasharray="1.6,1.2"/>
<line x1="321.80" y1="605.80" x2="329.80" y2="605.80" stroke="#1e1e1e" stroke-width="1.2"/>
<rect x="316.20" y="606.30" width="19.20" height="5.70" fill="none" stroke="#45508e" stroke-width="1.0"/>
<line x1="316.70" y1="610.20" x2="334.90" y2="610.20" stroke="#c4233e" stroke-width="1.1"/>
<path d="M242.7,605.8 L242.7,571.2 L283.0,571.2 L283.0,575.4" fill="none" stroke="#1e1e1e" stroke-width="1.2" stroke-linejoin="miter"/>
<text x="263.40" y="571.60" font-size="11.5" text-anchor="middle" fill="#1e1e1e" stroke="#1e1e1e">***</text>
<path d="M285.4,575.4 L285.4,571.2 L326.0,571.2 L326.0,599.5" fill="none" stroke="#1e1e1e" stroke-width="1.2" stroke-linejoin="miter"/>
<text x="306.40" y="571.60" font-size="11.5" text-anchor="middle" fill="#1e1e1e" stroke="#1e1e1e">*</text>
<line x1="383.60" y1="509.50" x2="383.60" y2="613.00" stroke="#1e1e1e" stroke-width="1.4"/>
<line x1="382.90" y1="612.40" x2="511.50" y2="612.40" stroke="#1e1e1e" stroke-width="1.4"/>
<line x1="380.20" y1="612.40" x2="383.60" y2="612.40" stroke="#1e1e1e" stroke-width="1.0"/>
<line x1="380.20" y1="602.40" x2="383.60" y2="602.40" stroke="#1e1e1e" stroke-width="1.0"/>
<line x1="380.20" y1="592.40" x2="383.60" y2="592.40" stroke="#1e1e1e" stroke-width="1.0"/>
<line x1="380.20" y1="582.40" x2="383.60" y2="582.40" stroke="#1e1e1e" stroke-width="1.0"/>
<line x1="380.20" y1="572.40" x2="383.60" y2="572.40" stroke="#1e1e1e" stroke-width="1.0"/>
<line x1="380.20" y1="562.40" x2="383.60" y2="562.40" stroke="#1e1e1e" stroke-width="1.0"/>
<line x1="380.20" y1="552.40" x2="383.60" y2="552.40" stroke="#1e1e1e" stroke-width="1.0"/>
<line x1="380.20" y1="542.40" x2="383.60" y2="542.40" stroke="#1e1e1e" stroke-width="1.0"/>
<line x1="380.20" y1="532.40" x2="383.60" y2="532.40" stroke="#1e1e1e" stroke-width="1.0"/>
<line x1="380.20" y1="522.40" x2="383.60" y2="522.40" stroke="#1e1e1e" stroke-width="1.0"/>
<line x1="380.20" y1="512.40" x2="383.60" y2="512.40" stroke="#1e1e1e" stroke-width="1.0"/>
<line x1="380.00" y1="612.40" x2="383.60" y2="612.40" stroke="#1e1e1e" stroke-width="1.1"/>
<line x1="380.00" y1="592.40" x2="383.60" y2="592.40" stroke="#1e1e1e" stroke-width="1.1"/>
<line x1="380.00" y1="572.40" x2="383.60" y2="572.40" stroke="#1e1e1e" stroke-width="1.1"/>
<line x1="380.00" y1="552.40" x2="383.60" y2="552.40" stroke="#1e1e1e" stroke-width="1.1"/>
<line x1="380.00" y1="532.40" x2="383.60" y2="532.40" stroke="#1e1e1e" stroke-width="1.1"/>
<line x1="380.00" y1="512.40" x2="383.60" y2="512.40" stroke="#1e1e1e" stroke-width="1.1"/>
<text x="376.60" y="515.20" font-size="8.9" text-anchor="end" fill="#1e1e1e" stroke="#1e1e1e">1</text>
<text x="376.60" y="535.40" font-size="8.9" text-anchor="end" fill="#1e1e1e" stroke="#1e1e1e">0.8</text>
<text x="376.60" y="555.30" font-size="8.9" text-anchor="end" fill="#1e1e1e" stroke="#1e1e1e">0.6</text>
<text x="376.60" y="575.30" font-size="8.9" text-anchor="end" fill="#1e1e1e" stroke="#1e1e1e">0.4</text>
<text x="376.60" y="595.10" font-size="8.9" text-anchor="end" fill="#1e1e1e" stroke="#1e1e1e">0.2</text>
<text x="376.60" y="615.00" font-size="8.9" text-anchor="end" fill="#1e1e1e" stroke="#1e1e1e">0</text>
<text x="449.80" y="509.80" font-size="10.6" text-anchor="middle" font-weight="bold" fill="#1e1e1e" stroke="#1e1e1e">PTCH2</text>
<line x1="405.80" y1="612.40" x2="405.80" y2="615.40" stroke="#1e1e1e" stroke-width="1.0"/>
<text x="405.80" y="627.30" font-size="9.2" text-anchor="middle" fill="#1e1e1e" stroke="#1e1e1e">T cell</text>
<text x="405.80" y="638.50" font-size="9.2" text-anchor="middle" fill="#1e1e1e" stroke="#1e1e1e">subsets</text>
<line x1="448.40" y1="612.40" x2="448.40" y2="615.40" stroke="#1e1e1e" stroke-width="1.0"/>
<text x="448.40" y="627.30" font-size="9.2" text-anchor="middle" fill="#1e1e1e" stroke="#1e1e1e">GLI1</text>
<text x="448.40" y="638.50" font-size="9.2" text-anchor="middle" fill="#1e1e1e" stroke="#1e1e1e">high</text>
<line x1="489.00" y1="612.40" x2="489.00" y2="615.40" stroke="#1e1e1e" stroke-width="1.0"/>
<text x="489.00" y="627.30" font-size="9.2" text-anchor="middle" fill="#1e1e1e" stroke="#1e1e1e">GLI1</text>
<text x="489.00" y="638.50" font-size="9.2" text-anchor="middle" fill="#1e1e1e" stroke="#1e1e1e">low</text>
<rect x="396.20" y="611.30" width="19.20" height="0.70" fill="none" stroke="#45508e" stroke-width="1.0"/>
<line x1="396.70" y1="611.60" x2="414.90" y2="611.60" stroke="#c4233e" stroke-width="1.1"/>
<line x1="448.40" y1="567.20" x2="448.40" y2="570.00" stroke="#1e1e1e" stroke-width="1.3" stroke-dasharray="1.6,1.2"/>
<line x1="443.40" y1="567.20" x2="453.40" y2="567.20" stroke="#1e1e1e" stroke-width="1.2"/>
<line x1="448.40" y1="607.40" x2="448.40" y2="609.00" stroke="#1e1e1e" stroke-width="1.3" stroke-dasharray="1.6,1.2"/>
<line x1="443.40" y1="609.00" x2="453.40" y2="609.00" stroke="#1e1e1e" stroke-width="1.2"/>
<rect x="438.80" y="570.00" width="19.20" height="37.40" fill="none" stroke="#45508e" stroke-width="1.0"/>
<line x1="439.30" y1="600.00" x2="457.50" y2="600.00" stroke="#c4233e" stroke-width="1.1"/>
<line x1="489.00" y1="608.40" x2="489.00" y2="608.80" stroke="#1e1e1e" stroke-width="1.3" stroke-dasharray="1.6,1.2"/>
<line x1="485.00" y1="608.40" x2="493.00" y2="608.40" stroke="#1e1e1e" stroke-width="1.2"/>
<rect x="479.40" y="608.80" width="19.20" height="3.20" fill="none" stroke="#45508e" stroke-width="1.0"/>
<line x1="479.90" y1="610.60" x2="498.10" y2="610.60" stroke="#c4233e" stroke-width="1.1"/>
<path d="M405.0,609.8 L405.0,554.4 L445.6,554.4 L445.6,560.0" fill="none" stroke="#1e1e1e" stroke-width="1.2" stroke-linejoin="miter"/>
<text x="426.50" y="554.80" font-size="11.5" text-anchor="middle" fill="#1e1e1e" stroke="#1e1e1e">***</text>
<path d="M449.0,560.0 L449.0,554.4 L488.8,554.4 L488.8,583.8" fill="none" stroke="#1e1e1e" stroke-width="1.2" stroke-linejoin="miter"/>
<text x="468.60" y="554.80" font-size="11.5" text-anchor="middle" fill="#1e1e1e" stroke="#1e1e1e">**</text>
<line x1="52.80" y1="665.50" x2="52.80" y2="768.80" stroke="#1e1e1e" stroke-width="1.4"/>
<line x1="52.10" y1="768.20" x2="178.50" y2="768.20" stroke="#1e1e1e" stroke-width="1.4"/>
<line x1="49.40" y1="768.20" x2="52.80" y2="768.20" stroke="#1e1e1e" stroke-width="1.0"/>
<line x1="49.40" y1="758.25" x2="52.80" y2="758.25" stroke="#1e1e1e" stroke-width="1.0"/>
<line x1="49.40" y1="748.30" x2="52.80" y2="748.30" stroke="#1e1e1e" stroke-width="1.0"/>
<line x1="49.40" y1="738.35" x2="52.80" y2="738.35" stroke="#1e1e1e" stroke-width="1.0"/>
<line x1="49.40" y1="728.40" x2="52.80" y2="728.40" stroke="#1e1e1e" stroke-width="1.0"/>
<line x1="49.40" y1="718.45" x2="52.80" y2="718.45" stroke="#1e1e1e" stroke-width="1.0"/>
<line x1="49.40" y1="708.50" x2="52.80" y2="708.50" stroke="#1e1e1e" stroke-width="1.0"/>
<line x1="49.40" y1="698.55" x2="52.80" y2="698.55" stroke="#1e1e1e" stroke-width="1.0"/>
<line x1="49.40" y1="688.60" x2="52.80" y2="688.60" stroke="#1e1e1e" stroke-width="1.0"/>
<line x1="49.40" y1="678.65" x2="52.80" y2="678.65" stroke="#1e1e1e" stroke-width="1.0"/>
<line x1="49.40" y1="668.70" x2="52.80" y2="668.70" stroke="#1e1e1e" stroke-width="1.0"/>
<line x1="49.20" y1="768.20" x2="52.80" y2="768.20" stroke="#1e1e1e" stroke-width="1.1"/>
<line x1="49.20" y1="748.30" x2="52.80" y2="748.30" stroke="#1e1e1e" stroke-width="1.1"/>
<line x1="49.20" y1="728.40" x2="52.80" y2="728.40" stroke="#1e1e1e" stroke-width="1.1"/>
<line x1="49.20" y1="708.50" x2="52.80" y2="708.50" stroke="#1e1e1e" stroke-width="1.1"/>
<line x1="49.20" y1="688.60" x2="52.80" y2="688.60" stroke="#1e1e1e" stroke-width="1.1"/>
<line x1="49.20" y1="668.70" x2="52.80" y2="668.70" stroke="#1e1e1e" stroke-width="1.1"/>
<text x="45.80" y="671.30" font-size="8.9" text-anchor="end" fill="#1e1e1e" stroke="#1e1e1e">0.1</text>
<text x="45.80" y="691.20" font-size="8.9" text-anchor="end" fill="#1e1e1e" stroke="#1e1e1e">0.08</text>
<text x="45.80" y="711.10" font-size="8.9" text-anchor="end" fill="#1e1e1e" stroke="#1e1e1e">0.06</text>
<text x="45.80" y="731.00" font-size="8.9" text-anchor="end" fill="#1e1e1e" stroke="#1e1e1e">0.04</text>
<text x="45.80" y="750.90" font-size="8.9" text-anchor="end" fill="#1e1e1e" stroke="#1e1e1e">0.02</text>
<text x="45.80" y="770.80" font-size="8.9" text-anchor="end" fill="#1e1e1e" stroke="#1e1e1e">0</text>
<text x="116.60" y="665.20" font-size="10.6" text-anchor="middle" font-weight="bold" fill="#1e1e1e" stroke="#1e1e1e">SHH</text>
<line x1="74.40" y1="768.20" x2="74.40" y2="771.20" stroke="#1e1e1e" stroke-width="1.0"/>
<text x="74.40" y="783.30" font-size="9.2" text-anchor="middle" fill="#1e1e1e" stroke="#1e1e1e">T cell</text>
<text x="74.40" y="794.50" font-size="9.2" text-anchor="middle" fill="#1e1e1e" stroke="#1e1e1e">subsets</text>
<line x1="116.20" y1="768.20" x2="116.20" y2="771.20" stroke="#1e1e1e" stroke-width="1.0"/>
<text x="116.20" y="783.30" font-size="9.2" text-anchor="middle" fill="#1e1e1e" stroke="#1e1e1e">GLI1</text>
<text x="116.20" y="794.50" font-size="9.2" text-anchor="middle" fill="#1e1e1e" stroke="#1e1e1e">high</text>
<line x1="157.60" y1="768.20" x2="157.60" y2="771.20" stroke="#1e1e1e" stroke-width="1.0"/>
<text x="157.60" y="783.30" font-size="9.2" text-anchor="middle" fill="#1e1e1e" stroke="#1e1e1e">GLI1</text>
<text x="157.60" y="794.50" font-size="9.2" text-anchor="middle" fill="#1e1e1e" stroke="#1e1e1e">low</text>
<rect x="63.90" y="767.60" width="21.00" height="0.30" fill="none" stroke="#45508e" stroke-width="1.0"/>
<line x1="64.40" y1="767.80" x2="84.40" y2="767.80" stroke="#c4233e" stroke-width="1.1"/>
<line x1="116.20" y1="767.40" x2="116.20" y2="767.80" stroke="#1e1e1e" stroke-width="1.3" stroke-dasharray="1.6,1.2"/>
<line x1="112.20" y1="767.80" x2="120.20" y2="767.80" stroke="#1e1e1e" stroke-width="1.2"/>
<rect x="106.60" y="761.00" width="19.20" height="6.40" fill="none" stroke="#45508e" stroke-width="1.0"/>
<line x1="107.10" y1="764.50" x2="125.30" y2="764.50" stroke="#c4233e" stroke-width="1.1"/>
<circle cx="116.00" cy="753.50" r="0.8" fill="#c03050"/>
<line x1="157.60" y1="765.00" x2="157.60" y2="765.40" stroke="#1e1e1e" stroke-width="1.3" stroke-dasharray="1.6,1.2"/>
<line x1="153.60" y1="765.00" x2="161.60" y2="765.00" stroke="#1e1e1e" stroke-width="1.2"/>
<rect x="148.00" y="765.40" width="19.20" height="2.40" fill="none" stroke="#45508e" stroke-width="1.0"/>
<line x1="148.50" y1="766.80" x2="166.70" y2="766.80" stroke="#c4233e" stroke-width="1.1"/>
<circle cx="157.50" cy="758.70" r="0.8" fill="#c03050"/>
<path d="M74.4,756.0 L74.4,743.8 L116.0,743.8 L116.0,750.0" fill="none" stroke="#1e1e1e" stroke-width="1.2" stroke-linejoin="miter"/>
<text x="97.80" y="743.40" font-size="11.5" text-anchor="middle" fill="#1e1e1e" stroke="#1e1e1e">***</text>
<line x1="127.00" y1="743.80" x2="143.60" y2="743.80" stroke="#1e1e1e" stroke-width="1.2"/>
<text x="135.30" y="741.20" font-size="9.0" text-anchor="middle" fill="#1e1e1e" stroke="#1e1e1e">ns</text>
<line x1="222.00" y1="665.50" x2="222.00" y2="768.80" stroke="#1e1e1e" stroke-width="1.4"/>
<line x1="221.30" y1="768.20" x2="339.80" y2="768.20" stroke="#1e1e1e" stroke-width="1.4"/>
<line x1="218.60" y1="768.20" x2="222.00" y2="768.20" stroke="#1e1e1e" stroke-width="1.0"/>
<line x1="218.60" y1="758.25" x2="222.00" y2="758.25" stroke="#1e1e1e" stroke-width="1.0"/>
<line x1="218.60" y1="748.30" x2="222.00" y2="748.30" stroke="#1e1e1e" stroke-width="1.0"/>
<line x1="218.60" y1="738.35" x2="222.00" y2="738.35" stroke="#1e1e1e" stroke-width="1.0"/>
<line x1="218.60" y1="728.40" x2="222.00" y2="728.40" stroke="#1e1e1e" stroke-width="1.0"/>
<line x1="218.60" y1="718.45" x2="222.00" y2="718.45" stroke="#1e1e1e" stroke-width="1.0"/>
<line x1="218.60" y1="708.50" x2="222.00" y2="708.50" stroke="#1e1e1e" stroke-width="1.0"/>
<line x1="218.60" y1="698.55" x2="222.00" y2="698.55" stroke="#1e1e1e" stroke-width="1.0"/>
<line x1="218.60" y1="688.60" x2="222.00" y2="688.60" stroke="#1e1e1e" stroke-width="1.0"/>
<line x1="218.60" y1="678.65" x2="222.00" y2="678.65" stroke="#1e1e1e" stroke-width="1.0"/>
<line x1="218.60" y1="668.70" x2="222.00" y2="668.70" stroke="#1e1e1e" stroke-width="1.0"/>
<line x1="218.40" y1="768.20" x2="222.00" y2="768.20" stroke="#1e1e1e" stroke-width="1.1"/>
<line x1="218.40" y1="748.30" x2="222.00" y2="748.30" stroke="#1e1e1e" stroke-width="1.1"/>
<line x1="218.40" y1="728.40" x2="222.00" y2="728.40" stroke="#1e1e1e" stroke-width="1.1"/>
<line x1="218.40" y1="708.50" x2="222.00" y2="708.50" stroke="#1e1e1e" stroke-width="1.1"/>
<line x1="218.40" y1="688.60" x2="222.00" y2="688.60" stroke="#1e1e1e" stroke-width="1.1"/>
<line x1="218.40" y1="668.70" x2="222.00" y2="668.70" stroke="#1e1e1e" stroke-width="1.1"/>
<text x="215.00" y="671.30" font-size="8.9" text-anchor="end" fill="#1e1e1e" stroke="#1e1e1e">0.1</text>
<text x="215.00" y="691.20" font-size="8.9" text-anchor="end" fill="#1e1e1e" stroke="#1e1e1e">0.08</text>
<text x="215.00" y="711.10" font-size="8.9" text-anchor="end" fill="#1e1e1e" stroke="#1e1e1e">0.06</text>
<text x="215.00" y="731.00" font-size="8.9" text-anchor="end" fill="#1e1e1e" stroke="#1e1e1e">0.04</text>
<text x="215.00" y="750.90" font-size="8.9" text-anchor="end" fill="#1e1e1e" stroke="#1e1e1e">0.02</text>
<text x="215.00" y="770.80" font-size="8.9" text-anchor="end" fill="#1e1e1e" stroke="#1e1e1e">0</text>
<text x="284.80" y="665.20" font-size="10.6" text-anchor="middle" font-weight="bold" fill="#1e1e1e" stroke="#1e1e1e">IHH</text>
<line x1="242.00" y1="768.20" x2="242.00" y2="771.20" stroke="#1e1e1e" stroke-width="1.0"/>
<text x="242.00" y="783.30" font-size="9.2" text-anchor="middle" fill="#1e1e1e" stroke="#1e1e1e">T cell</text>
<text x="242.00" y="794.50" font-size="9.2" text-anchor="middle" fill="#1e1e1e" stroke="#1e1e1e">subsets</text>
<line x1="284.30" y1="768.20" x2="284.30" y2="771.20" stroke="#1e1e1e" stroke-width="1.0"/>
<text x="284.30" y="783.30" font-size="9.2" text-anchor="middle" fill="#1e1e1e" stroke="#1e1e1e">GLI1</text>
<text x="284.30" y="794.50" font-size="9.2" text-anchor="middle" fill="#1e1e1e" stroke="#1e1e1e">high</text>
<line x1="325.00" y1="768.20" x2="325.00" y2="771.20" stroke="#1e1e1e" stroke-width="1.0"/>
<text x="325.00" y="783.30" font-size="9.2" text-anchor="middle" fill="#1e1e1e" stroke="#1e1e1e">GLI1</text>
<text x="325.00" y="794.50" font-size="9.2" text-anchor="middle" fill="#1e1e1e" stroke="#1e1e1e">low</text>
<line x1="242.00" y1="749.00" x2="242.00" y2="759.40" stroke="#1e1e1e" stroke-width="1.3" stroke-dasharray="1.6,1.2"/>
<line x1="237.40" y1="749.00" x2="246.60" y2="749.00" stroke="#1e1e1e" stroke-width="1.2"/>
<rect x="232.40" y="759.40" width="19.20" height="8.50" fill="none" stroke="#45508e" stroke-width="1.0"/>
<line x1="232.90" y1="767.60" x2="251.10" y2="767.60" stroke="#c4233e" stroke-width="1.1"/>
<circle cx="241.60" cy="744.50" r="0.8" fill="#c03050"/>
<line x1="284.30" y1="764.00" x2="284.30" y2="765.00" stroke="#1e1e1e" stroke-width="1.3" stroke-dasharray="1.6,1.2"/>
<line x1="280.30" y1="765.00" x2="288.30" y2="765.00" stroke="#1e1e1e" stroke-width="1.2"/>
<rect x="274.70" y="756.00" width="19.20" height="8.00" fill="none" stroke="#45508e" stroke-width="1.0"/>
<line x1="275.20" y1="762.20" x2="293.40" y2="762.20" stroke="#c4233e" stroke-width="1.1"/>
<rect x="315.40" y="766.80" width="19.20" height="1.00" fill="none" stroke="#45508e" stroke-width="1.0"/>
<line x1="315.90" y1="767.30" x2="334.10" y2="767.30" stroke="#b0306a" stroke-width="1.1"/>
<line x1="253.00" y1="739.30" x2="270.40" y2="739.30" stroke="#1e1e1e" stroke-width="1.2"/>
<text x="261.70" y="736.70" font-size="9.0" text-anchor="middle" fill="#1e1e1e" stroke="#1e1e1e">ns</text>
<path d="M284.2,747.3 L284.2,740.4 L323.0,740.4 L323.0,761.8" fill="none" stroke="#1e1e1e" stroke-width="1.2" stroke-linejoin="miter"/>
<text x="303.30" y="738.20" font-size="11.5" text-anchor="middle" fill="#1e1e1e" stroke="#1e1e1e">**</text>
<line x1="287.60" y1="667.80" x2="287.60" y2="710.20" stroke="#1e1e1e" stroke-width="1.3"/>
<line x1="287.00" y1="709.70" x2="340.60" y2="709.70" stroke="#1e1e1e" stroke-width="1.3"/>
<line x1="285.40" y1="670.00" x2="287.60" y2="670.00" stroke="#1e1e1e" stroke-width="0.9"/>
<line x1="285.40" y1="673.25" x2="287.60" y2="673.25" stroke="#1e1e1e" stroke-width="0.9"/>
<line x1="285.40" y1="676.50" x2="287.60" y2="676.50" stroke="#1e1e1e" stroke-width="0.9"/>
<line x1="285.40" y1="679.75" x2="287.60" y2="679.75" stroke="#1e1e1e" stroke-width="0.9"/>
<line x1="285.40" y1="683.00" x2="287.60" y2="683.00" stroke="#1e1e1e" stroke-width="0.9"/>
<line x1="285.40" y1="686.25" x2="287.60" y2="686.25" stroke="#1e1e1e" stroke-width="0.9"/>
<line x1="285.40" y1="689.50" x2="287.60" y2="689.50" stroke="#1e1e1e" stroke-width="0.9"/>
<line x1="285.40" y1="692.75" x2="287.60" y2="692.75" stroke="#1e1e1e" stroke-width="0.9"/>
<line x1="285.40" y1="696.00" x2="287.60" y2="696.00" stroke="#1e1e1e" stroke-width="0.9"/>
<line x1="285.40" y1="699.25" x2="287.60" y2="699.25" stroke="#1e1e1e" stroke-width="0.9"/>
<line x1="285.40" y1="702.50" x2="287.60" y2="702.50" stroke="#1e1e1e" stroke-width="0.9"/>
<line x1="285.40" y1="705.75" x2="287.60" y2="705.75" stroke="#1e1e1e" stroke-width="0.9"/>
<text x="283.60" y="704.60" font-size="8.6" text-anchor="end" fill="#1e1e1e" stroke="#1e1e1e">0.02</text>
<text x="296.70" y="720.00" font-size="9.0" text-anchor="middle" fill="#1e1e1e" stroke="#1e1e1e">DN</text>
<text x="313.50" y="720.00" font-size="9.0" text-anchor="middle" fill="#1e1e1e" stroke="#1e1e1e">DP</text>
<text x="331.60" y="720.00" font-size="9.0" text-anchor="middle" fill="#1e1e1e" stroke="#1e1e1e">SP</text>
<line x1="295.80" y1="695.10" x2="310.60" y2="695.10" stroke="#1e1e1e" stroke-width="1.2"/>
<text x="303.20" y="694.30" font-size="10.8" text-anchor="middle" fill="#1e1e1e" stroke="#1e1e1e">***</text>
<line x1="315.40" y1="695.10" x2="330.90" y2="695.10" stroke="#1e1e1e" stroke-width="1.2"/>
<text x="323.00" y="694.30" font-size="10.8" text-anchor="middle" fill="#1e1e1e" stroke="#1e1e1e">**</text>
<line x1="314.60" y1="706.30" x2="314.60" y2="708.20" stroke="#1e1e1e" stroke-width="0.9"/>
<rect x="310.20" y="700.90" width="8.90" height="5.40" fill="#f4e6ee" stroke="#6a5aa0" stroke-width="1.0"/>
<line x1="310.70" y1="702.60" x2="318.60" y2="702.60" stroke="#d07090" stroke-width="1.0"/>
<rect x="328.30" y="706.20" width="6.30" height="3.00" fill="#f0e0ea" stroke="#7a5a9a" stroke-width="0.9"/>
<line x1="296.50" y1="709.00" x2="297.50" y2="709.00" stroke="#c4233e" stroke-width="0.8"/>
<line x1="384.80" y1="669.20" x2="384.80" y2="769.10" stroke="#1e1e1e" stroke-width="1.4"/>
<line x1="384.10" y1="768.50" x2="511.50" y2="768.50" stroke="#1e1e1e" stroke-width="1.4"/>
<line x1="381.40" y1="761.30" x2="384.80" y2="761.30" stroke="#1e1e1e" stroke-width="1.0"/>
<line x1="381.40" y1="744.75" x2="384.80" y2="744.75" stroke="#1e1e1e" stroke-width="1.0"/>
<line x1="381.40" y1="728.20" x2="384.80" y2="728.20" stroke="#1e1e1e" stroke-width="1.0"/>
<line x1="381.40" y1="711.65" x2="384.80" y2="711.65" stroke="#1e1e1e" stroke-width="1.0"/>
<line x1="381.40" y1="695.10" x2="384.80" y2="695.10" stroke="#1e1e1e" stroke-width="1.0"/>
<line x1="381.40" y1="678.55" x2="384.80" y2="678.55" stroke="#1e1e1e" stroke-width="1.0"/>
<line x1="381.20" y1="761.30" x2="384.80" y2="761.30" stroke="#1e1e1e" stroke-width="1.1"/>
<line x1="381.20" y1="744.75" x2="384.80" y2="744.75" stroke="#1e1e1e" stroke-width="1.1"/>
<line x1="381.20" y1="728.20" x2="384.80" y2="728.20" stroke="#1e1e1e" stroke-width="1.1"/>
<line x1="381.20" y1="711.65" x2="384.80" y2="711.65" stroke="#1e1e1e" stroke-width="1.1"/>
<line x1="381.20" y1="695.10" x2="384.80" y2="695.10" stroke="#1e1e1e" stroke-width="1.1"/>
<line x1="381.20" y1="678.55" x2="384.80" y2="678.55" stroke="#1e1e1e" stroke-width="1.1"/>
<text x="377.80" y="681.10" font-size="8.9" text-anchor="end" fill="#1e1e1e" stroke="#1e1e1e">2.5</text>
<text x="377.80" y="697.60" font-size="8.9" text-anchor="end" fill="#1e1e1e" stroke="#1e1e1e">2</text>
<text x="377.80" y="714.10" font-size="8.9" text-anchor="end" fill="#1e1e1e" stroke="#1e1e1e">1.5</text>
<text x="377.80" y="730.80" font-size="8.9" text-anchor="end" fill="#1e1e1e" stroke="#1e1e1e">1</text>
<text x="377.80" y="747.20" font-size="8.9" text-anchor="end" fill="#1e1e1e" stroke="#1e1e1e">0.5</text>
<text x="377.80" y="771.40" font-size="8.9" text-anchor="end" fill="#1e1e1e" stroke="#1e1e1e">0</text>
<text x="447.80" y="665.20" font-size="10.6" text-anchor="middle" font-weight="bold" fill="#1e1e1e" stroke="#1e1e1e">SMO</text>
<line x1="405.80" y1="768.50" x2="405.80" y2="771.50" stroke="#1e1e1e" stroke-width="1.0"/>
<text x="405.80" y="783.30" font-size="9.2" text-anchor="middle" fill="#1e1e1e" stroke="#1e1e1e">T cell</text>
<text x="405.80" y="794.50" font-size="9.2" text-anchor="middle" fill="#1e1e1e" stroke="#1e1e1e">subsets</text>
<line x1="448.20" y1="768.50" x2="448.20" y2="771.50" stroke="#1e1e1e" stroke-width="1.0"/>
<text x="448.20" y="783.30" font-size="9.2" text-anchor="middle" fill="#1e1e1e" stroke="#1e1e1e">GLI1</text>
<text x="448.20" y="794.50" font-size="9.2" text-anchor="middle" fill="#1e1e1e" stroke="#1e1e1e">high</text>
<line x1="490.20" y1="768.50" x2="490.20" y2="771.50" stroke="#1e1e1e" stroke-width="1.0"/>
<text x="490.20" y="783.30" font-size="9.2" text-anchor="middle" fill="#1e1e1e" stroke="#1e1e1e">GLI1</text>
<text x="490.20" y="794.50" font-size="9.2" text-anchor="middle" fill="#1e1e1e" stroke="#1e1e1e">low</text>
<line x1="405.80" y1="673.80" x2="405.80" y2="682.00" stroke="#1e1e1e" stroke-width="1.3" stroke-dasharray="1.6,1.2"/>
<line x1="400.80" y1="673.80" x2="410.80" y2="673.80" stroke="#1e1e1e" stroke-width="1.2"/>
<line x1="405.80" y1="737.40" x2="405.80" y2="758.20" stroke="#1e1e1e" stroke-width="1.3" stroke-dasharray="1.6,1.2"/>
<line x1="400.80" y1="758.20" x2="410.80" y2="758.20" stroke="#1e1e1e" stroke-width="1.2"/>
<rect x="396.20" y="682.00" width="19.20" height="55.40" fill="none" stroke="#45508e" stroke-width="1.0"/>
<line x1="396.70" y1="705.80" x2="414.90" y2="705.80" stroke="#c4233e" stroke-width="1.1"/>
<line x1="448.20" y1="694.70" x2="448.20" y2="696.40" stroke="#1e1e1e" stroke-width="1.3" stroke-dasharray="1.6,1.2"/>
<line x1="443.70" y1="694.70" x2="452.70" y2="694.70" stroke="#1e1e1e" stroke-width="1.2"/>
<line x1="448.20" y1="703.30" x2="448.20" y2="705.00" stroke="#1e1e1e" stroke-width="1.3" stroke-dasharray="1.6,1.2"/>
<line x1="443.70" y1="705.00" x2="452.70" y2="705.00" stroke="#1e1e1e" stroke-width="1.2"/>
<rect x="438.60" y="696.40" width="19.20" height="6.90" fill="none" stroke="#45508e" stroke-width="1.0"/>
<line x1="439.10" y1="699.50" x2="457.30" y2="699.50" stroke="#c4233e" stroke-width="1.1"/>
<line x1="490.20" y1="733.40" x2="490.20" y2="734.00" stroke="#1e1e1e" stroke-width="1.3" stroke-dasharray="1.6,1.2"/>
<line x1="485.70" y1="733.40" x2="494.70" y2="733.40" stroke="#1e1e1e" stroke-width="1.2"/>
<line x1="490.20" y1="758.40" x2="490.20" y2="758.60" stroke="#1e1e1e" stroke-width="1.3" stroke-dasharray="1.6,1.2"/>
<line x1="485.70" y1="758.60" x2="494.70" y2="758.60" stroke="#1e1e1e" stroke-width="1.2"/>
<rect x="480.60" y="734.00" width="19.20" height="24.40" fill="none" stroke="#45508e" stroke-width="1.0"/>
<line x1="481.10" y1="750.00" x2="499.30" y2="750.00" stroke="#c4233e" stroke-width="1.1"/>
<line x1="418.20" y1="680.50" x2="435.70" y2="680.50" stroke="#1e1e1e" stroke-width="1.2"/>
<text x="426.95" y="677.90" font-size="9.0" text-anchor="middle" fill="#1e1e1e" stroke="#1e1e1e">ns</text>
<path d="M450.0,686.7 L450.0,680.8 L491.3,680.8 L491.3,723.0" fill="none" stroke="#1e1e1e" stroke-width="1.2" stroke-linejoin="miter"/>
<text x="470.00" y="681.20" font-size="11.5" text-anchor="middle" fill="#1e1e1e" stroke="#1e1e1e">***</text>
</svg>
<svg width="520" height="805" viewBox="0 0 520 805">
<rect x="0.8" y="0.7" width="518.4" height="803.5" fill="none" stroke="#111" stroke-width="1.7"/>
</svg></div></body></html>
